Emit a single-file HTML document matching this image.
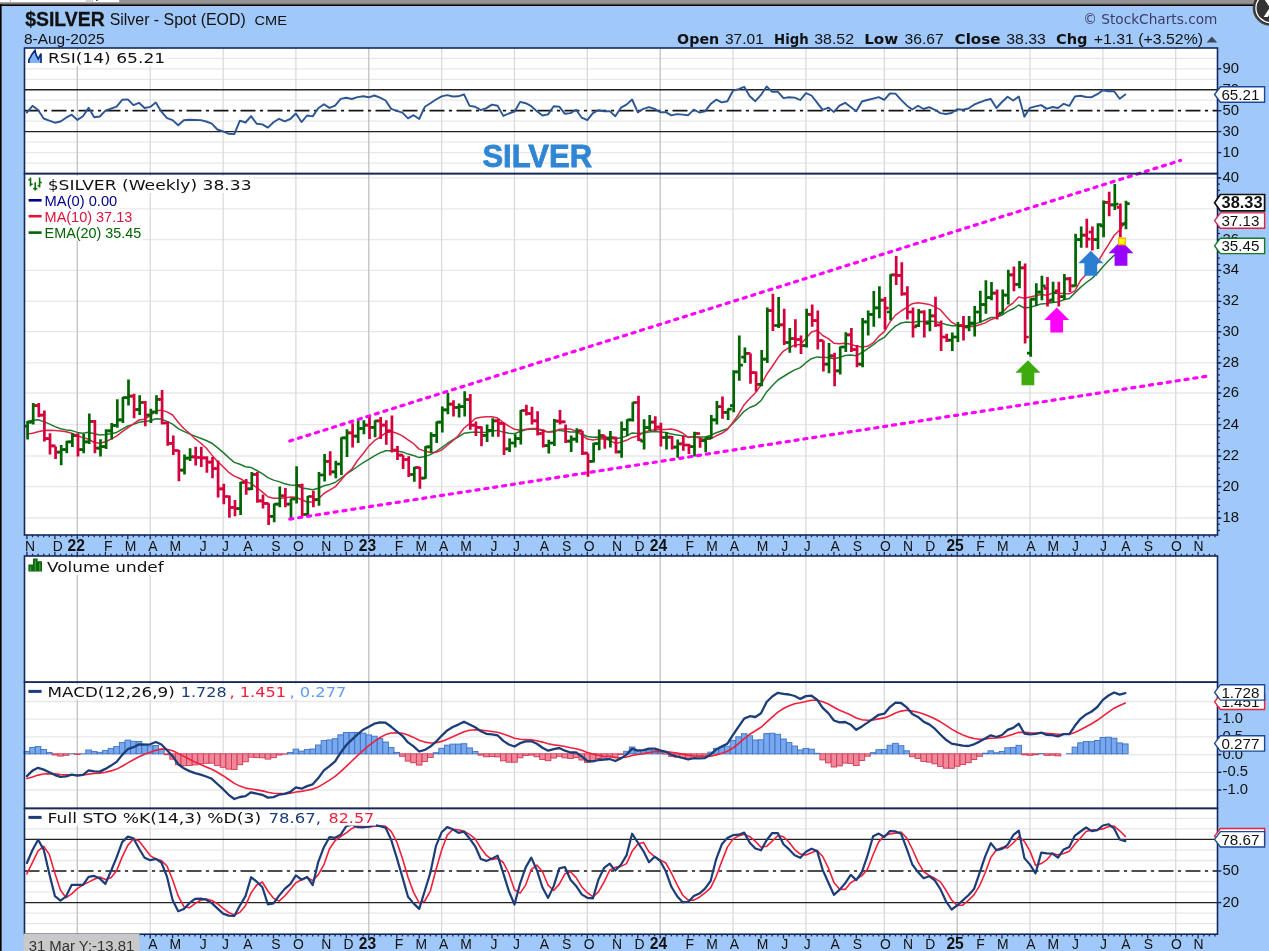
<!DOCTYPE html>
<html><head><meta charset="utf-8"><title>$SILVER Silver - Spot (EOD) CME</title>
<style>html,body{margin:0;padding:0;background:#a0c8f8;}body{width:1269px;height:951px;overflow:hidden;position:relative;}</style>
</head><body>
<svg width="1269" height="951" viewBox="0 0 1269 951" style="display:block;position:absolute;left:0;top:0">
<rect x="0" y="0" width="1269" height="951" fill="#a0c8f8"/>
<rect x="0" y="0" width="1269" height="5" fill="#8e8e8e"/>
<rect x="0" y="2.3" width="1269" height="2.4" fill="#7c7c7c"/>
<rect x="119.2" y="0" width="1150" height="3.4" fill="#929292"/>
<rect x="0" y="0" width="119.2" height="2.3" fill="#ffffff"/>
<rect x="9.8" y="0" width="1" height="2.3" fill="#b4b4b4"/>
<rect x="85.7" y="0" width="5.6" height="2.3" fill="#d2d2d2"/>
<rect x="91.8" y="0" width="0.8" height="2.3" fill="#9a9a9a"/>
<rect x="96.2" y="0" width="1.4" height="1" fill="#222"/>
<rect x="0" y="4.5" width="1269" height="1.5" fill="#000"/>
<rect x="0" y="4.5" width="1.6" height="947" fill="#000"/>
<rect x="24.5" y="48.0" width="1193.0" height="487.0" fill="#fff"/>
<rect x="24.5" y="556.0" width="1193.0" height="378.20000000000005" fill="#fff"/>
<line x1="24.5" y1="58.4" x2="1217.5" y2="58.4" stroke="#e8e8e8" stroke-width="1.3"/>
<line x1="24.5" y1="68.8" x2="1217.5" y2="68.8" stroke="#e8e8e8" stroke-width="1.3"/>
<line x1="24.5" y1="79.3" x2="1217.5" y2="79.3" stroke="#e8e8e8" stroke-width="1.3"/>
<line x1="24.5" y1="100.2" x2="1217.5" y2="100.2" stroke="#e8e8e8" stroke-width="1.3"/>
<line x1="24.5" y1="121.2" x2="1217.5" y2="121.2" stroke="#e8e8e8" stroke-width="1.3"/>
<line x1="24.5" y1="142.1" x2="1217.5" y2="142.1" stroke="#e8e8e8" stroke-width="1.3"/>
<line x1="24.5" y1="152.6" x2="1217.5" y2="152.6" stroke="#e8e8e8" stroke-width="1.3"/>
<line x1="24.5" y1="163.1" x2="1217.5" y2="163.1" stroke="#e8e8e8" stroke-width="1.3"/>
<line x1="77.3" y1="48.0" x2="77.3" y2="173.6" stroke="#c2c2c2" stroke-width="1.3"/>
<line x1="150.2" y1="48.0" x2="150.2" y2="173.6" stroke="#dadada" stroke-width="1.3"/>
<line x1="223.1" y1="48.0" x2="223.1" y2="173.6" stroke="#dadada" stroke-width="1.3"/>
<line x1="295.9" y1="48.0" x2="295.9" y2="173.6" stroke="#dadada" stroke-width="1.3"/>
<line x1="368.8" y1="48.0" x2="368.8" y2="173.6" stroke="#c2c2c2" stroke-width="1.3"/>
<line x1="441.6" y1="48.0" x2="441.6" y2="173.6" stroke="#dadada" stroke-width="1.3"/>
<line x1="514.5" y1="48.0" x2="514.5" y2="173.6" stroke="#dadada" stroke-width="1.3"/>
<line x1="587.3" y1="48.0" x2="587.3" y2="173.6" stroke="#dadada" stroke-width="1.3"/>
<line x1="660.2" y1="48.0" x2="660.2" y2="173.6" stroke="#c2c2c2" stroke-width="1.3"/>
<line x1="733.0" y1="48.0" x2="733.0" y2="173.6" stroke="#dadada" stroke-width="1.3"/>
<line x1="805.9" y1="48.0" x2="805.9" y2="173.6" stroke="#dadada" stroke-width="1.3"/>
<line x1="884.3" y1="48.0" x2="884.3" y2="173.6" stroke="#dadada" stroke-width="1.3"/>
<line x1="957.2" y1="48.0" x2="957.2" y2="173.6" stroke="#c2c2c2" stroke-width="1.3"/>
<line x1="1030.0" y1="48.0" x2="1030.0" y2="173.6" stroke="#dadada" stroke-width="1.3"/>
<line x1="1102.9" y1="48.0" x2="1102.9" y2="173.6" stroke="#dadada" stroke-width="1.3"/>
<line x1="1175.7" y1="48.0" x2="1175.7" y2="173.6" stroke="#dadada" stroke-width="1.3"/>
<line x1="24.5" y1="518.0" x2="1217.5" y2="518.0" stroke="#e8e8e8" stroke-width="1.3"/>
<line x1="24.5" y1="486.6" x2="1217.5" y2="486.6" stroke="#e8e8e8" stroke-width="1.3"/>
<line x1="24.5" y1="456.0" x2="1217.5" y2="456.0" stroke="#e8e8e8" stroke-width="1.3"/>
<line x1="24.5" y1="424.6" x2="1217.5" y2="424.6" stroke="#e8e8e8" stroke-width="1.3"/>
<line x1="24.5" y1="393.0" x2="1217.5" y2="393.0" stroke="#e8e8e8" stroke-width="1.3"/>
<line x1="24.5" y1="362.9" x2="1217.5" y2="362.9" stroke="#e8e8e8" stroke-width="1.3"/>
<line x1="24.5" y1="331.7" x2="1217.5" y2="331.7" stroke="#e8e8e8" stroke-width="1.3"/>
<line x1="24.5" y1="301.4" x2="1217.5" y2="301.4" stroke="#e8e8e8" stroke-width="1.3"/>
<line x1="24.5" y1="270.4" x2="1217.5" y2="270.4" stroke="#e8e8e8" stroke-width="1.3"/>
<line x1="24.5" y1="239.7" x2="1217.5" y2="239.7" stroke="#e8e8e8" stroke-width="1.3"/>
<line x1="24.5" y1="208.8" x2="1217.5" y2="208.8" stroke="#e8e8e8" stroke-width="1.3"/>
<line x1="24.5" y1="177.9" x2="1217.5" y2="177.9" stroke="#e8e8e8" stroke-width="1.3"/>
<line x1="77.3" y1="173.6" x2="77.3" y2="535.0" stroke="#c2c2c2" stroke-width="1.3"/>
<line x1="150.2" y1="173.6" x2="150.2" y2="535.0" stroke="#dadada" stroke-width="1.3"/>
<line x1="223.1" y1="173.6" x2="223.1" y2="535.0" stroke="#dadada" stroke-width="1.3"/>
<line x1="295.9" y1="173.6" x2="295.9" y2="535.0" stroke="#dadada" stroke-width="1.3"/>
<line x1="368.8" y1="173.6" x2="368.8" y2="535.0" stroke="#c2c2c2" stroke-width="1.3"/>
<line x1="441.6" y1="173.6" x2="441.6" y2="535.0" stroke="#dadada" stroke-width="1.3"/>
<line x1="514.5" y1="173.6" x2="514.5" y2="535.0" stroke="#dadada" stroke-width="1.3"/>
<line x1="587.3" y1="173.6" x2="587.3" y2="535.0" stroke="#dadada" stroke-width="1.3"/>
<line x1="660.2" y1="173.6" x2="660.2" y2="535.0" stroke="#c2c2c2" stroke-width="1.3"/>
<line x1="733.0" y1="173.6" x2="733.0" y2="535.0" stroke="#dadada" stroke-width="1.3"/>
<line x1="805.9" y1="173.6" x2="805.9" y2="535.0" stroke="#dadada" stroke-width="1.3"/>
<line x1="884.3" y1="173.6" x2="884.3" y2="535.0" stroke="#dadada" stroke-width="1.3"/>
<line x1="957.2" y1="173.6" x2="957.2" y2="535.0" stroke="#c2c2c2" stroke-width="1.3"/>
<line x1="1030.0" y1="173.6" x2="1030.0" y2="535.0" stroke="#dadada" stroke-width="1.3"/>
<line x1="1102.9" y1="173.6" x2="1102.9" y2="535.0" stroke="#dadada" stroke-width="1.3"/>
<line x1="1175.7" y1="173.6" x2="1175.7" y2="535.0" stroke="#dadada" stroke-width="1.3"/>
<line x1="77.3" y1="556.0" x2="77.3" y2="682.2" stroke="#c2c2c2" stroke-width="1.3"/>
<line x1="150.2" y1="556.0" x2="150.2" y2="682.2" stroke="#dadada" stroke-width="1.3"/>
<line x1="223.1" y1="556.0" x2="223.1" y2="682.2" stroke="#dadada" stroke-width="1.3"/>
<line x1="295.9" y1="556.0" x2="295.9" y2="682.2" stroke="#dadada" stroke-width="1.3"/>
<line x1="368.8" y1="556.0" x2="368.8" y2="682.2" stroke="#c2c2c2" stroke-width="1.3"/>
<line x1="441.6" y1="556.0" x2="441.6" y2="682.2" stroke="#dadada" stroke-width="1.3"/>
<line x1="514.5" y1="556.0" x2="514.5" y2="682.2" stroke="#dadada" stroke-width="1.3"/>
<line x1="587.3" y1="556.0" x2="587.3" y2="682.2" stroke="#dadada" stroke-width="1.3"/>
<line x1="660.2" y1="556.0" x2="660.2" y2="682.2" stroke="#c2c2c2" stroke-width="1.3"/>
<line x1="733.0" y1="556.0" x2="733.0" y2="682.2" stroke="#dadada" stroke-width="1.3"/>
<line x1="805.9" y1="556.0" x2="805.9" y2="682.2" stroke="#dadada" stroke-width="1.3"/>
<line x1="884.3" y1="556.0" x2="884.3" y2="682.2" stroke="#dadada" stroke-width="1.3"/>
<line x1="957.2" y1="556.0" x2="957.2" y2="682.2" stroke="#c2c2c2" stroke-width="1.3"/>
<line x1="1030.0" y1="556.0" x2="1030.0" y2="682.2" stroke="#dadada" stroke-width="1.3"/>
<line x1="1102.9" y1="556.0" x2="1102.9" y2="682.2" stroke="#dadada" stroke-width="1.3"/>
<line x1="1175.7" y1="556.0" x2="1175.7" y2="682.2" stroke="#dadada" stroke-width="1.3"/>
<line x1="24.5" y1="701.5" x2="1217.5" y2="701.5" stroke="#e8e8e8" stroke-width="1.3"/>
<line x1="24.5" y1="719.2" x2="1217.5" y2="719.2" stroke="#e8e8e8" stroke-width="1.3"/>
<line x1="24.5" y1="736.9" x2="1217.5" y2="736.9" stroke="#e8e8e8" stroke-width="1.3"/>
<line x1="24.5" y1="754.6" x2="1217.5" y2="754.6" stroke="#e8e8e8" stroke-width="1.3"/>
<line x1="24.5" y1="772.3" x2="1217.5" y2="772.3" stroke="#e8e8e8" stroke-width="1.3"/>
<line x1="24.5" y1="790.0" x2="1217.5" y2="790.0" stroke="#e8e8e8" stroke-width="1.3"/>
<line x1="77.3" y1="682.2" x2="77.3" y2="808.4" stroke="#c2c2c2" stroke-width="1.3"/>
<line x1="150.2" y1="682.2" x2="150.2" y2="808.4" stroke="#dadada" stroke-width="1.3"/>
<line x1="223.1" y1="682.2" x2="223.1" y2="808.4" stroke="#dadada" stroke-width="1.3"/>
<line x1="295.9" y1="682.2" x2="295.9" y2="808.4" stroke="#dadada" stroke-width="1.3"/>
<line x1="368.8" y1="682.2" x2="368.8" y2="808.4" stroke="#c2c2c2" stroke-width="1.3"/>
<line x1="441.6" y1="682.2" x2="441.6" y2="808.4" stroke="#dadada" stroke-width="1.3"/>
<line x1="514.5" y1="682.2" x2="514.5" y2="808.4" stroke="#dadada" stroke-width="1.3"/>
<line x1="587.3" y1="682.2" x2="587.3" y2="808.4" stroke="#dadada" stroke-width="1.3"/>
<line x1="660.2" y1="682.2" x2="660.2" y2="808.4" stroke="#c2c2c2" stroke-width="1.3"/>
<line x1="733.0" y1="682.2" x2="733.0" y2="808.4" stroke="#dadada" stroke-width="1.3"/>
<line x1="805.9" y1="682.2" x2="805.9" y2="808.4" stroke="#dadada" stroke-width="1.3"/>
<line x1="884.3" y1="682.2" x2="884.3" y2="808.4" stroke="#dadada" stroke-width="1.3"/>
<line x1="957.2" y1="682.2" x2="957.2" y2="808.4" stroke="#c2c2c2" stroke-width="1.3"/>
<line x1="1030.0" y1="682.2" x2="1030.0" y2="808.4" stroke="#dadada" stroke-width="1.3"/>
<line x1="1102.9" y1="682.2" x2="1102.9" y2="808.4" stroke="#dadada" stroke-width="1.3"/>
<line x1="1175.7" y1="682.2" x2="1175.7" y2="808.4" stroke="#dadada" stroke-width="1.3"/>
<line x1="24.5" y1="818.3" x2="1217.5" y2="818.3" stroke="#e8e8e8" stroke-width="1.3"/>
<line x1="24.5" y1="828.8" x2="1217.5" y2="828.8" stroke="#e8e8e8" stroke-width="1.3"/>
<line x1="24.5" y1="849.9" x2="1217.5" y2="849.9" stroke="#e8e8e8" stroke-width="1.3"/>
<line x1="24.5" y1="860.5" x2="1217.5" y2="860.5" stroke="#e8e8e8" stroke-width="1.3"/>
<line x1="24.5" y1="881.5" x2="1217.5" y2="881.5" stroke="#e8e8e8" stroke-width="1.3"/>
<line x1="24.5" y1="892.1" x2="1217.5" y2="892.1" stroke="#e8e8e8" stroke-width="1.3"/>
<line x1="24.5" y1="913.2" x2="1217.5" y2="913.2" stroke="#e8e8e8" stroke-width="1.3"/>
<line x1="24.5" y1="923.7" x2="1217.5" y2="923.7" stroke="#e8e8e8" stroke-width="1.3"/>
<line x1="77.3" y1="808.4" x2="77.3" y2="934.2" stroke="#c2c2c2" stroke-width="1.3"/>
<line x1="150.2" y1="808.4" x2="150.2" y2="934.2" stroke="#dadada" stroke-width="1.3"/>
<line x1="223.1" y1="808.4" x2="223.1" y2="934.2" stroke="#dadada" stroke-width="1.3"/>
<line x1="295.9" y1="808.4" x2="295.9" y2="934.2" stroke="#dadada" stroke-width="1.3"/>
<line x1="368.8" y1="808.4" x2="368.8" y2="934.2" stroke="#c2c2c2" stroke-width="1.3"/>
<line x1="441.6" y1="808.4" x2="441.6" y2="934.2" stroke="#dadada" stroke-width="1.3"/>
<line x1="514.5" y1="808.4" x2="514.5" y2="934.2" stroke="#dadada" stroke-width="1.3"/>
<line x1="587.3" y1="808.4" x2="587.3" y2="934.2" stroke="#dadada" stroke-width="1.3"/>
<line x1="660.2" y1="808.4" x2="660.2" y2="934.2" stroke="#c2c2c2" stroke-width="1.3"/>
<line x1="733.0" y1="808.4" x2="733.0" y2="934.2" stroke="#dadada" stroke-width="1.3"/>
<line x1="805.9" y1="808.4" x2="805.9" y2="934.2" stroke="#dadada" stroke-width="1.3"/>
<line x1="884.3" y1="808.4" x2="884.3" y2="934.2" stroke="#dadada" stroke-width="1.3"/>
<line x1="957.2" y1="808.4" x2="957.2" y2="934.2" stroke="#c2c2c2" stroke-width="1.3"/>
<line x1="1030.0" y1="808.4" x2="1030.0" y2="934.2" stroke="#dadada" stroke-width="1.3"/>
<line x1="1102.9" y1="808.4" x2="1102.9" y2="934.2" stroke="#dadada" stroke-width="1.3"/>
<line x1="1175.7" y1="808.4" x2="1175.7" y2="934.2" stroke="#dadada" stroke-width="1.3"/>
<line x1="24.5" y1="89.8" x2="1217.5" y2="89.8" stroke="#222" stroke-width="1.4"/>
<line x1="24.5" y1="131.6" x2="1217.5" y2="131.6" stroke="#222" stroke-width="1.4"/>
<line x1="24.5" y1="110.7" x2="1217.5" y2="110.7" stroke="#151515" stroke-width="1.7" stroke-dasharray="15 4.4 3.2 4.4"/>
<line x1="24.5" y1="839.4" x2="1217.5" y2="839.4" stroke="#222" stroke-width="1.4"/>
<line x1="24.5" y1="902.6" x2="1217.5" y2="902.6" stroke="#222" stroke-width="1.4"/>
<line x1="24.5" y1="871.0" x2="1217.5" y2="871.0" stroke="#151515" stroke-width="1.7" stroke-dasharray="15 4.4 3.2 4.4"/>
<polyline points="26.9,112.6 32.5,105.8 38.1,109.9 43.7,118.5 49.3,120.7 54.9,122.7 60.5,121.5 66.1,117.7 71.7,114.7 77.3,119.9 83.0,116.2 88.6,107.8 94.2,117.2 99.8,116.5 105.4,110.6 111.0,108.6 116.6,106.7 122.2,99.8 127.8,99.4 133.4,105.1 139.0,102.8 144.6,108.0 150.2,106.9 155.8,102.6 161.4,111.7 167.0,118.1 172.6,120.1 178.2,125.2 183.8,120.3 189.4,119.8 195.0,120.0 200.6,120.1 206.2,121.5 211.8,123.7 217.4,129.5 223.1,131.3 228.7,133.8 234.3,134.1 239.9,120.6 245.5,122.5 251.1,116.1 256.7,123.8 262.3,124.4 267.9,127.6 273.5,122.3 279.1,118.8 284.7,121.3 290.3,119.0 295.9,113.5 301.5,122.1 307.1,115.5 312.7,116.4 318.3,108.2 323.9,104.3 329.5,107.9 335.1,105.6 340.7,98.9 346.3,97.8 351.9,99.0 357.5,97.1 363.2,96.3 368.8,97.3 374.4,95.5 380.0,97.7 385.6,100.5 391.2,108.9 396.8,110.9 402.4,112.7 408.0,118.3 413.6,115.2 419.2,119.0 424.8,106.8 430.4,103.3 436.0,99.5 441.6,96.4 447.2,95.1 452.8,96.5 458.4,96.3 464.0,94.3 469.6,105.9 475.2,106.8 480.8,110.1 486.4,108.1 492.0,104.6 497.6,105.7 503.3,115.9 508.9,113.5 514.5,111.7 520.1,101.9 525.7,103.2 531.3,106.2 536.9,111.2 542.5,115.5 548.1,114.4 553.7,106.3 559.3,106.6 564.9,113.8 570.5,113.1 576.1,109.8 581.7,117.7 587.3,120.2 592.9,113.1 598.5,110.2 604.1,111.4 609.7,111.1 615.3,116.3 620.9,107.7 626.5,104.6 632.1,99.5 637.8,112.4 643.4,108.8 649.0,107.2 654.6,108.9 660.2,112.3 665.8,112.1 671.4,115.4 677.0,114.1 682.6,114.6 688.2,115.2 693.8,109.6 699.4,112.5 705.0,111.3 710.6,104.1 716.2,99.7 721.8,102.4 727.4,101.3 733.0,90.7 738.6,89.2 744.2,86.8 749.8,96.2 755.4,101.2 761.0,94.9 766.6,86.4 772.2,91.9 777.9,91.8 783.5,98.1 789.1,97.3 794.7,97.6 800.3,100.0 805.9,93.1 811.5,95.5 817.1,102.7 822.7,109.8 828.3,107.6 833.9,111.9 839.5,105.6 845.1,102.8 850.7,107.1 856.3,111.2 861.9,101.5 867.5,100.0 873.1,98.6 878.7,97.1 884.3,99.8 889.9,93.5 895.5,93.6 901.1,99.8 906.7,105.4 912.3,109.5 918.0,105.8 923.6,109.0 929.2,107.1 934.8,109.8 940.4,113.1 946.0,114.0 951.6,113.0 957.2,109.3 962.8,109.7 968.4,108.5 974.0,104.7 979.6,102.4 985.2,100.3 990.8,99.0 996.4,108.0 1002.0,102.0 1007.6,96.8 1013.2,100.5 1018.8,96.5 1024.4,116.8 1030.0,107.8 1035.6,106.4 1041.2,105.1 1046.8,108.9 1052.4,107.0 1058.0,108.0 1063.7,103.8 1069.3,105.9 1074.9,96.5 1080.5,95.7 1086.1,97.0 1091.7,97.2 1097.3,94.2 1102.9,90.3 1108.5,91.3 1114.1,91.2 1119.7,98.8 1125.3,94.5" fill="none" stroke="#2c5693" stroke-width="1.9" stroke-linejoin="round" stroke-linecap="round" />
<polyline points="26.9,421.8 32.5,420.3 38.1,419.8 43.7,421.6 49.3,423.9 54.9,426.6 60.5,428.8 66.1,430.1 71.7,430.6 77.3,432.4 83.0,433.3 88.6,432.2 94.2,433.7 99.8,434.9 105.4,434.5 111.0,433.7 116.6,432.4 122.2,429.1 127.8,426.0 133.4,424.4 139.0,422.3 144.6,421.6 150.2,420.7 155.8,418.7 161.4,419.1 167.0,421.4 172.6,424.2 178.2,428.6 183.8,431.4 189.4,433.9 195.0,436.1 200.6,438.2 206.2,440.5 211.8,443.2 217.4,447.6 223.1,452.4 228.7,457.6 234.3,462.4 239.9,464.3 245.5,466.7 251.1,467.4 256.7,470.5 262.3,473.6 267.9,477.6 273.5,480.1 279.1,481.6 284.7,483.7 290.3,485.1 295.9,485.2 301.5,487.9 307.1,488.7 312.7,489.8 318.3,488.3 323.9,485.7 329.5,484.4 335.1,482.5 340.7,478.3 346.3,474.0 351.9,470.4 357.5,466.5 363.2,462.7 368.8,459.4 374.4,455.8 380.0,452.9 385.6,450.8 391.2,450.7 396.8,451.1 402.4,451.9 408.0,454.1 413.6,455.5 419.2,457.6 424.8,456.6 430.4,454.6 436.0,451.5 441.6,447.6 447.2,443.5 452.8,440.0 458.4,436.9 464.0,433.3 469.6,432.6 475.2,432.1 480.8,432.4 486.4,432.2 492.0,431.1 497.6,430.4 503.3,432.1 508.9,433.2 514.5,433.7 520.1,431.5 525.7,429.8 531.3,428.9 536.9,429.4 542.5,430.9 548.1,432.1 553.7,431.0 559.3,430.2 564.9,431.2 570.5,432.0 576.1,431.9 581.7,433.9 587.3,436.5 592.9,437.2 598.5,437.0 604.1,437.2 609.7,437.3 615.3,438.7 620.9,437.8 626.5,436.1 632.1,432.9 637.8,433.5 643.4,433.0 649.0,432.0 654.6,431.5 660.2,432.1 665.8,432.6 671.4,433.9 677.0,434.9 682.6,435.8 688.2,436.9 693.8,436.5 699.4,436.9 705.0,437.0 710.6,435.4 716.2,432.7 721.8,430.7 727.4,428.7 733.0,423.2 738.6,417.5 744.2,411.3 749.8,407.5 755.4,405.3 761.0,400.7 766.6,391.9 772.2,385.7 777.9,380.0 783.5,376.5 789.1,373.0 794.7,369.9 800.3,367.6 805.9,362.7 811.5,358.7 817.1,356.9 822.7,357.6 828.3,357.5 833.9,358.8 839.5,357.6 845.1,355.5 850.7,354.9 856.3,355.8 861.9,352.5 867.5,348.8 873.1,344.9 878.7,340.5 884.3,337.4 889.9,331.3 895.5,326.1 901.1,323.0 906.7,322.0 912.3,322.4 918.0,321.4 923.6,321.6 929.2,321.0 934.8,321.4 940.4,322.9 946.0,324.5 951.6,325.7 957.2,325.7 962.8,325.8 968.4,325.5 974.0,324.3 979.6,322.4 985.2,320.0 990.8,317.5 996.4,317.2 1002.0,315.1 1007.6,311.4 1013.2,308.8 1018.8,305.0 1024.4,308.0 1030.0,307.2 1035.6,305.8 1041.2,303.9 1046.8,303.6 1052.4,302.6 1058.0,302.1 1063.7,299.8 1069.3,298.5 1074.9,292.9 1080.5,287.4 1086.1,282.7 1091.7,278.6 1097.3,273.4 1102.9,266.7 1108.5,260.8 1114.1,255.4 1119.7,252.4 1125.3,247.8" fill="none" stroke="#1f7a2e" stroke-width="1.5" stroke-linejoin="round" stroke-linecap="round" />
<polyline points="26.9,433.9 32.5,433.2 38.1,431.7 43.7,430.6 49.3,430.3 54.9,430.6 60.5,431.1 66.1,431.7 71.7,433.3 77.3,435.7 83.0,437.6 88.6,439.2 94.2,442.5 99.8,443.3 105.4,441.8 111.0,439.1 116.6,436.1 122.2,431.7 127.8,427.8 133.4,423.8 139.0,419.9 144.6,419.2 150.2,415.6 155.8,410.9 161.4,410.1 167.0,411.9 172.6,415.0 178.2,422.3 183.8,428.5 189.4,433.2 195.0,438.7 200.6,443.0 206.2,448.0 211.8,454.9 217.4,461.4 223.1,466.7 228.7,472.3 234.3,476.1 239.9,478.5 245.5,481.7 251.1,483.4 256.7,487.7 262.3,491.9 267.9,496.7 273.5,498.2 279.1,498.2 284.7,497.9 290.3,496.9 295.9,497.2 301.5,499.8 307.1,502.0 312.7,501.9 318.3,499.0 323.9,493.5 329.5,490.2 335.1,486.9 340.7,480.4 346.3,473.9 351.9,469.0 357.5,460.5 363.2,453.5 368.8,446.1 374.4,440.7 380.0,437.1 385.6,432.9 391.2,431.5 396.8,433.2 402.4,435.9 408.0,439.8 413.6,443.7 419.2,449.1 424.8,451.1 430.4,452.5 436.0,452.2 441.6,450.1 447.2,445.5 452.8,440.8 458.4,435.5 464.0,428.0 469.6,423.7 475.2,418.5 480.8,417.3 486.4,416.8 492.0,416.7 497.6,418.1 503.3,422.5 508.9,426.1 514.5,429.3 520.1,430.3 525.7,429.2 531.3,428.6 536.9,428.4 542.5,429.9 548.1,432.1 553.7,431.9 559.3,429.2 564.9,429.0 570.5,429.1 576.1,431.1 581.7,435.0 587.3,439.1 592.9,440.1 598.5,439.1 604.1,438.7 609.7,440.4 615.3,443.4 620.9,442.2 626.5,440.3 632.1,437.4 637.8,436.1 643.4,432.7 649.0,430.6 654.6,429.7 660.2,429.6 665.8,429.5 671.4,429.0 677.0,430.5 682.6,433.0 688.2,437.4 693.8,436.8 699.4,438.0 705.0,439.6 710.6,438.9 716.2,435.8 721.8,433.3 727.4,429.6 733.0,422.3 738.6,414.2 744.2,404.7 749.8,398.5 755.4,392.8 761.0,385.1 766.6,374.5 772.2,366.5 777.9,357.8 783.5,351.1 789.1,347.7 794.7,345.1 800.3,344.4 805.9,338.5 811.5,332.0 817.1,330.2 822.7,335.5 828.3,338.6 833.9,343.2 839.5,343.7 845.1,343.3 850.7,344.3 856.3,346.1 861.9,346.9 867.5,346.3 873.1,342.9 878.7,336.4 884.3,331.6 889.9,322.1 895.5,315.1 901.1,311.0 906.7,307.3 912.3,303.7 918.0,302.7 923.6,303.6 929.2,304.4 934.8,306.9 940.4,309.7 946.0,316.2 951.6,322.2 957.2,325.4 962.8,326.9 968.4,326.5 974.0,326.5 979.6,324.7 985.2,322.9 990.8,319.7 996.4,317.5 1002.0,313.0 1007.6,306.9 1013.2,302.8 1018.8,296.9 1024.4,298.3 1030.0,296.9 1035.6,295.7 1041.2,294.5 1046.8,295.3 1052.4,293.1 1058.0,293.2 1063.7,293.6 1069.3,293.8 1074.9,290.9 1080.5,280.6 1086.1,274.6 1091.7,269.4 1097.3,263.2 1102.9,253.4 1108.5,244.7 1114.1,235.5 1119.7,230.0 1125.3,221.7" fill="none" stroke="#dc2447" stroke-width="1.5" stroke-linejoin="round" stroke-linecap="round" />
<path d="M27.6,421.4V439.5M23.9,426.2H27.6M27.6,422.2H31.3" stroke="#006400" stroke-width="2.7" fill="none"/>
<path d="M33.2,403.0V424.6M29.5,422.2H33.2M33.2,405.6H36.9" stroke="#006400" stroke-width="2.7" fill="none"/>
<path d="M38.8,403.0V417.3M35.1,405.6H38.8M38.8,415.1H42.5" stroke="#d4003c" stroke-width="2.7" fill="none"/>
<path d="M44.4,410.4V441.4M40.7,415.1H44.4M44.4,438.7H48.1" stroke="#d4003c" stroke-width="2.7" fill="none"/>
<path d="M50.0,433.2V454.6M46.3,438.7H50.0M50.0,445.8H53.7" stroke="#d4003c" stroke-width="2.7" fill="none"/>
<path d="M55.6,446.6V459.1M51.9,445.8H55.6M55.6,452.1H59.3" stroke="#d4003c" stroke-width="2.7" fill="none"/>
<path d="M61.2,445.0V465.2M57.5,452.1H61.2M61.2,449.7H64.9" stroke="#006400" stroke-width="2.7" fill="none"/>
<path d="M66.8,440.8V453.3M63.1,449.7H66.8M66.8,441.9H70.5" stroke="#006400" stroke-width="2.7" fill="none"/>
<path d="M72.4,433.2V447.1M68.7,441.9H72.4M72.4,435.6H76.1" stroke="#006400" stroke-width="2.7" fill="none"/>
<path d="M78.0,433.2V456.5M74.3,435.6H78.0M78.0,449.7H81.8" stroke="#d4003c" stroke-width="2.7" fill="none"/>
<path d="M83.7,434.0V453.3M80.0,449.7H83.7M83.7,441.9H87.4" stroke="#006400" stroke-width="2.7" fill="none"/>
<path d="M89.3,413.5V443.9M85.6,441.9H89.3M89.3,421.4H93.0" stroke="#006400" stroke-width="2.7" fill="none"/>
<path d="M94.9,419.9V453.3M91.2,421.4H94.9M94.9,448.1H98.6" stroke="#d4003c" stroke-width="2.7" fill="none"/>
<path d="M100.5,439.2V456.5M96.8,448.1H100.5M100.5,446.6H104.2" stroke="#006400" stroke-width="2.7" fill="none"/>
<path d="M106.1,429.3V448.9M102.4,446.6H106.1M106.1,430.9H109.8" stroke="#006400" stroke-width="2.7" fill="none"/>
<path d="M111.7,423.0V439.5M108.0,430.9H111.7M111.7,425.4H115.4" stroke="#006400" stroke-width="2.7" fill="none"/>
<path d="M117.3,399.3V427.7M113.6,425.4H117.3M117.3,419.9H121.0" stroke="#006400" stroke-width="2.7" fill="none"/>
<path d="M122.9,396.9V423.0M119.2,419.9H122.9M122.9,397.7H126.6" stroke="#006400" stroke-width="2.7" fill="none"/>
<path d="M128.5,379.5V405.6M124.8,397.7H128.5M128.5,396.2H132.2" stroke="#006400" stroke-width="2.7" fill="none"/>
<path d="M134.1,393.8V418.3M130.4,396.2H134.1M134.1,409.6H137.8" stroke="#d4003c" stroke-width="2.7" fill="none"/>
<path d="M139.7,395.2V415.1M136.0,409.6H139.7M139.7,402.5H143.4" stroke="#006400" stroke-width="2.7" fill="none"/>
<path d="M145.3,400.9V426.2M141.6,402.5H145.3M145.3,415.1H149.0" stroke="#d4003c" stroke-width="2.7" fill="none"/>
<path d="M150.9,408.8V423.0M147.2,415.1H150.9M150.9,412.0H154.6" stroke="#006400" stroke-width="2.7" fill="none"/>
<path d="M156.5,395.2V414.2M152.8,412.0H156.5M156.5,399.3H160.2" stroke="#006400" stroke-width="2.7" fill="none"/>
<path d="M162.1,390.0V424.6M158.4,399.3H162.1M162.1,423.0H165.8" stroke="#d4003c" stroke-width="2.7" fill="none"/>
<path d="M167.7,421.4V445.8M164.0,423.0H167.7M167.7,443.4H171.4" stroke="#d4003c" stroke-width="2.7" fill="none"/>
<path d="M173.3,435.6V454.9M169.6,443.4H173.3M173.3,450.5H177.0" stroke="#d4003c" stroke-width="2.7" fill="none"/>
<path d="M178.9,449.9V481.2M175.2,450.5H178.9M178.9,470.1H182.6" stroke="#d4003c" stroke-width="2.7" fill="none"/>
<path d="M184.5,454.4V474.4M180.8,470.1H184.5M184.5,458.1H188.2" stroke="#006400" stroke-width="2.7" fill="none"/>
<path d="M190.1,448.3V460.9M186.4,458.1H190.1M190.1,456.9H193.8" stroke="#006400" stroke-width="2.7" fill="none"/>
<path d="M195.7,446.7V465.5M192.0,456.9H195.7M195.7,457.5H199.4" stroke="#d4003c" stroke-width="2.7" fill="none"/>
<path d="M201.3,446.7V467.0M197.6,457.5H201.3M201.3,457.8H205.0" stroke="#d4003c" stroke-width="2.7" fill="none"/>
<path d="M206.9,456.3V472.8M203.2,457.8H206.9M206.9,462.1H210.6" stroke="#d4003c" stroke-width="2.7" fill="none"/>
<path d="M212.5,456.9V478.3M208.8,462.1H212.5M212.5,468.7H216.2" stroke="#d4003c" stroke-width="2.7" fill="none"/>
<path d="M218.1,460.6V497.6M214.4,468.7H218.1M218.1,488.8H221.8" stroke="#d4003c" stroke-width="2.7" fill="none"/>
<path d="M223.8,483.7V504.2M220.1,488.8H223.8M223.8,496.5H227.5" stroke="#d4003c" stroke-width="2.7" fill="none"/>
<path d="M229.4,495.5V517.8M225.7,496.5H229.4M229.4,507.3H233.1" stroke="#d4003c" stroke-width="2.7" fill="none"/>
<path d="M235.0,499.9V516.3M231.3,507.3H235.0M235.0,508.6H238.7" stroke="#d4003c" stroke-width="2.7" fill="none"/>
<path d="M240.6,481.9V514.9M236.9,508.6H240.6M240.6,482.5H244.3" stroke="#006400" stroke-width="2.7" fill="none"/>
<path d="M246.2,479.1V494.8M242.5,482.5H246.2M246.2,488.8H249.9" stroke="#d4003c" stroke-width="2.7" fill="none"/>
<path d="M251.8,472.1V490.1M248.1,488.8H251.8M251.8,474.4H255.5" stroke="#006400" stroke-width="2.7" fill="none"/>
<path d="M257.4,472.1V502.8M253.7,474.4H257.4M257.4,500.9H261.1" stroke="#d4003c" stroke-width="2.7" fill="none"/>
<path d="M263.0,494.5V508.6M259.3,500.9H263.0M263.0,503.4H266.7" stroke="#d4003c" stroke-width="2.7" fill="none"/>
<path d="M268.6,503.2V525.1M264.9,503.4H268.6M268.6,516.3H272.3" stroke="#d4003c" stroke-width="2.7" fill="none"/>
<path d="M274.2,503.6V522.3M270.5,516.3H274.2M274.2,504.2H277.9" stroke="#006400" stroke-width="2.7" fill="none"/>
<path d="M279.8,486.6V507.3M276.1,504.2H279.8M279.8,495.9H283.5" stroke="#006400" stroke-width="2.7" fill="none"/>
<path d="M285.4,487.9V507.3M281.7,495.9H285.4M285.4,504.2H289.1" stroke="#d4003c" stroke-width="2.7" fill="none"/>
<path d="M291.0,498.4V520.0M287.3,504.2H291.0M291.0,499.0H294.7" stroke="#006400" stroke-width="2.7" fill="none"/>
<path d="M296.6,466.3V503.6M292.9,499.0H296.6M296.6,485.5H300.3" stroke="#006400" stroke-width="2.7" fill="none"/>
<path d="M302.2,483.7V516.3M298.5,485.5H302.2M302.2,514.4H305.9" stroke="#d4003c" stroke-width="2.7" fill="none"/>
<path d="M307.8,495.9V515.6M304.1,514.4H307.8M307.8,496.5H311.5" stroke="#006400" stroke-width="2.7" fill="none"/>
<path d="M313.4,490.7V507.3M309.7,496.5H313.4M313.4,499.6H317.1" stroke="#d4003c" stroke-width="2.7" fill="none"/>
<path d="M319.0,472.1V505.8M315.3,499.6H319.0M319.0,475.0H322.7" stroke="#006400" stroke-width="2.7" fill="none"/>
<path d="M324.6,454.1V481.6M320.9,475.0H324.6M324.6,461.4H328.3" stroke="#006400" stroke-width="2.7" fill="none"/>
<path d="M330.2,451.3V475.6M326.5,461.4H330.2M330.2,471.9H333.9" stroke="#d4003c" stroke-width="2.7" fill="none"/>
<path d="M335.8,460.7V478.2M332.1,471.9H335.8M335.8,464.0H339.5" stroke="#006400" stroke-width="2.7" fill="none"/>
<path d="M341.4,437.2V475.1M337.7,464.0H341.4M341.4,437.9H345.1" stroke="#006400" stroke-width="2.7" fill="none"/>
<path d="M347.0,429.2V457.1M343.3,437.9H347.0M347.0,432.9H350.7" stroke="#006400" stroke-width="2.7" fill="none"/>
<path d="M352.6,423.3V447.5M348.9,432.9H352.6M352.6,436.1H356.3" stroke="#d4003c" stroke-width="2.7" fill="none"/>
<path d="M358.2,420.2V443.1M354.5,436.1H358.2M358.2,428.5H361.9" stroke="#006400" stroke-width="2.7" fill="none"/>
<path d="M363.9,420.2V434.2M360.2,428.5H363.9M363.9,425.2H367.6" stroke="#006400" stroke-width="2.7" fill="none"/>
<path d="M369.5,417.0V438.9M365.8,425.2H369.5M369.5,427.3H373.2" stroke="#d4003c" stroke-width="2.7" fill="none"/>
<path d="M375.1,420.2V437.2M371.4,427.3H375.1M375.1,420.8H378.8" stroke="#006400" stroke-width="2.7" fill="none"/>
<path d="M380.7,417.0V438.9M377.0,420.8H380.7M380.7,425.2H384.4" stroke="#d4003c" stroke-width="2.7" fill="none"/>
<path d="M386.3,420.2V444.7M382.6,425.2H386.3M386.3,430.9H390.0" stroke="#d4003c" stroke-width="2.7" fill="none"/>
<path d="M391.9,415.4V452.4M388.2,430.9H391.9M391.9,450.2H395.6" stroke="#d4003c" stroke-width="2.7" fill="none"/>
<path d="M397.5,446.1V460.0M393.8,450.2H397.5M397.5,455.2H401.2" stroke="#d4003c" stroke-width="2.7" fill="none"/>
<path d="M403.1,455.2V468.9M399.4,455.2H403.1M403.1,459.5H406.8" stroke="#d4003c" stroke-width="2.7" fill="none"/>
<path d="M408.7,456.2V477.0M405.0,459.5H408.7M408.7,474.5H412.4" stroke="#d4003c" stroke-width="2.7" fill="none"/>
<path d="M414.3,467.0V481.7M410.6,474.5H414.3M414.3,467.6H418.0" stroke="#006400" stroke-width="2.7" fill="none"/>
<path d="M419.9,467.0V488.8M416.2,467.6H419.9M419.9,478.2H423.6" stroke="#d4003c" stroke-width="2.7" fill="none"/>
<path d="M425.5,446.3V478.8M421.8,478.2H425.5M425.5,446.9H429.2" stroke="#006400" stroke-width="2.7" fill="none"/>
<path d="M431.1,432.3V452.7M427.4,446.9H431.1M431.1,435.4H434.8" stroke="#006400" stroke-width="2.7" fill="none"/>
<path d="M436.7,421.4V443.1M433.0,435.4H436.7M436.7,422.1H440.4" stroke="#006400" stroke-width="2.7" fill="none"/>
<path d="M442.3,406.4V432.6M438.6,422.1H442.3M442.3,409.9H446.0" stroke="#006400" stroke-width="2.7" fill="none"/>
<path d="M447.9,392.7V414.3M444.2,409.9H447.9M447.9,404.2H451.6" stroke="#006400" stroke-width="2.7" fill="none"/>
<path d="M453.5,400.3V416.4M449.8,404.2H453.5M453.5,407.4H457.2" stroke="#d4003c" stroke-width="2.7" fill="none"/>
<path d="M459.1,403.6V417.6M455.4,407.4H459.1M459.1,406.7H462.8" stroke="#006400" stroke-width="2.7" fill="none"/>
<path d="M464.7,391.2V416.4M461.0,406.7H464.7M464.7,399.6H468.4" stroke="#006400" stroke-width="2.7" fill="none"/>
<path d="M470.3,394.1V429.8M466.6,399.6H470.3M470.3,425.2H474.0" stroke="#d4003c" stroke-width="2.7" fill="none"/>
<path d="M475.9,421.4V436.1M472.2,425.2H475.9M475.9,427.3H479.6" stroke="#d4003c" stroke-width="2.7" fill="none"/>
<path d="M481.5,426.6V446.3M477.8,427.3H481.5M481.5,435.4H485.2" stroke="#d4003c" stroke-width="2.7" fill="none"/>
<path d="M487.1,424.6V441.9M483.4,435.4H487.1M487.1,430.4H490.8" stroke="#006400" stroke-width="2.7" fill="none"/>
<path d="M492.7,418.3V436.7M489.0,430.4H492.7M492.7,420.8H496.4" stroke="#006400" stroke-width="2.7" fill="none"/>
<path d="M498.3,418.9V436.7M494.6,420.8H498.3M498.3,423.3H502.0" stroke="#d4003c" stroke-width="2.7" fill="none"/>
<path d="M504.0,423.3V455.1M500.3,423.3H504.0M504.0,448.8H507.7" stroke="#d4003c" stroke-width="2.7" fill="none"/>
<path d="M509.6,438.6V451.9M505.9,448.8H509.6M509.6,443.0H513.3" stroke="#006400" stroke-width="2.7" fill="none"/>
<path d="M515.2,434.2V447.5M511.5,443.0H515.2M515.2,438.6H518.9" stroke="#006400" stroke-width="2.7" fill="none"/>
<path d="M520.8,409.9V444.4M517.1,438.6H520.8M520.8,410.5H524.5" stroke="#006400" stroke-width="2.7" fill="none"/>
<path d="M526.4,404.7V415.6M522.7,410.5H526.4M526.4,413.7H530.1" stroke="#d4003c" stroke-width="2.7" fill="none"/>
<path d="M532.0,406.7V424.6M528.3,413.7H532.0M532.0,420.8H535.7" stroke="#d4003c" stroke-width="2.7" fill="none"/>
<path d="M537.6,411.2V435.4M533.9,420.8H537.6M537.6,433.5H541.3" stroke="#d4003c" stroke-width="2.7" fill="none"/>
<path d="M543.2,429.6V447.5M539.5,433.5H543.2M543.2,445.6H546.9" stroke="#d4003c" stroke-width="2.7" fill="none"/>
<path d="M548.8,439.8V453.6M545.1,445.6H548.8M548.8,443.0H552.5" stroke="#006400" stroke-width="2.7" fill="none"/>
<path d="M554.4,418.9V446.0M550.7,443.0H554.4M554.4,421.1H558.1" stroke="#006400" stroke-width="2.7" fill="none"/>
<path d="M560.0,409.9V424.6M556.3,421.1H560.0M560.0,421.9H563.7" stroke="#d4003c" stroke-width="2.7" fill="none"/>
<path d="M565.6,424.6V443.0M561.9,421.9H565.6M565.6,441.1H569.3" stroke="#d4003c" stroke-width="2.7" fill="none"/>
<path d="M571.2,435.4V451.9M567.5,441.1H571.2M571.2,439.2H574.9" stroke="#006400" stroke-width="2.7" fill="none"/>
<path d="M576.8,428.2V442.7M573.1,439.2H576.8M576.8,430.9H580.5" stroke="#006400" stroke-width="2.7" fill="none"/>
<path d="M582.4,430.9V455.1M578.7,430.9H582.4M582.4,453.2H586.1" stroke="#d4003c" stroke-width="2.7" fill="none"/>
<path d="M588.0,453.6V476.8M584.3,453.2H588.0M588.0,461.4H591.7" stroke="#d4003c" stroke-width="2.7" fill="none"/>
<path d="M593.6,442.7V462.6M589.9,461.4H593.6M593.6,443.6H597.3" stroke="#006400" stroke-width="2.7" fill="none"/>
<path d="M599.2,429.5V450.3M595.5,443.6H599.2M599.2,435.6H602.9" stroke="#006400" stroke-width="2.7" fill="none"/>
<path d="M604.8,435.4V448.8M601.1,435.6H604.8M604.8,438.7H608.5" stroke="#d4003c" stroke-width="2.7" fill="none"/>
<path d="M610.4,430.9V447.5M606.7,438.7H610.4M610.4,437.9H614.1" stroke="#006400" stroke-width="2.7" fill="none"/>
<path d="M616.0,436.7V453.6M612.3,437.9H616.0M616.0,451.9H619.7" stroke="#d4003c" stroke-width="2.7" fill="none"/>
<path d="M621.6,421.4V457.8M617.9,451.9H621.6M621.6,429.3H625.3" stroke="#006400" stroke-width="2.7" fill="none"/>
<path d="M627.2,419.2V436.1M623.5,429.3H627.2M627.2,419.9H630.9" stroke="#006400" stroke-width="2.7" fill="none"/>
<path d="M632.8,402.2V421.4M629.1,419.9H632.8M632.8,402.5H636.5" stroke="#006400" stroke-width="2.7" fill="none"/>
<path d="M638.5,395.8V441.1M634.8,402.5H638.5M638.5,439.8H642.2" stroke="#d4003c" stroke-width="2.7" fill="none"/>
<path d="M644.1,419.2V449.6M640.4,441.1H644.1M644.1,427.7H647.8" stroke="#006400" stroke-width="2.7" fill="none"/>
<path d="M649.7,415.0V431.0M646.0,427.7H649.7M649.7,422.1H653.4" stroke="#006400" stroke-width="2.7" fill="none"/>
<path d="M655.3,416.2V431.0M651.6,422.1H655.3M655.3,427.1H659.0" stroke="#d4003c" stroke-width="2.7" fill="none"/>
<path d="M660.9,422.7V446.4M657.2,427.1H660.9M660.9,437.5H664.6" stroke="#d4003c" stroke-width="2.7" fill="none"/>
<path d="M666.5,432.3V449.4M662.8,437.5H666.5M666.5,437.2H670.2" stroke="#006400" stroke-width="2.7" fill="none"/>
<path d="M672.1,436.1V449.4M668.4,437.2H672.1M672.1,447.1H675.8" stroke="#d4003c" stroke-width="2.7" fill="none"/>
<path d="M677.7,439.4V457.8M674.0,447.1H677.7M677.7,443.8H681.4" stroke="#006400" stroke-width="2.7" fill="none"/>
<path d="M683.3,436.1V450.8M679.6,443.8H683.3M683.3,445.0H687.0" stroke="#d4003c" stroke-width="2.7" fill="none"/>
<path d="M688.9,443.8V454.1M685.2,445.0H688.9M688.9,446.6H692.6" stroke="#d4003c" stroke-width="2.7" fill="none"/>
<path d="M694.5,431.7V456.6M690.8,446.6H694.5M694.5,433.5H698.2" stroke="#006400" stroke-width="2.7" fill="none"/>
<path d="M700.1,437.5V447.7M696.4,433.5H700.1M700.1,440.6H703.8" stroke="#d4003c" stroke-width="2.7" fill="none"/>
<path d="M705.7,437.5V452.2M702.0,440.6H705.7M705.7,437.9H709.4" stroke="#006400" stroke-width="2.7" fill="none"/>
<path d="M711.3,415.0V438.7M707.6,437.9H711.3M711.3,419.9H715.0" stroke="#006400" stroke-width="2.7" fill="none"/>
<path d="M716.9,401.1V424.6M713.2,419.9H716.9M716.9,406.6H720.6" stroke="#006400" stroke-width="2.7" fill="none"/>
<path d="M722.5,396.5V418.8M718.8,406.6H722.5M722.5,412.3H726.2" stroke="#d4003c" stroke-width="2.7" fill="none"/>
<path d="M728.1,408.5V420.0M724.4,412.3H728.1M728.1,409.1H731.8" stroke="#006400" stroke-width="2.7" fill="none"/>
<path d="M733.7,370.3V412.3M730.0,405.6H733.7M733.7,371.9H737.4" stroke="#006400" stroke-width="2.7" fill="none"/>
<path d="M739.3,335.4V380.7M735.6,371.9H739.3M739.3,365.2H743.0" stroke="#006400" stroke-width="2.7" fill="none"/>
<path d="M744.9,347.6V362.9M741.2,357.1H744.9M744.9,353.4H748.6" stroke="#006400" stroke-width="2.7" fill="none"/>
<path d="M750.5,353.4V383.8M746.8,353.4H750.5M750.5,372.7H754.2" stroke="#d4003c" stroke-width="2.7" fill="none"/>
<path d="M756.1,371.5V391.5M752.4,372.7H756.1M756.1,384.4H759.8" stroke="#d4003c" stroke-width="2.7" fill="none"/>
<path d="M761.7,350.1V386.2M758.0,384.4H761.7M761.7,359.2H765.4" stroke="#006400" stroke-width="2.7" fill="none"/>
<path d="M767.3,307.6V362.9M763.6,359.2H767.3M767.3,310.6H771.0" stroke="#006400" stroke-width="2.7" fill="none"/>
<path d="M772.9,293.8V331.1M769.2,310.6H772.9M772.9,325.5H776.6" stroke="#d4003c" stroke-width="2.7" fill="none"/>
<path d="M778.6,296.9V328.1M774.9,325.5H778.6M778.6,324.9H782.3" stroke="#006400" stroke-width="2.7" fill="none"/>
<path d="M784.2,308.8V345.1M780.5,324.9H784.2M784.2,342.5H787.9" stroke="#d4003c" stroke-width="2.7" fill="none"/>
<path d="M789.8,328.1V352.8M786.1,342.5H789.8M789.8,338.7H793.5" stroke="#006400" stroke-width="2.7" fill="none"/>
<path d="M795.4,319.3V347.6M791.7,338.7H795.4M795.4,339.5H799.1" stroke="#d4003c" stroke-width="2.7" fill="none"/>
<path d="M801.0,335.4V354.0M797.3,339.5H801.0M801.0,345.7H804.7" stroke="#d4003c" stroke-width="2.7" fill="none"/>
<path d="M806.6,308.8V347.6M802.9,345.7H806.6M806.6,314.4H810.3" stroke="#006400" stroke-width="2.7" fill="none"/>
<path d="M812.2,304.4V326.7M808.5,314.4H812.2M812.2,320.6H815.9" stroke="#d4003c" stroke-width="2.7" fill="none"/>
<path d="M817.8,310.6V349.5M814.1,320.6H817.8M817.8,340.6H821.5" stroke="#d4003c" stroke-width="2.7" fill="none"/>
<path d="M823.4,340.6V371.5M819.7,340.6H823.4M823.4,364.1H827.1" stroke="#d4003c" stroke-width="2.7" fill="none"/>
<path d="M829.0,343.1V373.3M825.3,364.1H829.0M829.0,355.9H832.7" stroke="#006400" stroke-width="2.7" fill="none"/>
<path d="M834.6,352.8V386.2M830.9,355.9H834.6M834.6,370.9H838.3" stroke="#d4003c" stroke-width="2.7" fill="none"/>
<path d="M840.2,346.4V374.6M836.5,370.9H840.2M840.2,347.0H843.9" stroke="#006400" stroke-width="2.7" fill="none"/>
<path d="M845.8,332.3V352.1M842.1,347.0H845.8M845.8,334.8H849.5" stroke="#006400" stroke-width="2.7" fill="none"/>
<path d="M851.4,328.1V352.1M847.7,334.8H851.4M851.4,349.5H855.1" stroke="#d4003c" stroke-width="2.7" fill="none"/>
<path d="M857.0,345.1V367.3M853.3,349.5H857.0M857.0,364.1H860.7" stroke="#d4003c" stroke-width="2.7" fill="none"/>
<path d="M862.6,318.1V367.3M858.9,364.1H862.6M862.6,321.9H866.3" stroke="#006400" stroke-width="2.7" fill="none"/>
<path d="M868.2,310.6V335.4M864.5,321.9H868.2M868.2,314.4H871.9" stroke="#006400" stroke-width="2.7" fill="none"/>
<path d="M873.8,291.0V326.7M870.1,314.4H873.8M873.8,307.8H877.5" stroke="#006400" stroke-width="2.7" fill="none"/>
<path d="M879.4,286.2V318.2M875.7,307.8H879.4M879.4,300.2H883.1" stroke="#006400" stroke-width="2.7" fill="none"/>
<path d="M885.0,297.1V329.4M881.3,300.2H885.0M885.0,308.2H888.7" stroke="#d4003c" stroke-width="2.7" fill="none"/>
<path d="M890.6,274.3V320.6M886.9,312.0H890.6M890.6,274.9H894.3" stroke="#006400" stroke-width="2.7" fill="none"/>
<path d="M896.2,256.0V285.0M892.5,274.9H896.2M896.2,275.4H899.9" stroke="#d4003c" stroke-width="2.7" fill="none"/>
<path d="M901.8,262.3V295.8M898.1,275.4H901.8M901.8,293.8H905.5" stroke="#d4003c" stroke-width="2.7" fill="none"/>
<path d="M907.4,286.2V319.4M903.7,293.8H907.4M907.4,312.0H911.1" stroke="#d4003c" stroke-width="2.7" fill="none"/>
<path d="M913.0,307.6V337.6M909.3,312.0H913.0M913.0,326.9H916.7" stroke="#d4003c" stroke-width="2.7" fill="none"/>
<path d="M918.7,309.0V326.9M915.0,325.6H918.7M918.7,312.0H922.4" stroke="#006400" stroke-width="2.7" fill="none"/>
<path d="M924.3,310.2V337.6M920.6,312.0H924.3M924.3,323.2H928.0" stroke="#d4003c" stroke-width="2.7" fill="none"/>
<path d="M929.9,309.0V331.2M926.2,323.2H929.9M929.9,315.8H933.6" stroke="#006400" stroke-width="2.7" fill="none"/>
<path d="M935.5,296.8V326.9M931.8,315.8H935.5M935.5,325.0H939.2" stroke="#d4003c" stroke-width="2.7" fill="none"/>
<path d="M941.1,320.6V351.0M937.4,325.0H941.1M941.1,337.0H944.8" stroke="#d4003c" stroke-width="2.7" fill="none"/>
<path d="M946.7,333.7V342.0M943.0,337.0H946.7M946.7,340.1H950.4" stroke="#d4003c" stroke-width="2.7" fill="none"/>
<path d="M952.3,332.5V351.0M948.6,340.1H952.3M952.3,337.0H956.0" stroke="#006400" stroke-width="2.7" fill="none"/>
<path d="M957.9,322.0V342.0M954.2,337.0H957.9M957.9,325.6H961.6" stroke="#006400" stroke-width="2.7" fill="none"/>
<path d="M963.5,315.9V340.6M959.8,325.6H963.5M963.5,326.9H967.2" stroke="#d4003c" stroke-width="2.7" fill="none"/>
<path d="M969.1,315.9V331.2M965.4,326.9H969.1M969.1,323.2H972.8" stroke="#006400" stroke-width="2.7" fill="none"/>
<path d="M974.7,305.9V336.4M971.0,323.2H974.7M974.7,312.0H978.4" stroke="#006400" stroke-width="2.7" fill="none"/>
<path d="M980.3,290.7V322.6M976.6,312.0H980.3M980.3,304.6H984.0" stroke="#006400" stroke-width="2.7" fill="none"/>
<path d="M985.9,280.3V313.7M982.2,304.6H985.9M985.9,297.7H989.6" stroke="#006400" stroke-width="2.7" fill="none"/>
<path d="M991.5,281.9V300.2M987.8,297.7H991.5M991.5,293.2H995.2" stroke="#006400" stroke-width="2.7" fill="none"/>
<path d="M997.1,289.5V319.4M993.4,293.2H997.1M997.1,314.4H1000.8" stroke="#d4003c" stroke-width="2.7" fill="none"/>
<path d="M1002.7,289.5V313.2M999.0,313.2H1002.7M1002.7,295.2H1006.4" stroke="#006400" stroke-width="2.7" fill="none"/>
<path d="M1008.3,269.8V304.6M1004.6,295.2H1008.3M1008.3,274.9H1012.0" stroke="#006400" stroke-width="2.7" fill="none"/>
<path d="M1013.9,266.6V291.3M1010.2,274.9H1013.9M1013.9,284.3H1017.6" stroke="#d4003c" stroke-width="2.7" fill="none"/>
<path d="M1019.5,261.0V288.2M1015.8,284.3H1019.5M1019.5,267.9H1023.2" stroke="#006400" stroke-width="2.7" fill="none"/>
<path d="M1025.1,263.5V343.6M1021.4,267.9H1025.1M1025.1,337.0H1028.8" stroke="#d4003c" stroke-width="2.7" fill="none"/>
<path d="M1030.7,298.5V356.7M1027.0,353.1H1030.7M1030.7,299.1H1034.4" stroke="#006400" stroke-width="2.7" fill="none"/>
<path d="M1036.3,283.3V305.9M1032.6,299.1H1036.3M1036.3,292.1H1040.0" stroke="#006400" stroke-width="2.7" fill="none"/>
<path d="M1041.9,275.7V300.3M1038.2,292.1H1041.9M1041.9,285.9H1045.6" stroke="#006400" stroke-width="2.7" fill="none"/>
<path d="M1047.5,277.1V306.6M1043.8,288.4H1047.5M1047.5,301.1H1051.2" stroke="#d4003c" stroke-width="2.7" fill="none"/>
<path d="M1053.1,281.7V302.9M1049.4,299.8H1053.1M1053.1,292.7H1056.8" stroke="#006400" stroke-width="2.7" fill="none"/>
<path d="M1058.8,281.7V306.6M1055.0,290.9H1058.8M1058.8,296.6H1062.5" stroke="#d4003c" stroke-width="2.7" fill="none"/>
<path d="M1064.4,274.1V299.8M1060.7,296.6H1064.4M1064.4,278.8H1068.1" stroke="#006400" stroke-width="2.7" fill="none"/>
<path d="M1070.0,277.1V292.1M1066.3,278.8H1070.0M1070.0,285.9H1073.7" stroke="#d4003c" stroke-width="2.7" fill="none"/>
<path d="M1075.6,233.7V286.4M1071.9,285.9H1075.6M1075.6,239.7H1079.3" stroke="#006400" stroke-width="2.7" fill="none"/>
<path d="M1081.2,226.4V247.8M1077.5,239.7H1081.2M1081.2,235.2H1084.9" stroke="#006400" stroke-width="2.7" fill="none"/>
<path d="M1086.8,218.8V247.8M1083.1,235.2H1086.8M1086.8,239.1H1090.5" stroke="#d4003c" stroke-width="2.7" fill="none"/>
<path d="M1092.4,226.4V250.4M1088.7,232.1H1092.4M1092.4,239.7H1096.1" stroke="#d4003c" stroke-width="2.7" fill="none"/>
<path d="M1098.0,223.2V249.1M1094.3,239.7H1098.0M1098.0,224.6H1101.7" stroke="#006400" stroke-width="2.7" fill="none"/>
<path d="M1103.6,200.5V237.2M1099.9,225.8H1103.6M1103.6,202.3H1107.3" stroke="#006400" stroke-width="2.7" fill="none"/>
<path d="M1109.2,191.7V216.2M1105.5,202.3H1109.2M1109.2,204.9H1112.9" stroke="#d4003c" stroke-width="2.7" fill="none"/>
<path d="M1114.8,184.1V209.9M1111.1,204.9H1114.8M1114.8,204.2H1118.5" stroke="#006400" stroke-width="2.7" fill="none"/>
<path d="M1120.4,203.5V237.2M1116.7,207.4H1120.4M1120.4,223.9H1124.1" stroke="#d4003c" stroke-width="2.7" fill="none"/>
<path d="M1126.0,200.8V229.3M1122.3,224.1H1126.0M1126.0,203.7H1129.7" stroke="#006400" stroke-width="2.7" fill="none"/>
<line x1="289.8" y1="441" x2="1180.6" y2="160.4" stroke="#ff00ff" stroke-width="3.2" stroke-linecap="round" stroke-dasharray="3.1 5.87"/>
<line x1="289.8" y1="519.1" x2="1209.6" y2="375.8" stroke="#ff00ff" stroke-width="3.2" stroke-linecap="round" stroke-dasharray="3.1 5.87"/>
<path d="M1027.9,360.2L1040.4,372.7H1034.3000000000002V385.2H1021.5000000000001V372.7H1015.4000000000001Z" fill="#3daa0e"/>
<path d="M1056.7,307.6L1069.2,320.1H1063.1000000000001V332.6H1050.3V320.1H1044.2Z" fill="#ff00ff"/>
<path d="M1090.8,250.8L1103.3,263.3H1097.2V275.8H1084.3999999999999V263.3H1078.3Z" fill="#2c7fd0"/>
<path d="M1121.0,240.7L1133.5,253.2H1127.4V265.7H1114.6V253.2H1108.5Z" fill="#9900ff"/>
<rect x="1118.6" y="238.1" width="6.6" height="6.6" fill="#ffff00" stroke="#ffa800" stroke-width="1.3"/>
<rect x="24.1" y="751.5" width="5.60" height="2.3" fill="#78a8ee" stroke="#3f72c4" stroke-width="0.9"/>
<rect x="29.7" y="747.5" width="5.60" height="6.3" fill="#78a8ee" stroke="#3f72c4" stroke-width="0.9"/>
<rect x="35.3" y="746.5" width="5.60" height="7.3" fill="#78a8ee" stroke="#3f72c4" stroke-width="0.9"/>
<rect x="40.9" y="749.5" width="5.60" height="4.3" fill="#78a8ee" stroke="#3f72c4" stroke-width="0.9"/>
<rect x="46.5" y="752.4" width="5.60" height="1.4" fill="#78a8ee" stroke="#3f72c4" stroke-width="0.9"/>
<rect x="52.1" y="753.8" width="5.60" height="1.2" fill="#f0889a" stroke="#d03a55" stroke-width="0.9"/>
<rect x="57.7" y="753.8" width="5.60" height="2.3" fill="#f0889a" stroke="#d03a55" stroke-width="0.9"/>
<rect x="63.3" y="753.8" width="5.60" height="1.5" fill="#f0889a" stroke="#d03a55" stroke-width="0.9"/>
<rect x="68.9" y="753.7" width="5.60" height="0.1" fill="#78a8ee" stroke="#3f72c4" stroke-width="0.9"/>
<rect x="74.5" y="753.8" width="5.60" height="0.7" fill="#f0889a" stroke="#d03a55" stroke-width="0.9"/>
<rect x="80.2" y="753.7" width="5.60" height="0.1" fill="#78a8ee" stroke="#3f72c4" stroke-width="0.9"/>
<rect x="85.8" y="750.0" width="5.60" height="3.8" fill="#78a8ee" stroke="#3f72c4" stroke-width="0.9"/>
<rect x="91.4" y="751.6" width="5.60" height="2.2" fill="#78a8ee" stroke="#3f72c4" stroke-width="0.9"/>
<rect x="97.0" y="752.3" width="5.60" height="1.5" fill="#78a8ee" stroke="#3f72c4" stroke-width="0.9"/>
<rect x="102.6" y="750.4" width="5.60" height="3.4" fill="#78a8ee" stroke="#3f72c4" stroke-width="0.9"/>
<rect x="108.2" y="748.4" width="5.60" height="5.4" fill="#78a8ee" stroke="#3f72c4" stroke-width="0.9"/>
<rect x="113.8" y="746.5" width="5.60" height="7.3" fill="#78a8ee" stroke="#3f72c4" stroke-width="0.9"/>
<rect x="119.4" y="742.4" width="5.60" height="11.4" fill="#78a8ee" stroke="#3f72c4" stroke-width="0.9"/>
<rect x="125.0" y="740.1" width="5.60" height="13.7" fill="#78a8ee" stroke="#3f72c4" stroke-width="0.9"/>
<rect x="130.6" y="741.3" width="5.60" height="12.5" fill="#78a8ee" stroke="#3f72c4" stroke-width="0.9"/>
<rect x="136.2" y="741.5" width="5.60" height="12.3" fill="#78a8ee" stroke="#3f72c4" stroke-width="0.9"/>
<rect x="141.8" y="744.2" width="5.60" height="9.6" fill="#78a8ee" stroke="#3f72c4" stroke-width="0.9"/>
<rect x="147.4" y="745.9" width="5.60" height="7.9" fill="#78a8ee" stroke="#3f72c4" stroke-width="0.9"/>
<rect x="153.0" y="745.5" width="5.60" height="8.3" fill="#78a8ee" stroke="#3f72c4" stroke-width="0.9"/>
<rect x="158.6" y="749.2" width="5.60" height="4.6" fill="#78a8ee" stroke="#3f72c4" stroke-width="0.9"/>
<rect x="164.2" y="753.8" width="5.60" height="0.9" fill="#f0889a" stroke="#d03a55" stroke-width="0.9"/>
<rect x="169.8" y="753.8" width="5.60" height="5.4" fill="#f0889a" stroke="#d03a55" stroke-width="0.9"/>
<rect x="175.4" y="753.8" width="5.60" height="10.9" fill="#f0889a" stroke="#d03a55" stroke-width="0.9"/>
<rect x="181.0" y="753.8" width="5.60" height="11.9" fill="#f0889a" stroke="#d03a55" stroke-width="0.9"/>
<rect x="186.6" y="753.8" width="5.60" height="11.8" fill="#f0889a" stroke="#d03a55" stroke-width="0.9"/>
<rect x="192.2" y="753.8" width="5.60" height="11.1" fill="#f0889a" stroke="#d03a55" stroke-width="0.9"/>
<rect x="197.8" y="753.8" width="5.60" height="10.1" fill="#f0889a" stroke="#d03a55" stroke-width="0.9"/>
<rect x="203.4" y="753.8" width="5.60" height="9.5" fill="#f0889a" stroke="#d03a55" stroke-width="0.9"/>
<rect x="209.0" y="753.8" width="5.60" height="9.4" fill="#f0889a" stroke="#d03a55" stroke-width="0.9"/>
<rect x="214.6" y="753.8" width="5.60" height="11.8" fill="#f0889a" stroke="#d03a55" stroke-width="0.9"/>
<rect x="220.3" y="753.8" width="5.60" height="13.5" fill="#f0889a" stroke="#d03a55" stroke-width="0.9"/>
<rect x="225.9" y="753.8" width="5.60" height="15.3" fill="#f0889a" stroke="#d03a55" stroke-width="0.9"/>
<rect x="231.5" y="753.8" width="5.60" height="15.6" fill="#f0889a" stroke="#d03a55" stroke-width="0.9"/>
<rect x="237.1" y="753.8" width="5.60" height="10.9" fill="#f0889a" stroke="#d03a55" stroke-width="0.9"/>
<rect x="242.7" y="753.8" width="5.60" height="8.0" fill="#f0889a" stroke="#d03a55" stroke-width="0.9"/>
<rect x="248.3" y="753.8" width="5.60" height="3.4" fill="#f0889a" stroke="#d03a55" stroke-width="0.9"/>
<rect x="253.9" y="753.8" width="5.60" height="3.8" fill="#f0889a" stroke="#d03a55" stroke-width="0.9"/>
<rect x="259.5" y="753.8" width="5.60" height="4.0" fill="#f0889a" stroke="#d03a55" stroke-width="0.9"/>
<rect x="265.1" y="753.8" width="5.60" height="5.3" fill="#f0889a" stroke="#d03a55" stroke-width="0.9"/>
<rect x="270.7" y="753.8" width="5.60" height="3.9" fill="#f0889a" stroke="#d03a55" stroke-width="0.9"/>
<rect x="276.3" y="753.8" width="5.60" height="1.2" fill="#f0889a" stroke="#d03a55" stroke-width="0.9"/>
<rect x="281.9" y="753.8" width="5.60" height="0.3" fill="#f0889a" stroke="#d03a55" stroke-width="0.9"/>
<rect x="287.5" y="752.4" width="5.60" height="1.4" fill="#78a8ee" stroke="#3f72c4" stroke-width="0.9"/>
<rect x="293.1" y="749.1" width="5.60" height="4.7" fill="#78a8ee" stroke="#3f72c4" stroke-width="0.9"/>
<rect x="298.7" y="751.1" width="5.60" height="2.7" fill="#78a8ee" stroke="#3f72c4" stroke-width="0.9"/>
<rect x="304.3" y="749.6" width="5.60" height="4.2" fill="#78a8ee" stroke="#3f72c4" stroke-width="0.9"/>
<rect x="309.9" y="749.0" width="5.60" height="4.8" fill="#78a8ee" stroke="#3f72c4" stroke-width="0.9"/>
<rect x="315.5" y="745.0" width="5.60" height="8.8" fill="#78a8ee" stroke="#3f72c4" stroke-width="0.9"/>
<rect x="321.1" y="740.6" width="5.60" height="13.2" fill="#78a8ee" stroke="#3f72c4" stroke-width="0.9"/>
<rect x="326.7" y="739.9" width="5.60" height="13.9" fill="#78a8ee" stroke="#3f72c4" stroke-width="0.9"/>
<rect x="332.3" y="738.7" width="5.60" height="15.1" fill="#78a8ee" stroke="#3f72c4" stroke-width="0.9"/>
<rect x="337.9" y="734.8" width="5.60" height="19.0" fill="#78a8ee" stroke="#3f72c4" stroke-width="0.9"/>
<rect x="343.5" y="732.5" width="5.60" height="21.3" fill="#78a8ee" stroke="#3f72c4" stroke-width="0.9"/>
<rect x="349.1" y="732.5" width="5.60" height="21.3" fill="#78a8ee" stroke="#3f72c4" stroke-width="0.9"/>
<rect x="354.7" y="732.5" width="5.60" height="21.3" fill="#78a8ee" stroke="#3f72c4" stroke-width="0.9"/>
<rect x="360.4" y="733.1" width="5.60" height="20.7" fill="#78a8ee" stroke="#3f72c4" stroke-width="0.9"/>
<rect x="366.0" y="734.9" width="5.60" height="18.9" fill="#78a8ee" stroke="#3f72c4" stroke-width="0.9"/>
<rect x="371.6" y="736.2" width="5.60" height="17.6" fill="#78a8ee" stroke="#3f72c4" stroke-width="0.9"/>
<rect x="377.2" y="738.6" width="5.60" height="15.2" fill="#78a8ee" stroke="#3f72c4" stroke-width="0.9"/>
<rect x="382.8" y="742.0" width="5.60" height="11.8" fill="#78a8ee" stroke="#3f72c4" stroke-width="0.9"/>
<rect x="388.4" y="747.6" width="5.60" height="6.2" fill="#78a8ee" stroke="#3f72c4" stroke-width="0.9"/>
<rect x="394.0" y="752.4" width="5.60" height="1.4" fill="#78a8ee" stroke="#3f72c4" stroke-width="0.9"/>
<rect x="399.6" y="753.8" width="5.60" height="2.5" fill="#f0889a" stroke="#d03a55" stroke-width="0.9"/>
<rect x="405.2" y="753.8" width="5.60" height="7.3" fill="#f0889a" stroke="#d03a55" stroke-width="0.9"/>
<rect x="410.8" y="753.8" width="5.60" height="9.0" fill="#f0889a" stroke="#d03a55" stroke-width="0.9"/>
<rect x="416.4" y="753.8" width="5.60" height="11.3" fill="#f0889a" stroke="#d03a55" stroke-width="0.9"/>
<rect x="422.0" y="753.8" width="5.60" height="7.7" fill="#f0889a" stroke="#d03a55" stroke-width="0.9"/>
<rect x="427.6" y="753.8" width="5.60" height="3.6" fill="#f0889a" stroke="#d03a55" stroke-width="0.9"/>
<rect x="433.2" y="752.7" width="5.60" height="1.1" fill="#78a8ee" stroke="#3f72c4" stroke-width="0.9"/>
<rect x="438.8" y="748.3" width="5.60" height="5.5" fill="#78a8ee" stroke="#3f72c4" stroke-width="0.9"/>
<rect x="444.4" y="745.1" width="5.60" height="8.7" fill="#78a8ee" stroke="#3f72c4" stroke-width="0.9"/>
<rect x="450.0" y="744.1" width="5.60" height="9.7" fill="#78a8ee" stroke="#3f72c4" stroke-width="0.9"/>
<rect x="455.6" y="744.1" width="5.60" height="9.7" fill="#78a8ee" stroke="#3f72c4" stroke-width="0.9"/>
<rect x="461.2" y="743.7" width="5.60" height="10.1" fill="#78a8ee" stroke="#3f72c4" stroke-width="0.9"/>
<rect x="466.8" y="747.9" width="5.60" height="5.9" fill="#78a8ee" stroke="#3f72c4" stroke-width="0.9"/>
<rect x="472.4" y="751.4" width="5.60" height="2.4" fill="#78a8ee" stroke="#3f72c4" stroke-width="0.9"/>
<rect x="478.0" y="753.8" width="5.60" height="1.3" fill="#f0889a" stroke="#d03a55" stroke-width="0.9"/>
<rect x="483.6" y="753.8" width="5.60" height="3.0" fill="#f0889a" stroke="#d03a55" stroke-width="0.9"/>
<rect x="489.2" y="753.8" width="5.60" height="2.8" fill="#f0889a" stroke="#d03a55" stroke-width="0.9"/>
<rect x="494.8" y="753.8" width="5.60" height="3.1" fill="#f0889a" stroke="#d03a55" stroke-width="0.9"/>
<rect x="500.5" y="753.8" width="5.60" height="7.0" fill="#f0889a" stroke="#d03a55" stroke-width="0.9"/>
<rect x="506.1" y="753.8" width="5.60" height="8.4" fill="#f0889a" stroke="#d03a55" stroke-width="0.9"/>
<rect x="511.7" y="753.8" width="5.60" height="8.4" fill="#f0889a" stroke="#d03a55" stroke-width="0.9"/>
<rect x="517.3" y="753.8" width="5.60" height="4.0" fill="#f0889a" stroke="#d03a55" stroke-width="0.9"/>
<rect x="522.9" y="753.8" width="5.60" height="1.7" fill="#f0889a" stroke="#d03a55" stroke-width="0.9"/>
<rect x="528.5" y="753.8" width="5.60" height="1.3" fill="#f0889a" stroke="#d03a55" stroke-width="0.9"/>
<rect x="534.1" y="753.8" width="5.60" height="3.0" fill="#f0889a" stroke="#d03a55" stroke-width="0.9"/>
<rect x="539.7" y="753.8" width="5.60" height="5.7" fill="#f0889a" stroke="#d03a55" stroke-width="0.9"/>
<rect x="545.3" y="753.8" width="5.60" height="6.9" fill="#f0889a" stroke="#d03a55" stroke-width="0.9"/>
<rect x="550.9" y="753.8" width="5.60" height="4.2" fill="#f0889a" stroke="#d03a55" stroke-width="0.9"/>
<rect x="556.5" y="753.8" width="5.60" height="2.5" fill="#f0889a" stroke="#d03a55" stroke-width="0.9"/>
<rect x="562.1" y="753.8" width="5.60" height="4.1" fill="#f0889a" stroke="#d03a55" stroke-width="0.9"/>
<rect x="567.7" y="753.8" width="5.60" height="4.7" fill="#f0889a" stroke="#d03a55" stroke-width="0.9"/>
<rect x="573.3" y="753.8" width="5.60" height="3.7" fill="#f0889a" stroke="#d03a55" stroke-width="0.9"/>
<rect x="578.9" y="753.8" width="5.60" height="6.2" fill="#f0889a" stroke="#d03a55" stroke-width="0.9"/>
<rect x="584.5" y="753.8" width="5.60" height="8.6" fill="#f0889a" stroke="#d03a55" stroke-width="0.9"/>
<rect x="590.1" y="753.8" width="5.60" height="7.2" fill="#f0889a" stroke="#d03a55" stroke-width="0.9"/>
<rect x="595.7" y="753.8" width="5.60" height="4.7" fill="#f0889a" stroke="#d03a55" stroke-width="0.9"/>
<rect x="601.3" y="753.8" width="5.60" height="3.4" fill="#f0889a" stroke="#d03a55" stroke-width="0.9"/>
<rect x="606.9" y="753.8" width="5.60" height="2.2" fill="#f0889a" stroke="#d03a55" stroke-width="0.9"/>
<rect x="612.5" y="753.8" width="5.60" height="3.4" fill="#f0889a" stroke="#d03a55" stroke-width="0.9"/>
<rect x="618.1" y="753.8" width="5.60" height="0.7" fill="#f0889a" stroke="#d03a55" stroke-width="0.9"/>
<rect x="623.7" y="751.3" width="5.60" height="2.5" fill="#78a8ee" stroke="#3f72c4" stroke-width="0.9"/>
<rect x="629.3" y="747.0" width="5.60" height="6.8" fill="#78a8ee" stroke="#3f72c4" stroke-width="0.9"/>
<rect x="634.9" y="750.0" width="5.60" height="3.8" fill="#78a8ee" stroke="#3f72c4" stroke-width="0.9"/>
<rect x="640.6" y="750.3" width="5.60" height="3.5" fill="#78a8ee" stroke="#3f72c4" stroke-width="0.9"/>
<rect x="646.2" y="749.9" width="5.60" height="3.9" fill="#78a8ee" stroke="#3f72c4" stroke-width="0.9"/>
<rect x="651.8" y="750.6" width="5.60" height="3.2" fill="#78a8ee" stroke="#3f72c4" stroke-width="0.9"/>
<rect x="657.4" y="752.7" width="5.60" height="1.1" fill="#78a8ee" stroke="#3f72c4" stroke-width="0.9"/>
<rect x="663.0" y="753.8" width="5.60" height="0.3" fill="#f0889a" stroke="#d03a55" stroke-width="0.9"/>
<rect x="668.6" y="753.8" width="5.60" height="2.6" fill="#f0889a" stroke="#d03a55" stroke-width="0.9"/>
<rect x="674.2" y="753.8" width="5.60" height="3.4" fill="#f0889a" stroke="#d03a55" stroke-width="0.9"/>
<rect x="679.8" y="753.8" width="5.60" height="4.0" fill="#f0889a" stroke="#d03a55" stroke-width="0.9"/>
<rect x="685.4" y="753.8" width="5.60" height="4.3" fill="#f0889a" stroke="#d03a55" stroke-width="0.9"/>
<rect x="691.0" y="753.8" width="5.60" height="2.4" fill="#f0889a" stroke="#d03a55" stroke-width="0.9"/>
<rect x="696.6" y="753.8" width="5.60" height="2.1" fill="#f0889a" stroke="#d03a55" stroke-width="0.9"/>
<rect x="702.2" y="753.8" width="5.60" height="1.5" fill="#f0889a" stroke="#d03a55" stroke-width="0.9"/>
<rect x="707.8" y="752.1" width="5.60" height="1.7" fill="#78a8ee" stroke="#3f72c4" stroke-width="0.9"/>
<rect x="713.4" y="748.3" width="5.60" height="5.5" fill="#78a8ee" stroke="#3f72c4" stroke-width="0.9"/>
<rect x="719.0" y="747.1" width="5.60" height="6.7" fill="#78a8ee" stroke="#3f72c4" stroke-width="0.9"/>
<rect x="724.6" y="746.2" width="5.60" height="7.6" fill="#78a8ee" stroke="#3f72c4" stroke-width="0.9"/>
<rect x="730.2" y="740.6" width="5.60" height="13.2" fill="#78a8ee" stroke="#3f72c4" stroke-width="0.9"/>
<rect x="735.8" y="736.8" width="5.60" height="17.0" fill="#78a8ee" stroke="#3f72c4" stroke-width="0.9"/>
<rect x="741.4" y="733.7" width="5.60" height="20.1" fill="#78a8ee" stroke="#3f72c4" stroke-width="0.9"/>
<rect x="747.0" y="735.8" width="5.60" height="18.0" fill="#78a8ee" stroke="#3f72c4" stroke-width="0.9"/>
<rect x="752.6" y="740.0" width="5.60" height="13.8" fill="#78a8ee" stroke="#3f72c4" stroke-width="0.9"/>
<rect x="758.2" y="739.8" width="5.60" height="14.0" fill="#78a8ee" stroke="#3f72c4" stroke-width="0.9"/>
<rect x="763.8" y="733.6" width="5.60" height="20.2" fill="#78a8ee" stroke="#3f72c4" stroke-width="0.9"/>
<rect x="769.4" y="733.2" width="5.60" height="20.6" fill="#78a8ee" stroke="#3f72c4" stroke-width="0.9"/>
<rect x="775.0" y="734.3" width="5.60" height="19.5" fill="#78a8ee" stroke="#3f72c4" stroke-width="0.9"/>
<rect x="780.7" y="739.0" width="5.60" height="14.8" fill="#78a8ee" stroke="#3f72c4" stroke-width="0.9"/>
<rect x="786.3" y="742.6" width="5.60" height="11.2" fill="#78a8ee" stroke="#3f72c4" stroke-width="0.9"/>
<rect x="791.9" y="746.0" width="5.60" height="7.8" fill="#78a8ee" stroke="#3f72c4" stroke-width="0.9"/>
<rect x="797.5" y="749.9" width="5.60" height="3.9" fill="#78a8ee" stroke="#3f72c4" stroke-width="0.9"/>
<rect x="803.1" y="748.4" width="5.60" height="5.4" fill="#78a8ee" stroke="#3f72c4" stroke-width="0.9"/>
<rect x="808.7" y="749.2" width="5.60" height="4.6" fill="#78a8ee" stroke="#3f72c4" stroke-width="0.9"/>
<rect x="814.3" y="753.3" width="5.60" height="0.5" fill="#78a8ee" stroke="#3f72c4" stroke-width="0.9"/>
<rect x="819.9" y="753.8" width="5.60" height="6.1" fill="#f0889a" stroke="#d03a55" stroke-width="0.9"/>
<rect x="825.5" y="753.8" width="5.60" height="9.1" fill="#f0889a" stroke="#d03a55" stroke-width="0.9"/>
<rect x="831.1" y="753.8" width="5.60" height="13.2" fill="#f0889a" stroke="#d03a55" stroke-width="0.9"/>
<rect x="836.7" y="753.8" width="5.60" height="12.1" fill="#f0889a" stroke="#d03a55" stroke-width="0.9"/>
<rect x="842.3" y="753.8" width="5.60" height="9.3" fill="#f0889a" stroke="#d03a55" stroke-width="0.9"/>
<rect x="847.9" y="753.8" width="5.60" height="9.6" fill="#f0889a" stroke="#d03a55" stroke-width="0.9"/>
<rect x="853.5" y="753.8" width="5.60" height="11.8" fill="#f0889a" stroke="#d03a55" stroke-width="0.9"/>
<rect x="859.1" y="753.8" width="5.60" height="6.7" fill="#f0889a" stroke="#d03a55" stroke-width="0.9"/>
<rect x="864.7" y="753.8" width="5.60" height="2.4" fill="#f0889a" stroke="#d03a55" stroke-width="0.9"/>
<rect x="870.3" y="752.7" width="5.60" height="1.1" fill="#78a8ee" stroke="#3f72c4" stroke-width="0.9"/>
<rect x="875.9" y="749.7" width="5.60" height="4.1" fill="#78a8ee" stroke="#3f72c4" stroke-width="0.9"/>
<rect x="881.5" y="749.6" width="5.60" height="4.2" fill="#78a8ee" stroke="#3f72c4" stroke-width="0.9"/>
<rect x="887.1" y="745.2" width="5.60" height="8.6" fill="#78a8ee" stroke="#3f72c4" stroke-width="0.9"/>
<rect x="892.7" y="743.3" width="5.60" height="10.5" fill="#78a8ee" stroke="#3f72c4" stroke-width="0.9"/>
<rect x="898.3" y="745.7" width="5.60" height="8.1" fill="#78a8ee" stroke="#3f72c4" stroke-width="0.9"/>
<rect x="903.9" y="750.8" width="5.60" height="3.0" fill="#78a8ee" stroke="#3f72c4" stroke-width="0.9"/>
<rect x="909.5" y="753.8" width="5.60" height="2.9" fill="#f0889a" stroke="#d03a55" stroke-width="0.9"/>
<rect x="915.1" y="753.8" width="5.60" height="4.7" fill="#f0889a" stroke="#d03a55" stroke-width="0.9"/>
<rect x="920.8" y="753.8" width="5.60" height="7.6" fill="#f0889a" stroke="#d03a55" stroke-width="0.9"/>
<rect x="926.4" y="753.8" width="5.60" height="8.3" fill="#f0889a" stroke="#d03a55" stroke-width="0.9"/>
<rect x="932.0" y="753.8" width="5.60" height="10.0" fill="#f0889a" stroke="#d03a55" stroke-width="0.9"/>
<rect x="937.6" y="753.8" width="5.60" height="12.6" fill="#f0889a" stroke="#d03a55" stroke-width="0.9"/>
<rect x="943.2" y="753.8" width="5.60" height="14.4" fill="#f0889a" stroke="#d03a55" stroke-width="0.9"/>
<rect x="948.8" y="753.8" width="5.60" height="14.5" fill="#f0889a" stroke="#d03a55" stroke-width="0.9"/>
<rect x="954.4" y="753.8" width="5.60" height="12.4" fill="#f0889a" stroke="#d03a55" stroke-width="0.9"/>
<rect x="960.0" y="753.8" width="5.60" height="10.8" fill="#f0889a" stroke="#d03a55" stroke-width="0.9"/>
<rect x="965.6" y="753.8" width="5.60" height="8.9" fill="#f0889a" stroke="#d03a55" stroke-width="0.9"/>
<rect x="971.2" y="753.8" width="5.60" height="5.7" fill="#f0889a" stroke="#d03a55" stroke-width="0.9"/>
<rect x="976.8" y="753.8" width="5.60" height="2.5" fill="#f0889a" stroke="#d03a55" stroke-width="0.9"/>
<rect x="982.4" y="753.2" width="5.60" height="0.6" fill="#78a8ee" stroke="#3f72c4" stroke-width="0.9"/>
<rect x="988.0" y="750.8" width="5.60" height="3.0" fill="#78a8ee" stroke="#3f72c4" stroke-width="0.9"/>
<rect x="993.6" y="752.8" width="5.60" height="1.0" fill="#78a8ee" stroke="#3f72c4" stroke-width="0.9"/>
<rect x="999.2" y="751.4" width="5.60" height="2.4" fill="#78a8ee" stroke="#3f72c4" stroke-width="0.9"/>
<rect x="1004.8" y="747.8" width="5.60" height="6.0" fill="#78a8ee" stroke="#3f72c4" stroke-width="0.9"/>
<rect x="1010.4" y="747.4" width="5.60" height="6.4" fill="#78a8ee" stroke="#3f72c4" stroke-width="0.9"/>
<rect x="1016.0" y="745.3" width="5.60" height="8.5" fill="#78a8ee" stroke="#3f72c4" stroke-width="0.9"/>
<rect x="1021.6" y="753.8" width="5.60" height="1.0" fill="#f0889a" stroke="#d03a55" stroke-width="0.9"/>
<rect x="1027.2" y="753.8" width="5.60" height="1.5" fill="#f0889a" stroke="#d03a55" stroke-width="0.9"/>
<rect x="1032.8" y="753.8" width="5.60" height="0.9" fill="#f0889a" stroke="#d03a55" stroke-width="0.9"/>
<rect x="1038.4" y="753.6" width="5.60" height="0.2" fill="#78a8ee" stroke="#3f72c4" stroke-width="0.9"/>
<rect x="1044.0" y="753.8" width="5.60" height="1.5" fill="#f0889a" stroke="#d03a55" stroke-width="0.9"/>
<rect x="1049.6" y="753.8" width="5.60" height="1.4" fill="#f0889a" stroke="#d03a55" stroke-width="0.9"/>
<rect x="1055.2" y="753.8" width="5.60" height="2.1" fill="#f0889a" stroke="#d03a55" stroke-width="0.9"/>
<rect x="1060.9" y="753.8" width="5.60" height="0.0" fill="#78a8ee" stroke="#3f72c4" stroke-width="0.9"/>
<rect x="1066.5" y="753.7" width="5.60" height="0.1" fill="#78a8ee" stroke="#3f72c4" stroke-width="0.9"/>
<rect x="1072.1" y="747.1" width="5.60" height="6.7" fill="#78a8ee" stroke="#3f72c4" stroke-width="0.9"/>
<rect x="1077.7" y="742.8" width="5.60" height="11.0" fill="#78a8ee" stroke="#3f72c4" stroke-width="0.9"/>
<rect x="1083.3" y="741.5" width="5.60" height="12.3" fill="#78a8ee" stroke="#3f72c4" stroke-width="0.9"/>
<rect x="1088.9" y="741.7" width="5.60" height="12.1" fill="#78a8ee" stroke="#3f72c4" stroke-width="0.9"/>
<rect x="1094.5" y="740.5" width="5.60" height="13.3" fill="#78a8ee" stroke="#3f72c4" stroke-width="0.9"/>
<rect x="1100.1" y="737.5" width="5.60" height="16.3" fill="#78a8ee" stroke="#3f72c4" stroke-width="0.9"/>
<rect x="1105.7" y="737.2" width="5.60" height="16.6" fill="#78a8ee" stroke="#3f72c4" stroke-width="0.9"/>
<rect x="1111.3" y="738.2" width="5.60" height="15.6" fill="#78a8ee" stroke="#3f72c4" stroke-width="0.9"/>
<rect x="1116.9" y="742.9" width="5.60" height="10.9" fill="#78a8ee" stroke="#3f72c4" stroke-width="0.9"/>
<rect x="1122.5" y="743.9" width="5.60" height="9.9" fill="#78a8ee" stroke="#3f72c4" stroke-width="0.9"/>
<polyline points="26.9,778.5 32.5,776.9 38.1,775.1 43.7,774.0 49.3,773.6 54.9,773.9 60.5,774.5 66.1,774.9 71.7,774.9 77.3,775.0 83.0,775.0 88.6,774.1 94.2,773.5 99.8,773.1 105.4,772.3 111.0,770.9 116.6,769.1 122.2,766.3 127.8,762.9 133.4,759.7 139.0,756.7 144.6,754.3 150.2,752.3 155.8,750.2 161.4,749.1 167.0,749.3 172.6,750.7 178.2,753.4 183.8,756.4 189.4,759.3 195.0,762.1 200.6,764.6 206.2,767.0 211.8,769.3 217.4,772.3 223.1,775.7 228.7,779.5 234.3,783.4 239.9,786.1 245.5,788.1 251.1,789.0 256.7,789.9 262.3,790.9 267.9,792.2 273.5,793.2 279.1,793.5 284.7,793.6 290.3,793.2 295.9,792.0 301.5,791.4 307.1,790.3 312.7,789.1 318.3,786.9 323.9,783.6 329.5,780.1 335.1,776.4 340.7,771.6 346.3,766.3 351.9,761.0 357.5,755.6 363.2,750.4 368.8,745.7 374.4,741.3 380.0,737.5 385.6,734.6 391.2,733.0 396.8,732.7 402.4,733.3 408.0,735.1 413.6,737.4 419.2,740.2 424.8,742.1 430.4,743.0 436.0,742.8 441.6,741.4 447.2,739.2 452.8,736.8 458.4,734.3 464.0,731.8 469.6,730.3 475.2,729.7 480.8,730.0 486.4,730.8 492.0,731.5 497.6,732.3 503.3,734.0 508.9,736.1 514.5,738.2 520.1,739.2 525.7,739.6 531.3,739.9 536.9,740.7 542.5,742.1 548.1,743.8 553.7,744.9 559.3,745.5 564.9,746.5 570.5,747.7 576.1,748.7 581.7,750.2 587.3,752.4 592.9,754.1 598.5,755.3 604.1,756.2 609.7,756.7 615.3,757.6 620.9,757.7 626.5,757.1 632.1,755.4 637.8,754.5 643.4,753.6 649.0,752.6 654.6,751.8 660.2,751.5 665.8,751.6 671.4,752.2 677.0,753.1 682.6,754.1 688.2,755.1 693.8,755.8 699.4,756.3 705.0,756.7 710.6,756.2 716.2,754.9 721.8,753.2 727.4,751.3 733.0,748.0 738.6,743.7 744.2,738.7 749.8,734.2 755.4,730.8 761.0,727.3 766.6,722.2 772.2,717.1 777.9,712.2 783.5,708.5 789.1,705.7 794.7,703.8 800.3,702.8 805.9,701.5 811.5,700.3 817.1,700.2 822.7,701.7 828.3,704.0 833.9,707.3 839.5,710.3 845.1,712.6 850.7,715.0 856.3,718.0 861.9,719.7 867.5,720.3 873.1,720.0 878.7,718.9 884.3,717.9 889.9,715.7 895.5,713.1 901.1,711.1 906.7,710.3 912.3,711.1 918.0,712.2 923.6,714.1 929.2,716.2 934.8,718.7 940.4,721.8 946.0,725.4 951.6,729.1 957.2,732.2 962.8,734.9 968.4,737.1 974.0,738.5 979.6,739.2 985.2,739.0 990.8,738.3 996.4,738.0 1002.0,737.4 1007.6,735.9 1013.2,734.3 1018.8,732.2 1024.4,732.4 1030.0,732.8 1035.6,733.0 1041.2,733.0 1046.8,733.3 1052.4,733.7 1058.0,734.2 1063.7,734.2 1069.3,734.2 1074.9,732.5 1080.5,729.8 1086.1,726.7 1091.7,723.7 1097.3,720.3 1102.9,716.2 1108.5,712.1 1114.1,708.2 1119.7,705.5 1125.3,703.0" fill="none" stroke="#f0203c" stroke-width="1.6" stroke-linejoin="round" stroke-linecap="round" />
<polyline points="26.9,776.1 32.5,770.6 38.1,767.8 43.7,769.6 49.3,772.2 54.9,775.1 60.5,776.8 66.1,776.4 71.7,774.7 77.3,775.7 83.0,774.9 88.6,770.3 94.2,771.3 99.8,771.6 105.4,768.9 111.0,765.6 116.6,761.9 122.2,754.9 127.8,749.2 133.4,747.2 139.0,744.4 144.6,744.6 150.2,744.3 155.8,742.0 161.4,744.5 167.0,750.2 172.6,756.1 178.2,764.2 183.8,768.3 189.4,771.1 195.0,773.2 200.6,774.7 206.2,776.5 211.8,778.8 217.4,784.0 223.1,789.2 228.7,794.8 234.3,799.0 239.9,797.0 245.5,796.1 251.1,792.3 256.7,793.7 262.3,794.8 267.9,797.6 273.5,797.1 279.1,794.7 284.7,793.8 290.3,791.8 295.9,787.4 301.5,788.7 307.1,786.1 312.7,784.3 318.3,778.1 323.9,770.4 329.5,766.2 335.1,761.3 340.7,752.6 346.3,745.0 351.9,739.6 357.5,734.3 363.2,729.7 368.8,726.8 374.4,723.7 380.0,722.4 385.6,722.7 391.2,726.8 396.8,731.3 402.4,735.8 408.0,742.4 413.6,746.4 419.2,751.5 424.8,749.9 430.4,746.6 436.0,741.7 441.6,735.8 447.2,730.4 452.8,727.0 458.4,724.6 464.0,721.7 469.6,724.5 475.2,727.3 480.8,731.3 486.4,733.8 492.0,734.3 497.6,735.3 503.3,740.9 508.9,744.5 514.5,746.5 520.1,743.2 525.7,741.3 531.3,741.3 536.9,743.7 542.5,747.8 548.1,750.7 553.7,749.1 559.3,748.0 564.9,750.7 570.5,752.5 576.1,752.4 581.7,756.4 587.3,761.0 592.9,761.3 598.5,760.0 604.1,759.5 609.7,759.0 615.3,761.0 620.9,758.4 626.5,754.6 632.1,748.6 637.8,750.6 643.4,750.1 649.0,748.7 654.6,748.6 660.2,750.4 665.8,751.8 671.4,754.8 677.0,756.5 682.6,758.0 688.2,759.5 693.8,758.2 699.4,758.4 705.0,758.1 710.6,754.6 716.2,749.4 721.8,746.4 727.4,743.7 733.0,734.8 738.6,726.7 744.2,718.6 749.8,716.2 755.4,717.0 761.0,713.3 766.6,702.0 772.2,696.5 777.9,692.8 783.5,693.8 789.1,694.5 794.7,696.0 800.3,698.9 805.9,696.1 811.5,695.7 817.1,699.7 822.7,707.8 828.3,713.1 833.9,720.5 839.5,722.4 845.1,722.0 850.7,724.7 856.3,729.8 861.9,726.4 867.5,722.6 873.1,718.8 878.7,714.8 884.3,713.7 889.9,707.1 895.5,702.6 901.1,703.0 906.7,707.3 912.3,714.0 918.0,716.9 923.6,721.7 929.2,724.4 934.8,728.7 940.4,734.5 946.0,739.8 951.6,743.6 957.2,744.6 962.8,745.7 968.4,746.0 974.0,744.3 979.6,741.6 985.2,738.5 990.8,735.3 996.4,737.0 1002.0,735.0 1007.6,729.9 1013.2,727.9 1018.8,723.7 1024.4,733.5 1030.0,734.3 1035.6,733.9 1041.2,732.7 1046.8,734.8 1052.4,735.1 1058.0,736.3 1063.7,734.2 1069.3,734.1 1074.9,725.8 1080.5,718.8 1086.1,714.4 1091.7,711.5 1097.3,707.0 1102.9,699.9 1108.5,695.5 1114.1,692.5 1119.7,694.6 1125.3,693.1" fill="none" stroke="#1c3d78" stroke-width="2.3" stroke-linejoin="round" stroke-linecap="round" />
<polyline points="26.9,873.9 32.5,862.4 38.1,850.9 43.7,846.4 49.3,854.4 54.9,873.2 60.5,890.2 66.1,897.7 71.7,893.9 77.3,888.6 83.0,884.8 88.6,882.1 94.2,879.2 99.8,877.1 105.4,879.5 111.0,877.8 116.6,870.8 122.2,856.9 127.8,845.4 133.4,839.0 139.0,841.1 144.6,848.2 150.2,855.6 155.8,859.0 161.4,860.6 167.0,866.0 172.6,879.7 178.2,895.9 183.8,906.7 189.4,907.8 195.0,903.6 200.6,900.2 206.2,899.0 211.8,900.5 217.4,903.7 223.1,908.4 228.7,912.5 234.3,915.0 239.9,912.3 245.5,905.8 251.1,892.9 256.7,885.0 262.3,882.0 267.9,891.0 273.5,898.2 279.1,901.1 284.7,896.0 290.3,889.5 295.9,882.8 301.5,879.8 307.1,877.4 312.7,880.6 318.3,874.6 323.9,864.7 329.5,848.7 335.1,840.7 340.7,836.5 346.3,832.8 351.9,828.4 357.5,826.0 363.2,826.4 368.8,827.1 374.4,826.3 380.0,825.9 385.6,826.3 391.2,831.3 396.8,841.9 402.4,858.3 408.0,877.3 413.6,892.4 419.2,903.0 424.8,901.0 430.4,890.8 436.0,869.7 441.6,850.2 447.2,835.1 452.8,829.5 458.4,829.7 464.0,831.3 469.6,834.4 475.2,838.8 480.8,848.0 486.4,855.4 492.0,859.5 497.6,858.4 503.3,862.5 508.9,873.4 514.5,889.7 520.1,893.1 525.7,885.1 531.3,869.5 536.9,865.1 542.5,871.8 548.1,885.2 553.7,890.5 559.3,884.1 564.9,873.8 570.5,871.7 576.1,877.6 581.7,886.7 587.3,892.7 592.9,896.8 598.5,891.9 604.1,881.9 609.7,870.3 615.3,867.4 620.9,866.4 626.5,863.6 632.1,851.3 637.8,843.9 643.4,842.4 649.0,851.9 654.6,856.6 660.2,859.9 665.8,863.0 671.4,873.0 677.0,884.7 682.6,895.0 688.2,900.1 693.8,900.1 699.4,897.2 705.0,892.8 710.6,887.8 716.2,876.3 721.8,861.4 727.4,847.1 733.0,839.1 738.6,835.9 744.2,834.2 749.8,836.7 755.4,841.3 761.0,847.2 766.6,846.3 772.2,841.2 777.9,835.5 783.5,836.8 789.1,842.3 794.7,849.6 800.3,854.1 805.9,854.9 811.5,852.7 817.1,850.5 822.7,856.5 828.3,867.8 833.9,882.4 839.5,889.1 845.1,889.4 850.7,882.7 856.3,879.4 861.9,875.6 867.5,869.2 873.1,854.7 878.7,841.9 884.3,835.7 889.9,833.9 895.5,833.1 901.1,832.1 906.7,838.0 912.3,849.0 918.0,861.8 923.6,871.6 929.2,875.5 934.8,878.3 940.4,881.9 946.0,890.3 951.6,900.0 957.2,905.4 962.8,905.1 968.4,900.3 974.0,894.9 979.6,885.7 985.2,872.8 990.8,857.4 996.4,849.9 1002.0,847.4 1007.6,848.0 1013.2,843.0 1018.8,836.8 1024.4,841.3 1030.0,851.1 1035.6,865.4 1041.2,863.6 1046.8,859.8 1052.4,853.3 1058.0,854.9 1063.7,853.5 1069.3,851.3 1074.9,844.0 1080.5,838.0 1086.1,831.5 1091.7,830.0 1097.3,829.6 1102.9,828.9 1108.5,826.6 1114.1,826.1 1119.7,830.8 1125.3,836.4" fill="none" stroke="#f0203c" stroke-width="1.6" stroke-linejoin="round" stroke-linecap="round" />
<polyline points="26.9,863.0 32.5,850.0 38.1,839.7 43.7,849.6 49.3,873.8 54.9,896.1 60.5,900.6 66.1,896.3 71.7,884.8 77.3,884.8 83.0,884.8 88.6,876.8 94.2,875.9 99.8,878.6 105.4,883.9 111.0,871.0 116.6,857.4 122.2,842.1 127.8,836.6 133.4,838.2 139.0,848.5 144.6,857.8 150.2,860.3 155.8,858.9 161.4,862.5 167.0,876.7 172.6,899.9 178.2,911.2 183.8,909.0 189.4,903.2 195.0,898.8 200.6,898.7 206.2,899.7 211.8,903.1 217.4,908.4 223.1,913.6 228.7,915.6 234.3,915.9 239.9,905.5 245.5,896.1 251.1,877.2 256.7,881.7 262.3,887.0 267.9,904.4 273.5,903.4 279.1,895.6 284.7,888.9 290.3,884.1 295.9,875.4 301.5,879.7 307.1,876.9 312.7,885.2 318.3,861.8 323.9,847.2 329.5,837.1 335.1,837.8 340.7,834.6 346.3,826.1 351.9,824.6 357.5,827.2 363.2,827.5 368.8,826.5 374.4,825.0 380.0,826.1 385.6,827.8 391.2,839.9 396.8,857.9 402.4,877.1 408.0,896.8 413.6,903.4 419.2,908.9 424.8,890.7 430.4,872.6 436.0,845.8 441.6,832.3 447.2,827.1 452.8,829.2 458.4,832.8 464.0,831.7 469.6,838.5 475.2,846.3 480.8,859.0 486.4,860.9 492.0,858.6 497.6,855.6 503.3,873.3 508.9,891.2 514.5,904.5 520.1,883.5 525.7,867.4 531.3,857.6 536.9,870.2 542.5,887.5 548.1,897.9 553.7,886.1 559.3,868.4 564.9,867.0 570.5,879.7 576.1,885.9 581.7,894.4 587.3,897.8 592.9,898.4 598.5,879.4 604.1,867.9 609.7,863.7 615.3,870.6 620.9,864.8 626.5,855.4 632.1,833.7 637.8,842.5 643.4,851.1 649.0,862.2 654.6,856.7 660.2,860.9 665.8,871.3 671.4,886.8 677.0,896.0 682.6,902.2 688.2,901.9 693.8,896.1 699.4,893.6 705.0,888.7 710.6,881.0 716.2,859.1 721.8,844.3 727.4,837.9 733.0,835.2 738.6,834.7 744.2,832.6 749.8,842.7 755.4,848.5 761.0,850.3 766.6,840.2 772.2,833.0 777.9,833.2 783.5,844.3 789.1,849.4 794.7,855.2 800.3,857.8 805.9,851.8 811.5,848.7 817.1,851.0 822.7,869.9 828.3,882.5 833.9,894.8 839.5,889.9 845.1,883.3 850.7,874.8 856.3,880.1 861.9,872.0 867.5,855.7 873.1,836.3 878.7,833.6 884.3,837.0 889.9,831.0 895.5,831.4 901.1,833.8 906.7,848.7 912.3,864.5 918.0,872.1 923.6,878.3 929.2,876.2 934.8,880.4 940.4,889.1 946.0,901.3 951.6,909.5 957.2,905.3 962.8,900.4 968.4,895.3 974.0,889.1 979.6,872.8 985.2,856.4 990.8,843.1 996.4,850.1 1002.0,848.9 1007.6,844.8 1013.2,835.2 1018.8,830.6 1024.4,858.1 1030.0,864.6 1035.6,873.3 1041.2,852.7 1046.8,853.4 1052.4,853.7 1058.0,857.6 1063.7,849.4 1069.3,846.9 1074.9,835.6 1080.5,831.5 1086.1,827.5 1091.7,831.1 1097.3,830.2 1102.9,825.5 1108.5,824.2 1114.1,828.5 1119.7,839.5 1125.3,841.1" fill="none" stroke="#1c3d78" stroke-width="2.2" stroke-linejoin="round" stroke-linecap="round" />
<rect x="24.5" y="48.0" width="1193.0" height="125.6" fill="none" stroke="#16285a" stroke-width="1.6"/>
<rect x="24.5" y="173.6" width="1193.0" height="361.4" fill="none" stroke="#16285a" stroke-width="1.6"/>
<rect x="24.5" y="556.0" width="1193.0" height="126.20000000000005" fill="none" stroke="#16285a" stroke-width="1.6"/>
<rect x="24.5" y="682.2" width="1193.0" height="126.19999999999993" fill="none" stroke="#16285a" stroke-width="1.6"/>
<rect x="24.5" y="808.4" width="1193.0" height="125.80000000000007" fill="none" stroke="#16285a" stroke-width="1.6"/>
<line x1="26.9" y1="535.0" x2="26.9" y2="539.2" stroke="#16285a" stroke-width="1.3"/>
<line x1="26.9" y1="556.0" x2="26.9" y2="551.8" stroke="#16285a" stroke-width="1.3"/>
<line x1="32.5" y1="535.0" x2="32.5" y2="537.2" stroke="#16285a" stroke-width="1.3"/>
<line x1="32.5" y1="556.0" x2="32.5" y2="553.8" stroke="#16285a" stroke-width="1.3"/>
<line x1="38.1" y1="535.0" x2="38.1" y2="537.2" stroke="#16285a" stroke-width="1.3"/>
<line x1="38.1" y1="556.0" x2="38.1" y2="553.8" stroke="#16285a" stroke-width="1.3"/>
<line x1="43.7" y1="535.0" x2="43.7" y2="537.2" stroke="#16285a" stroke-width="1.3"/>
<line x1="43.7" y1="556.0" x2="43.7" y2="553.8" stroke="#16285a" stroke-width="1.3"/>
<line x1="49.3" y1="535.0" x2="49.3" y2="537.2" stroke="#16285a" stroke-width="1.3"/>
<line x1="49.3" y1="556.0" x2="49.3" y2="553.8" stroke="#16285a" stroke-width="1.3"/>
<line x1="54.9" y1="535.0" x2="54.9" y2="539.2" stroke="#16285a" stroke-width="1.3"/>
<line x1="54.9" y1="556.0" x2="54.9" y2="551.8" stroke="#16285a" stroke-width="1.3"/>
<line x1="60.5" y1="535.0" x2="60.5" y2="537.2" stroke="#16285a" stroke-width="1.3"/>
<line x1="60.5" y1="556.0" x2="60.5" y2="553.8" stroke="#16285a" stroke-width="1.3"/>
<line x1="66.1" y1="535.0" x2="66.1" y2="537.2" stroke="#16285a" stroke-width="1.3"/>
<line x1="66.1" y1="556.0" x2="66.1" y2="553.8" stroke="#16285a" stroke-width="1.3"/>
<line x1="71.7" y1="535.0" x2="71.7" y2="537.2" stroke="#16285a" stroke-width="1.3"/>
<line x1="71.7" y1="556.0" x2="71.7" y2="553.8" stroke="#16285a" stroke-width="1.3"/>
<line x1="77.3" y1="535.0" x2="77.3" y2="539.2" stroke="#16285a" stroke-width="1.3"/>
<line x1="77.3" y1="556.0" x2="77.3" y2="551.8" stroke="#16285a" stroke-width="1.3"/>
<line x1="83.0" y1="535.0" x2="83.0" y2="537.2" stroke="#16285a" stroke-width="1.3"/>
<line x1="83.0" y1="556.0" x2="83.0" y2="553.8" stroke="#16285a" stroke-width="1.3"/>
<line x1="88.6" y1="535.0" x2="88.6" y2="537.2" stroke="#16285a" stroke-width="1.3"/>
<line x1="88.6" y1="556.0" x2="88.6" y2="553.8" stroke="#16285a" stroke-width="1.3"/>
<line x1="94.2" y1="535.0" x2="94.2" y2="537.2" stroke="#16285a" stroke-width="1.3"/>
<line x1="94.2" y1="556.0" x2="94.2" y2="553.8" stroke="#16285a" stroke-width="1.3"/>
<line x1="99.8" y1="535.0" x2="99.8" y2="537.2" stroke="#16285a" stroke-width="1.3"/>
<line x1="99.8" y1="556.0" x2="99.8" y2="553.8" stroke="#16285a" stroke-width="1.3"/>
<line x1="105.4" y1="535.0" x2="105.4" y2="539.2" stroke="#16285a" stroke-width="1.3"/>
<line x1="105.4" y1="556.0" x2="105.4" y2="551.8" stroke="#16285a" stroke-width="1.3"/>
<line x1="111.0" y1="535.0" x2="111.0" y2="537.2" stroke="#16285a" stroke-width="1.3"/>
<line x1="111.0" y1="556.0" x2="111.0" y2="553.8" stroke="#16285a" stroke-width="1.3"/>
<line x1="116.6" y1="535.0" x2="116.6" y2="537.2" stroke="#16285a" stroke-width="1.3"/>
<line x1="116.6" y1="556.0" x2="116.6" y2="553.8" stroke="#16285a" stroke-width="1.3"/>
<line x1="122.2" y1="535.0" x2="122.2" y2="537.2" stroke="#16285a" stroke-width="1.3"/>
<line x1="122.2" y1="556.0" x2="122.2" y2="553.8" stroke="#16285a" stroke-width="1.3"/>
<line x1="127.8" y1="535.0" x2="127.8" y2="539.2" stroke="#16285a" stroke-width="1.3"/>
<line x1="127.8" y1="556.0" x2="127.8" y2="551.8" stroke="#16285a" stroke-width="1.3"/>
<line x1="133.4" y1="535.0" x2="133.4" y2="537.2" stroke="#16285a" stroke-width="1.3"/>
<line x1="133.4" y1="556.0" x2="133.4" y2="553.8" stroke="#16285a" stroke-width="1.3"/>
<line x1="139.0" y1="535.0" x2="139.0" y2="537.2" stroke="#16285a" stroke-width="1.3"/>
<line x1="139.0" y1="556.0" x2="139.0" y2="553.8" stroke="#16285a" stroke-width="1.3"/>
<line x1="144.6" y1="535.0" x2="144.6" y2="537.2" stroke="#16285a" stroke-width="1.3"/>
<line x1="144.6" y1="556.0" x2="144.6" y2="553.8" stroke="#16285a" stroke-width="1.3"/>
<line x1="150.2" y1="535.0" x2="150.2" y2="539.2" stroke="#16285a" stroke-width="1.3"/>
<line x1="150.2" y1="556.0" x2="150.2" y2="551.8" stroke="#16285a" stroke-width="1.3"/>
<line x1="155.8" y1="535.0" x2="155.8" y2="537.2" stroke="#16285a" stroke-width="1.3"/>
<line x1="155.8" y1="556.0" x2="155.8" y2="553.8" stroke="#16285a" stroke-width="1.3"/>
<line x1="161.4" y1="535.0" x2="161.4" y2="537.2" stroke="#16285a" stroke-width="1.3"/>
<line x1="161.4" y1="556.0" x2="161.4" y2="553.8" stroke="#16285a" stroke-width="1.3"/>
<line x1="167.0" y1="535.0" x2="167.0" y2="537.2" stroke="#16285a" stroke-width="1.3"/>
<line x1="167.0" y1="556.0" x2="167.0" y2="553.8" stroke="#16285a" stroke-width="1.3"/>
<line x1="172.6" y1="535.0" x2="172.6" y2="539.2" stroke="#16285a" stroke-width="1.3"/>
<line x1="172.6" y1="556.0" x2="172.6" y2="551.8" stroke="#16285a" stroke-width="1.3"/>
<line x1="178.2" y1="535.0" x2="178.2" y2="537.2" stroke="#16285a" stroke-width="1.3"/>
<line x1="178.2" y1="556.0" x2="178.2" y2="553.8" stroke="#16285a" stroke-width="1.3"/>
<line x1="183.8" y1="535.0" x2="183.8" y2="537.2" stroke="#16285a" stroke-width="1.3"/>
<line x1="183.8" y1="556.0" x2="183.8" y2="553.8" stroke="#16285a" stroke-width="1.3"/>
<line x1="189.4" y1="535.0" x2="189.4" y2="537.2" stroke="#16285a" stroke-width="1.3"/>
<line x1="189.4" y1="556.0" x2="189.4" y2="553.8" stroke="#16285a" stroke-width="1.3"/>
<line x1="195.0" y1="535.0" x2="195.0" y2="537.2" stroke="#16285a" stroke-width="1.3"/>
<line x1="195.0" y1="556.0" x2="195.0" y2="553.8" stroke="#16285a" stroke-width="1.3"/>
<line x1="200.6" y1="535.0" x2="200.6" y2="539.2" stroke="#16285a" stroke-width="1.3"/>
<line x1="200.6" y1="556.0" x2="200.6" y2="551.8" stroke="#16285a" stroke-width="1.3"/>
<line x1="206.2" y1="535.0" x2="206.2" y2="537.2" stroke="#16285a" stroke-width="1.3"/>
<line x1="206.2" y1="556.0" x2="206.2" y2="553.8" stroke="#16285a" stroke-width="1.3"/>
<line x1="211.8" y1="535.0" x2="211.8" y2="537.2" stroke="#16285a" stroke-width="1.3"/>
<line x1="211.8" y1="556.0" x2="211.8" y2="553.8" stroke="#16285a" stroke-width="1.3"/>
<line x1="217.4" y1="535.0" x2="217.4" y2="537.2" stroke="#16285a" stroke-width="1.3"/>
<line x1="217.4" y1="556.0" x2="217.4" y2="553.8" stroke="#16285a" stroke-width="1.3"/>
<line x1="223.1" y1="535.0" x2="223.1" y2="539.2" stroke="#16285a" stroke-width="1.3"/>
<line x1="223.1" y1="556.0" x2="223.1" y2="551.8" stroke="#16285a" stroke-width="1.3"/>
<line x1="228.7" y1="535.0" x2="228.7" y2="537.2" stroke="#16285a" stroke-width="1.3"/>
<line x1="228.7" y1="556.0" x2="228.7" y2="553.8" stroke="#16285a" stroke-width="1.3"/>
<line x1="234.3" y1="535.0" x2="234.3" y2="537.2" stroke="#16285a" stroke-width="1.3"/>
<line x1="234.3" y1="556.0" x2="234.3" y2="553.8" stroke="#16285a" stroke-width="1.3"/>
<line x1="239.9" y1="535.0" x2="239.9" y2="537.2" stroke="#16285a" stroke-width="1.3"/>
<line x1="239.9" y1="556.0" x2="239.9" y2="553.8" stroke="#16285a" stroke-width="1.3"/>
<line x1="245.5" y1="535.0" x2="245.5" y2="539.2" stroke="#16285a" stroke-width="1.3"/>
<line x1="245.5" y1="556.0" x2="245.5" y2="551.8" stroke="#16285a" stroke-width="1.3"/>
<line x1="251.1" y1="535.0" x2="251.1" y2="537.2" stroke="#16285a" stroke-width="1.3"/>
<line x1="251.1" y1="556.0" x2="251.1" y2="553.8" stroke="#16285a" stroke-width="1.3"/>
<line x1="256.7" y1="535.0" x2="256.7" y2="537.2" stroke="#16285a" stroke-width="1.3"/>
<line x1="256.7" y1="556.0" x2="256.7" y2="553.8" stroke="#16285a" stroke-width="1.3"/>
<line x1="262.3" y1="535.0" x2="262.3" y2="537.2" stroke="#16285a" stroke-width="1.3"/>
<line x1="262.3" y1="556.0" x2="262.3" y2="553.8" stroke="#16285a" stroke-width="1.3"/>
<line x1="267.9" y1="535.0" x2="267.9" y2="537.2" stroke="#16285a" stroke-width="1.3"/>
<line x1="267.9" y1="556.0" x2="267.9" y2="553.8" stroke="#16285a" stroke-width="1.3"/>
<line x1="273.5" y1="535.0" x2="273.5" y2="539.2" stroke="#16285a" stroke-width="1.3"/>
<line x1="273.5" y1="556.0" x2="273.5" y2="551.8" stroke="#16285a" stroke-width="1.3"/>
<line x1="279.1" y1="535.0" x2="279.1" y2="537.2" stroke="#16285a" stroke-width="1.3"/>
<line x1="279.1" y1="556.0" x2="279.1" y2="553.8" stroke="#16285a" stroke-width="1.3"/>
<line x1="284.7" y1="535.0" x2="284.7" y2="537.2" stroke="#16285a" stroke-width="1.3"/>
<line x1="284.7" y1="556.0" x2="284.7" y2="553.8" stroke="#16285a" stroke-width="1.3"/>
<line x1="290.3" y1="535.0" x2="290.3" y2="537.2" stroke="#16285a" stroke-width="1.3"/>
<line x1="290.3" y1="556.0" x2="290.3" y2="553.8" stroke="#16285a" stroke-width="1.3"/>
<line x1="295.9" y1="535.0" x2="295.9" y2="539.2" stroke="#16285a" stroke-width="1.3"/>
<line x1="295.9" y1="556.0" x2="295.9" y2="551.8" stroke="#16285a" stroke-width="1.3"/>
<line x1="301.5" y1="535.0" x2="301.5" y2="537.2" stroke="#16285a" stroke-width="1.3"/>
<line x1="301.5" y1="556.0" x2="301.5" y2="553.8" stroke="#16285a" stroke-width="1.3"/>
<line x1="307.1" y1="535.0" x2="307.1" y2="537.2" stroke="#16285a" stroke-width="1.3"/>
<line x1="307.1" y1="556.0" x2="307.1" y2="553.8" stroke="#16285a" stroke-width="1.3"/>
<line x1="312.7" y1="535.0" x2="312.7" y2="537.2" stroke="#16285a" stroke-width="1.3"/>
<line x1="312.7" y1="556.0" x2="312.7" y2="553.8" stroke="#16285a" stroke-width="1.3"/>
<line x1="318.3" y1="535.0" x2="318.3" y2="537.2" stroke="#16285a" stroke-width="1.3"/>
<line x1="318.3" y1="556.0" x2="318.3" y2="553.8" stroke="#16285a" stroke-width="1.3"/>
<line x1="323.9" y1="535.0" x2="323.9" y2="539.2" stroke="#16285a" stroke-width="1.3"/>
<line x1="323.9" y1="556.0" x2="323.9" y2="551.8" stroke="#16285a" stroke-width="1.3"/>
<line x1="329.5" y1="535.0" x2="329.5" y2="537.2" stroke="#16285a" stroke-width="1.3"/>
<line x1="329.5" y1="556.0" x2="329.5" y2="553.8" stroke="#16285a" stroke-width="1.3"/>
<line x1="335.1" y1="535.0" x2="335.1" y2="537.2" stroke="#16285a" stroke-width="1.3"/>
<line x1="335.1" y1="556.0" x2="335.1" y2="553.8" stroke="#16285a" stroke-width="1.3"/>
<line x1="340.7" y1="535.0" x2="340.7" y2="537.2" stroke="#16285a" stroke-width="1.3"/>
<line x1="340.7" y1="556.0" x2="340.7" y2="553.8" stroke="#16285a" stroke-width="1.3"/>
<line x1="346.3" y1="535.0" x2="346.3" y2="539.2" stroke="#16285a" stroke-width="1.3"/>
<line x1="346.3" y1="556.0" x2="346.3" y2="551.8" stroke="#16285a" stroke-width="1.3"/>
<line x1="351.9" y1="535.0" x2="351.9" y2="537.2" stroke="#16285a" stroke-width="1.3"/>
<line x1="351.9" y1="556.0" x2="351.9" y2="553.8" stroke="#16285a" stroke-width="1.3"/>
<line x1="357.5" y1="535.0" x2="357.5" y2="537.2" stroke="#16285a" stroke-width="1.3"/>
<line x1="357.5" y1="556.0" x2="357.5" y2="553.8" stroke="#16285a" stroke-width="1.3"/>
<line x1="363.2" y1="535.0" x2="363.2" y2="537.2" stroke="#16285a" stroke-width="1.3"/>
<line x1="363.2" y1="556.0" x2="363.2" y2="553.8" stroke="#16285a" stroke-width="1.3"/>
<line x1="368.8" y1="535.0" x2="368.8" y2="539.2" stroke="#16285a" stroke-width="1.3"/>
<line x1="368.8" y1="556.0" x2="368.8" y2="551.8" stroke="#16285a" stroke-width="1.3"/>
<line x1="374.4" y1="535.0" x2="374.4" y2="537.2" stroke="#16285a" stroke-width="1.3"/>
<line x1="374.4" y1="556.0" x2="374.4" y2="553.8" stroke="#16285a" stroke-width="1.3"/>
<line x1="380.0" y1="535.0" x2="380.0" y2="537.2" stroke="#16285a" stroke-width="1.3"/>
<line x1="380.0" y1="556.0" x2="380.0" y2="553.8" stroke="#16285a" stroke-width="1.3"/>
<line x1="385.6" y1="535.0" x2="385.6" y2="537.2" stroke="#16285a" stroke-width="1.3"/>
<line x1="385.6" y1="556.0" x2="385.6" y2="553.8" stroke="#16285a" stroke-width="1.3"/>
<line x1="391.2" y1="535.0" x2="391.2" y2="537.2" stroke="#16285a" stroke-width="1.3"/>
<line x1="391.2" y1="556.0" x2="391.2" y2="553.8" stroke="#16285a" stroke-width="1.3"/>
<line x1="396.8" y1="535.0" x2="396.8" y2="539.2" stroke="#16285a" stroke-width="1.3"/>
<line x1="396.8" y1="556.0" x2="396.8" y2="551.8" stroke="#16285a" stroke-width="1.3"/>
<line x1="402.4" y1="535.0" x2="402.4" y2="537.2" stroke="#16285a" stroke-width="1.3"/>
<line x1="402.4" y1="556.0" x2="402.4" y2="553.8" stroke="#16285a" stroke-width="1.3"/>
<line x1="408.0" y1="535.0" x2="408.0" y2="537.2" stroke="#16285a" stroke-width="1.3"/>
<line x1="408.0" y1="556.0" x2="408.0" y2="553.8" stroke="#16285a" stroke-width="1.3"/>
<line x1="413.6" y1="535.0" x2="413.6" y2="537.2" stroke="#16285a" stroke-width="1.3"/>
<line x1="413.6" y1="556.0" x2="413.6" y2="553.8" stroke="#16285a" stroke-width="1.3"/>
<line x1="419.2" y1="535.0" x2="419.2" y2="539.2" stroke="#16285a" stroke-width="1.3"/>
<line x1="419.2" y1="556.0" x2="419.2" y2="551.8" stroke="#16285a" stroke-width="1.3"/>
<line x1="424.8" y1="535.0" x2="424.8" y2="537.2" stroke="#16285a" stroke-width="1.3"/>
<line x1="424.8" y1="556.0" x2="424.8" y2="553.8" stroke="#16285a" stroke-width="1.3"/>
<line x1="430.4" y1="535.0" x2="430.4" y2="537.2" stroke="#16285a" stroke-width="1.3"/>
<line x1="430.4" y1="556.0" x2="430.4" y2="553.8" stroke="#16285a" stroke-width="1.3"/>
<line x1="436.0" y1="535.0" x2="436.0" y2="537.2" stroke="#16285a" stroke-width="1.3"/>
<line x1="436.0" y1="556.0" x2="436.0" y2="553.8" stroke="#16285a" stroke-width="1.3"/>
<line x1="441.6" y1="535.0" x2="441.6" y2="539.2" stroke="#16285a" stroke-width="1.3"/>
<line x1="441.6" y1="556.0" x2="441.6" y2="551.8" stroke="#16285a" stroke-width="1.3"/>
<line x1="447.2" y1="535.0" x2="447.2" y2="537.2" stroke="#16285a" stroke-width="1.3"/>
<line x1="447.2" y1="556.0" x2="447.2" y2="553.8" stroke="#16285a" stroke-width="1.3"/>
<line x1="452.8" y1="535.0" x2="452.8" y2="537.2" stroke="#16285a" stroke-width="1.3"/>
<line x1="452.8" y1="556.0" x2="452.8" y2="553.8" stroke="#16285a" stroke-width="1.3"/>
<line x1="458.4" y1="535.0" x2="458.4" y2="537.2" stroke="#16285a" stroke-width="1.3"/>
<line x1="458.4" y1="556.0" x2="458.4" y2="553.8" stroke="#16285a" stroke-width="1.3"/>
<line x1="464.0" y1="535.0" x2="464.0" y2="539.2" stroke="#16285a" stroke-width="1.3"/>
<line x1="464.0" y1="556.0" x2="464.0" y2="551.8" stroke="#16285a" stroke-width="1.3"/>
<line x1="469.6" y1="535.0" x2="469.6" y2="537.2" stroke="#16285a" stroke-width="1.3"/>
<line x1="469.6" y1="556.0" x2="469.6" y2="553.8" stroke="#16285a" stroke-width="1.3"/>
<line x1="475.2" y1="535.0" x2="475.2" y2="537.2" stroke="#16285a" stroke-width="1.3"/>
<line x1="475.2" y1="556.0" x2="475.2" y2="553.8" stroke="#16285a" stroke-width="1.3"/>
<line x1="480.8" y1="535.0" x2="480.8" y2="537.2" stroke="#16285a" stroke-width="1.3"/>
<line x1="480.8" y1="556.0" x2="480.8" y2="553.8" stroke="#16285a" stroke-width="1.3"/>
<line x1="486.4" y1="535.0" x2="486.4" y2="537.2" stroke="#16285a" stroke-width="1.3"/>
<line x1="486.4" y1="556.0" x2="486.4" y2="553.8" stroke="#16285a" stroke-width="1.3"/>
<line x1="492.0" y1="535.0" x2="492.0" y2="539.2" stroke="#16285a" stroke-width="1.3"/>
<line x1="492.0" y1="556.0" x2="492.0" y2="551.8" stroke="#16285a" stroke-width="1.3"/>
<line x1="497.6" y1="535.0" x2="497.6" y2="537.2" stroke="#16285a" stroke-width="1.3"/>
<line x1="497.6" y1="556.0" x2="497.6" y2="553.8" stroke="#16285a" stroke-width="1.3"/>
<line x1="503.3" y1="535.0" x2="503.3" y2="537.2" stroke="#16285a" stroke-width="1.3"/>
<line x1="503.3" y1="556.0" x2="503.3" y2="553.8" stroke="#16285a" stroke-width="1.3"/>
<line x1="508.9" y1="535.0" x2="508.9" y2="537.2" stroke="#16285a" stroke-width="1.3"/>
<line x1="508.9" y1="556.0" x2="508.9" y2="553.8" stroke="#16285a" stroke-width="1.3"/>
<line x1="514.5" y1="535.0" x2="514.5" y2="539.2" stroke="#16285a" stroke-width="1.3"/>
<line x1="514.5" y1="556.0" x2="514.5" y2="551.8" stroke="#16285a" stroke-width="1.3"/>
<line x1="520.1" y1="535.0" x2="520.1" y2="537.2" stroke="#16285a" stroke-width="1.3"/>
<line x1="520.1" y1="556.0" x2="520.1" y2="553.8" stroke="#16285a" stroke-width="1.3"/>
<line x1="525.7" y1="535.0" x2="525.7" y2="537.2" stroke="#16285a" stroke-width="1.3"/>
<line x1="525.7" y1="556.0" x2="525.7" y2="553.8" stroke="#16285a" stroke-width="1.3"/>
<line x1="531.3" y1="535.0" x2="531.3" y2="537.2" stroke="#16285a" stroke-width="1.3"/>
<line x1="531.3" y1="556.0" x2="531.3" y2="553.8" stroke="#16285a" stroke-width="1.3"/>
<line x1="536.9" y1="535.0" x2="536.9" y2="537.2" stroke="#16285a" stroke-width="1.3"/>
<line x1="536.9" y1="556.0" x2="536.9" y2="553.8" stroke="#16285a" stroke-width="1.3"/>
<line x1="542.5" y1="535.0" x2="542.5" y2="539.2" stroke="#16285a" stroke-width="1.3"/>
<line x1="542.5" y1="556.0" x2="542.5" y2="551.8" stroke="#16285a" stroke-width="1.3"/>
<line x1="548.1" y1="535.0" x2="548.1" y2="537.2" stroke="#16285a" stroke-width="1.3"/>
<line x1="548.1" y1="556.0" x2="548.1" y2="553.8" stroke="#16285a" stroke-width="1.3"/>
<line x1="553.7" y1="535.0" x2="553.7" y2="537.2" stroke="#16285a" stroke-width="1.3"/>
<line x1="553.7" y1="556.0" x2="553.7" y2="553.8" stroke="#16285a" stroke-width="1.3"/>
<line x1="559.3" y1="535.0" x2="559.3" y2="537.2" stroke="#16285a" stroke-width="1.3"/>
<line x1="559.3" y1="556.0" x2="559.3" y2="553.8" stroke="#16285a" stroke-width="1.3"/>
<line x1="564.9" y1="535.0" x2="564.9" y2="539.2" stroke="#16285a" stroke-width="1.3"/>
<line x1="564.9" y1="556.0" x2="564.9" y2="551.8" stroke="#16285a" stroke-width="1.3"/>
<line x1="570.5" y1="535.0" x2="570.5" y2="537.2" stroke="#16285a" stroke-width="1.3"/>
<line x1="570.5" y1="556.0" x2="570.5" y2="553.8" stroke="#16285a" stroke-width="1.3"/>
<line x1="576.1" y1="535.0" x2="576.1" y2="537.2" stroke="#16285a" stroke-width="1.3"/>
<line x1="576.1" y1="556.0" x2="576.1" y2="553.8" stroke="#16285a" stroke-width="1.3"/>
<line x1="581.7" y1="535.0" x2="581.7" y2="537.2" stroke="#16285a" stroke-width="1.3"/>
<line x1="581.7" y1="556.0" x2="581.7" y2="553.8" stroke="#16285a" stroke-width="1.3"/>
<line x1="587.3" y1="535.0" x2="587.3" y2="539.2" stroke="#16285a" stroke-width="1.3"/>
<line x1="587.3" y1="556.0" x2="587.3" y2="551.8" stroke="#16285a" stroke-width="1.3"/>
<line x1="592.9" y1="535.0" x2="592.9" y2="537.2" stroke="#16285a" stroke-width="1.3"/>
<line x1="592.9" y1="556.0" x2="592.9" y2="553.8" stroke="#16285a" stroke-width="1.3"/>
<line x1="598.5" y1="535.0" x2="598.5" y2="537.2" stroke="#16285a" stroke-width="1.3"/>
<line x1="598.5" y1="556.0" x2="598.5" y2="553.8" stroke="#16285a" stroke-width="1.3"/>
<line x1="604.1" y1="535.0" x2="604.1" y2="537.2" stroke="#16285a" stroke-width="1.3"/>
<line x1="604.1" y1="556.0" x2="604.1" y2="553.8" stroke="#16285a" stroke-width="1.3"/>
<line x1="609.7" y1="535.0" x2="609.7" y2="537.2" stroke="#16285a" stroke-width="1.3"/>
<line x1="609.7" y1="556.0" x2="609.7" y2="553.8" stroke="#16285a" stroke-width="1.3"/>
<line x1="615.3" y1="535.0" x2="615.3" y2="539.2" stroke="#16285a" stroke-width="1.3"/>
<line x1="615.3" y1="556.0" x2="615.3" y2="551.8" stroke="#16285a" stroke-width="1.3"/>
<line x1="620.9" y1="535.0" x2="620.9" y2="537.2" stroke="#16285a" stroke-width="1.3"/>
<line x1="620.9" y1="556.0" x2="620.9" y2="553.8" stroke="#16285a" stroke-width="1.3"/>
<line x1="626.5" y1="535.0" x2="626.5" y2="537.2" stroke="#16285a" stroke-width="1.3"/>
<line x1="626.5" y1="556.0" x2="626.5" y2="553.8" stroke="#16285a" stroke-width="1.3"/>
<line x1="632.1" y1="535.0" x2="632.1" y2="537.2" stroke="#16285a" stroke-width="1.3"/>
<line x1="632.1" y1="556.0" x2="632.1" y2="553.8" stroke="#16285a" stroke-width="1.3"/>
<line x1="637.8" y1="535.0" x2="637.8" y2="539.2" stroke="#16285a" stroke-width="1.3"/>
<line x1="637.8" y1="556.0" x2="637.8" y2="551.8" stroke="#16285a" stroke-width="1.3"/>
<line x1="643.4" y1="535.0" x2="643.4" y2="537.2" stroke="#16285a" stroke-width="1.3"/>
<line x1="643.4" y1="556.0" x2="643.4" y2="553.8" stroke="#16285a" stroke-width="1.3"/>
<line x1="649.0" y1="535.0" x2="649.0" y2="537.2" stroke="#16285a" stroke-width="1.3"/>
<line x1="649.0" y1="556.0" x2="649.0" y2="553.8" stroke="#16285a" stroke-width="1.3"/>
<line x1="654.6" y1="535.0" x2="654.6" y2="537.2" stroke="#16285a" stroke-width="1.3"/>
<line x1="654.6" y1="556.0" x2="654.6" y2="553.8" stroke="#16285a" stroke-width="1.3"/>
<line x1="660.2" y1="535.0" x2="660.2" y2="539.2" stroke="#16285a" stroke-width="1.3"/>
<line x1="660.2" y1="556.0" x2="660.2" y2="551.8" stroke="#16285a" stroke-width="1.3"/>
<line x1="665.8" y1="535.0" x2="665.8" y2="537.2" stroke="#16285a" stroke-width="1.3"/>
<line x1="665.8" y1="556.0" x2="665.8" y2="553.8" stroke="#16285a" stroke-width="1.3"/>
<line x1="671.4" y1="535.0" x2="671.4" y2="537.2" stroke="#16285a" stroke-width="1.3"/>
<line x1="671.4" y1="556.0" x2="671.4" y2="553.8" stroke="#16285a" stroke-width="1.3"/>
<line x1="677.0" y1="535.0" x2="677.0" y2="537.2" stroke="#16285a" stroke-width="1.3"/>
<line x1="677.0" y1="556.0" x2="677.0" y2="553.8" stroke="#16285a" stroke-width="1.3"/>
<line x1="682.6" y1="535.0" x2="682.6" y2="537.2" stroke="#16285a" stroke-width="1.3"/>
<line x1="682.6" y1="556.0" x2="682.6" y2="553.8" stroke="#16285a" stroke-width="1.3"/>
<line x1="688.2" y1="535.0" x2="688.2" y2="539.2" stroke="#16285a" stroke-width="1.3"/>
<line x1="688.2" y1="556.0" x2="688.2" y2="551.8" stroke="#16285a" stroke-width="1.3"/>
<line x1="693.8" y1="535.0" x2="693.8" y2="537.2" stroke="#16285a" stroke-width="1.3"/>
<line x1="693.8" y1="556.0" x2="693.8" y2="553.8" stroke="#16285a" stroke-width="1.3"/>
<line x1="699.4" y1="535.0" x2="699.4" y2="537.2" stroke="#16285a" stroke-width="1.3"/>
<line x1="699.4" y1="556.0" x2="699.4" y2="553.8" stroke="#16285a" stroke-width="1.3"/>
<line x1="705.0" y1="535.0" x2="705.0" y2="537.2" stroke="#16285a" stroke-width="1.3"/>
<line x1="705.0" y1="556.0" x2="705.0" y2="553.8" stroke="#16285a" stroke-width="1.3"/>
<line x1="710.6" y1="535.0" x2="710.6" y2="539.2" stroke="#16285a" stroke-width="1.3"/>
<line x1="710.6" y1="556.0" x2="710.6" y2="551.8" stroke="#16285a" stroke-width="1.3"/>
<line x1="716.2" y1="535.0" x2="716.2" y2="537.2" stroke="#16285a" stroke-width="1.3"/>
<line x1="716.2" y1="556.0" x2="716.2" y2="553.8" stroke="#16285a" stroke-width="1.3"/>
<line x1="721.8" y1="535.0" x2="721.8" y2="537.2" stroke="#16285a" stroke-width="1.3"/>
<line x1="721.8" y1="556.0" x2="721.8" y2="553.8" stroke="#16285a" stroke-width="1.3"/>
<line x1="727.4" y1="535.0" x2="727.4" y2="537.2" stroke="#16285a" stroke-width="1.3"/>
<line x1="727.4" y1="556.0" x2="727.4" y2="553.8" stroke="#16285a" stroke-width="1.3"/>
<line x1="733.0" y1="535.0" x2="733.0" y2="539.2" stroke="#16285a" stroke-width="1.3"/>
<line x1="733.0" y1="556.0" x2="733.0" y2="551.8" stroke="#16285a" stroke-width="1.3"/>
<line x1="738.6" y1="535.0" x2="738.6" y2="537.2" stroke="#16285a" stroke-width="1.3"/>
<line x1="738.6" y1="556.0" x2="738.6" y2="553.8" stroke="#16285a" stroke-width="1.3"/>
<line x1="744.2" y1="535.0" x2="744.2" y2="537.2" stroke="#16285a" stroke-width="1.3"/>
<line x1="744.2" y1="556.0" x2="744.2" y2="553.8" stroke="#16285a" stroke-width="1.3"/>
<line x1="749.8" y1="535.0" x2="749.8" y2="537.2" stroke="#16285a" stroke-width="1.3"/>
<line x1="749.8" y1="556.0" x2="749.8" y2="553.8" stroke="#16285a" stroke-width="1.3"/>
<line x1="755.4" y1="535.0" x2="755.4" y2="537.2" stroke="#16285a" stroke-width="1.3"/>
<line x1="755.4" y1="556.0" x2="755.4" y2="553.8" stroke="#16285a" stroke-width="1.3"/>
<line x1="761.0" y1="535.0" x2="761.0" y2="539.2" stroke="#16285a" stroke-width="1.3"/>
<line x1="761.0" y1="556.0" x2="761.0" y2="551.8" stroke="#16285a" stroke-width="1.3"/>
<line x1="766.6" y1="535.0" x2="766.6" y2="537.2" stroke="#16285a" stroke-width="1.3"/>
<line x1="766.6" y1="556.0" x2="766.6" y2="553.8" stroke="#16285a" stroke-width="1.3"/>
<line x1="772.2" y1="535.0" x2="772.2" y2="537.2" stroke="#16285a" stroke-width="1.3"/>
<line x1="772.2" y1="556.0" x2="772.2" y2="553.8" stroke="#16285a" stroke-width="1.3"/>
<line x1="777.9" y1="535.0" x2="777.9" y2="537.2" stroke="#16285a" stroke-width="1.3"/>
<line x1="777.9" y1="556.0" x2="777.9" y2="553.8" stroke="#16285a" stroke-width="1.3"/>
<line x1="783.5" y1="535.0" x2="783.5" y2="539.2" stroke="#16285a" stroke-width="1.3"/>
<line x1="783.5" y1="556.0" x2="783.5" y2="551.8" stroke="#16285a" stroke-width="1.3"/>
<line x1="789.1" y1="535.0" x2="789.1" y2="537.2" stroke="#16285a" stroke-width="1.3"/>
<line x1="789.1" y1="556.0" x2="789.1" y2="553.8" stroke="#16285a" stroke-width="1.3"/>
<line x1="794.7" y1="535.0" x2="794.7" y2="537.2" stroke="#16285a" stroke-width="1.3"/>
<line x1="794.7" y1="556.0" x2="794.7" y2="553.8" stroke="#16285a" stroke-width="1.3"/>
<line x1="800.3" y1="535.0" x2="800.3" y2="537.2" stroke="#16285a" stroke-width="1.3"/>
<line x1="800.3" y1="556.0" x2="800.3" y2="553.8" stroke="#16285a" stroke-width="1.3"/>
<line x1="805.9" y1="535.0" x2="805.9" y2="539.2" stroke="#16285a" stroke-width="1.3"/>
<line x1="805.9" y1="556.0" x2="805.9" y2="551.8" stroke="#16285a" stroke-width="1.3"/>
<line x1="811.5" y1="535.0" x2="811.5" y2="537.2" stroke="#16285a" stroke-width="1.3"/>
<line x1="811.5" y1="556.0" x2="811.5" y2="553.8" stroke="#16285a" stroke-width="1.3"/>
<line x1="817.1" y1="535.0" x2="817.1" y2="537.2" stroke="#16285a" stroke-width="1.3"/>
<line x1="817.1" y1="556.0" x2="817.1" y2="553.8" stroke="#16285a" stroke-width="1.3"/>
<line x1="822.7" y1="535.0" x2="822.7" y2="537.2" stroke="#16285a" stroke-width="1.3"/>
<line x1="822.7" y1="556.0" x2="822.7" y2="553.8" stroke="#16285a" stroke-width="1.3"/>
<line x1="828.3" y1="535.0" x2="828.3" y2="537.2" stroke="#16285a" stroke-width="1.3"/>
<line x1="828.3" y1="556.0" x2="828.3" y2="553.8" stroke="#16285a" stroke-width="1.3"/>
<line x1="833.9" y1="535.0" x2="833.9" y2="539.2" stroke="#16285a" stroke-width="1.3"/>
<line x1="833.9" y1="556.0" x2="833.9" y2="551.8" stroke="#16285a" stroke-width="1.3"/>
<line x1="839.5" y1="535.0" x2="839.5" y2="537.2" stroke="#16285a" stroke-width="1.3"/>
<line x1="839.5" y1="556.0" x2="839.5" y2="553.8" stroke="#16285a" stroke-width="1.3"/>
<line x1="845.1" y1="535.0" x2="845.1" y2="537.2" stroke="#16285a" stroke-width="1.3"/>
<line x1="845.1" y1="556.0" x2="845.1" y2="553.8" stroke="#16285a" stroke-width="1.3"/>
<line x1="850.7" y1="535.0" x2="850.7" y2="537.2" stroke="#16285a" stroke-width="1.3"/>
<line x1="850.7" y1="556.0" x2="850.7" y2="553.8" stroke="#16285a" stroke-width="1.3"/>
<line x1="856.3" y1="535.0" x2="856.3" y2="539.2" stroke="#16285a" stroke-width="1.3"/>
<line x1="856.3" y1="556.0" x2="856.3" y2="551.8" stroke="#16285a" stroke-width="1.3"/>
<line x1="861.9" y1="535.0" x2="861.9" y2="537.2" stroke="#16285a" stroke-width="1.3"/>
<line x1="861.9" y1="556.0" x2="861.9" y2="553.8" stroke="#16285a" stroke-width="1.3"/>
<line x1="867.5" y1="535.0" x2="867.5" y2="537.2" stroke="#16285a" stroke-width="1.3"/>
<line x1="867.5" y1="556.0" x2="867.5" y2="553.8" stroke="#16285a" stroke-width="1.3"/>
<line x1="873.1" y1="535.0" x2="873.1" y2="537.2" stroke="#16285a" stroke-width="1.3"/>
<line x1="873.1" y1="556.0" x2="873.1" y2="553.8" stroke="#16285a" stroke-width="1.3"/>
<line x1="878.7" y1="535.0" x2="878.7" y2="537.2" stroke="#16285a" stroke-width="1.3"/>
<line x1="878.7" y1="556.0" x2="878.7" y2="553.8" stroke="#16285a" stroke-width="1.3"/>
<line x1="884.3" y1="535.0" x2="884.3" y2="539.2" stroke="#16285a" stroke-width="1.3"/>
<line x1="884.3" y1="556.0" x2="884.3" y2="551.8" stroke="#16285a" stroke-width="1.3"/>
<line x1="889.9" y1="535.0" x2="889.9" y2="537.2" stroke="#16285a" stroke-width="1.3"/>
<line x1="889.9" y1="556.0" x2="889.9" y2="553.8" stroke="#16285a" stroke-width="1.3"/>
<line x1="895.5" y1="535.0" x2="895.5" y2="537.2" stroke="#16285a" stroke-width="1.3"/>
<line x1="895.5" y1="556.0" x2="895.5" y2="553.8" stroke="#16285a" stroke-width="1.3"/>
<line x1="901.1" y1="535.0" x2="901.1" y2="537.2" stroke="#16285a" stroke-width="1.3"/>
<line x1="901.1" y1="556.0" x2="901.1" y2="553.8" stroke="#16285a" stroke-width="1.3"/>
<line x1="906.7" y1="535.0" x2="906.7" y2="539.2" stroke="#16285a" stroke-width="1.3"/>
<line x1="906.7" y1="556.0" x2="906.7" y2="551.8" stroke="#16285a" stroke-width="1.3"/>
<line x1="912.3" y1="535.0" x2="912.3" y2="537.2" stroke="#16285a" stroke-width="1.3"/>
<line x1="912.3" y1="556.0" x2="912.3" y2="553.8" stroke="#16285a" stroke-width="1.3"/>
<line x1="918.0" y1="535.0" x2="918.0" y2="537.2" stroke="#16285a" stroke-width="1.3"/>
<line x1="918.0" y1="556.0" x2="918.0" y2="553.8" stroke="#16285a" stroke-width="1.3"/>
<line x1="923.6" y1="535.0" x2="923.6" y2="537.2" stroke="#16285a" stroke-width="1.3"/>
<line x1="923.6" y1="556.0" x2="923.6" y2="553.8" stroke="#16285a" stroke-width="1.3"/>
<line x1="929.2" y1="535.0" x2="929.2" y2="539.2" stroke="#16285a" stroke-width="1.3"/>
<line x1="929.2" y1="556.0" x2="929.2" y2="551.8" stroke="#16285a" stroke-width="1.3"/>
<line x1="934.8" y1="535.0" x2="934.8" y2="537.2" stroke="#16285a" stroke-width="1.3"/>
<line x1="934.8" y1="556.0" x2="934.8" y2="553.8" stroke="#16285a" stroke-width="1.3"/>
<line x1="940.4" y1="535.0" x2="940.4" y2="537.2" stroke="#16285a" stroke-width="1.3"/>
<line x1="940.4" y1="556.0" x2="940.4" y2="553.8" stroke="#16285a" stroke-width="1.3"/>
<line x1="946.0" y1="535.0" x2="946.0" y2="537.2" stroke="#16285a" stroke-width="1.3"/>
<line x1="946.0" y1="556.0" x2="946.0" y2="553.8" stroke="#16285a" stroke-width="1.3"/>
<line x1="951.6" y1="535.0" x2="951.6" y2="537.2" stroke="#16285a" stroke-width="1.3"/>
<line x1="951.6" y1="556.0" x2="951.6" y2="553.8" stroke="#16285a" stroke-width="1.3"/>
<line x1="957.2" y1="535.0" x2="957.2" y2="539.2" stroke="#16285a" stroke-width="1.3"/>
<line x1="957.2" y1="556.0" x2="957.2" y2="551.8" stroke="#16285a" stroke-width="1.3"/>
<line x1="962.8" y1="535.0" x2="962.8" y2="537.2" stroke="#16285a" stroke-width="1.3"/>
<line x1="962.8" y1="556.0" x2="962.8" y2="553.8" stroke="#16285a" stroke-width="1.3"/>
<line x1="968.4" y1="535.0" x2="968.4" y2="537.2" stroke="#16285a" stroke-width="1.3"/>
<line x1="968.4" y1="556.0" x2="968.4" y2="553.8" stroke="#16285a" stroke-width="1.3"/>
<line x1="974.0" y1="535.0" x2="974.0" y2="537.2" stroke="#16285a" stroke-width="1.3"/>
<line x1="974.0" y1="556.0" x2="974.0" y2="553.8" stroke="#16285a" stroke-width="1.3"/>
<line x1="979.6" y1="535.0" x2="979.6" y2="539.2" stroke="#16285a" stroke-width="1.3"/>
<line x1="979.6" y1="556.0" x2="979.6" y2="551.8" stroke="#16285a" stroke-width="1.3"/>
<line x1="985.2" y1="535.0" x2="985.2" y2="537.2" stroke="#16285a" stroke-width="1.3"/>
<line x1="985.2" y1="556.0" x2="985.2" y2="553.8" stroke="#16285a" stroke-width="1.3"/>
<line x1="990.8" y1="535.0" x2="990.8" y2="537.2" stroke="#16285a" stroke-width="1.3"/>
<line x1="990.8" y1="556.0" x2="990.8" y2="553.8" stroke="#16285a" stroke-width="1.3"/>
<line x1="996.4" y1="535.0" x2="996.4" y2="537.2" stroke="#16285a" stroke-width="1.3"/>
<line x1="996.4" y1="556.0" x2="996.4" y2="553.8" stroke="#16285a" stroke-width="1.3"/>
<line x1="1002.0" y1="535.0" x2="1002.0" y2="539.2" stroke="#16285a" stroke-width="1.3"/>
<line x1="1002.0" y1="556.0" x2="1002.0" y2="551.8" stroke="#16285a" stroke-width="1.3"/>
<line x1="1007.6" y1="535.0" x2="1007.6" y2="537.2" stroke="#16285a" stroke-width="1.3"/>
<line x1="1007.6" y1="556.0" x2="1007.6" y2="553.8" stroke="#16285a" stroke-width="1.3"/>
<line x1="1013.2" y1="535.0" x2="1013.2" y2="537.2" stroke="#16285a" stroke-width="1.3"/>
<line x1="1013.2" y1="556.0" x2="1013.2" y2="553.8" stroke="#16285a" stroke-width="1.3"/>
<line x1="1018.8" y1="535.0" x2="1018.8" y2="537.2" stroke="#16285a" stroke-width="1.3"/>
<line x1="1018.8" y1="556.0" x2="1018.8" y2="553.8" stroke="#16285a" stroke-width="1.3"/>
<line x1="1024.4" y1="535.0" x2="1024.4" y2="537.2" stroke="#16285a" stroke-width="1.3"/>
<line x1="1024.4" y1="556.0" x2="1024.4" y2="553.8" stroke="#16285a" stroke-width="1.3"/>
<line x1="1030.0" y1="535.0" x2="1030.0" y2="539.2" stroke="#16285a" stroke-width="1.3"/>
<line x1="1030.0" y1="556.0" x2="1030.0" y2="551.8" stroke="#16285a" stroke-width="1.3"/>
<line x1="1035.6" y1="535.0" x2="1035.6" y2="537.2" stroke="#16285a" stroke-width="1.3"/>
<line x1="1035.6" y1="556.0" x2="1035.6" y2="553.8" stroke="#16285a" stroke-width="1.3"/>
<line x1="1041.2" y1="535.0" x2="1041.2" y2="537.2" stroke="#16285a" stroke-width="1.3"/>
<line x1="1041.2" y1="556.0" x2="1041.2" y2="553.8" stroke="#16285a" stroke-width="1.3"/>
<line x1="1046.8" y1="535.0" x2="1046.8" y2="537.2" stroke="#16285a" stroke-width="1.3"/>
<line x1="1046.8" y1="556.0" x2="1046.8" y2="553.8" stroke="#16285a" stroke-width="1.3"/>
<line x1="1052.4" y1="535.0" x2="1052.4" y2="539.2" stroke="#16285a" stroke-width="1.3"/>
<line x1="1052.4" y1="556.0" x2="1052.4" y2="551.8" stroke="#16285a" stroke-width="1.3"/>
<line x1="1058.0" y1="535.0" x2="1058.0" y2="537.2" stroke="#16285a" stroke-width="1.3"/>
<line x1="1058.0" y1="556.0" x2="1058.0" y2="553.8" stroke="#16285a" stroke-width="1.3"/>
<line x1="1063.7" y1="535.0" x2="1063.7" y2="537.2" stroke="#16285a" stroke-width="1.3"/>
<line x1="1063.7" y1="556.0" x2="1063.7" y2="553.8" stroke="#16285a" stroke-width="1.3"/>
<line x1="1069.3" y1="535.0" x2="1069.3" y2="537.2" stroke="#16285a" stroke-width="1.3"/>
<line x1="1069.3" y1="556.0" x2="1069.3" y2="553.8" stroke="#16285a" stroke-width="1.3"/>
<line x1="1074.9" y1="535.0" x2="1074.9" y2="539.2" stroke="#16285a" stroke-width="1.3"/>
<line x1="1074.9" y1="556.0" x2="1074.9" y2="551.8" stroke="#16285a" stroke-width="1.3"/>
<line x1="1080.5" y1="535.0" x2="1080.5" y2="537.2" stroke="#16285a" stroke-width="1.3"/>
<line x1="1080.5" y1="556.0" x2="1080.5" y2="553.8" stroke="#16285a" stroke-width="1.3"/>
<line x1="1086.1" y1="535.0" x2="1086.1" y2="537.2" stroke="#16285a" stroke-width="1.3"/>
<line x1="1086.1" y1="556.0" x2="1086.1" y2="553.8" stroke="#16285a" stroke-width="1.3"/>
<line x1="1091.7" y1="535.0" x2="1091.7" y2="537.2" stroke="#16285a" stroke-width="1.3"/>
<line x1="1091.7" y1="556.0" x2="1091.7" y2="553.8" stroke="#16285a" stroke-width="1.3"/>
<line x1="1097.3" y1="535.0" x2="1097.3" y2="537.2" stroke="#16285a" stroke-width="1.3"/>
<line x1="1097.3" y1="556.0" x2="1097.3" y2="553.8" stroke="#16285a" stroke-width="1.3"/>
<line x1="1102.9" y1="535.0" x2="1102.9" y2="539.2" stroke="#16285a" stroke-width="1.3"/>
<line x1="1102.9" y1="556.0" x2="1102.9" y2="551.8" stroke="#16285a" stroke-width="1.3"/>
<line x1="1108.5" y1="535.0" x2="1108.5" y2="537.2" stroke="#16285a" stroke-width="1.3"/>
<line x1="1108.5" y1="556.0" x2="1108.5" y2="553.8" stroke="#16285a" stroke-width="1.3"/>
<line x1="1114.1" y1="535.0" x2="1114.1" y2="537.2" stroke="#16285a" stroke-width="1.3"/>
<line x1="1114.1" y1="556.0" x2="1114.1" y2="553.8" stroke="#16285a" stroke-width="1.3"/>
<line x1="1119.7" y1="535.0" x2="1119.7" y2="537.2" stroke="#16285a" stroke-width="1.3"/>
<line x1="1119.7" y1="556.0" x2="1119.7" y2="553.8" stroke="#16285a" stroke-width="1.3"/>
<line x1="1125.3" y1="535.0" x2="1125.3" y2="539.2" stroke="#16285a" stroke-width="1.3"/>
<line x1="1125.3" y1="556.0" x2="1125.3" y2="551.8" stroke="#16285a" stroke-width="1.3"/>
<line x1="1130.9" y1="535.0" x2="1130.9" y2="537.2" stroke="#16285a" stroke-width="1.3"/>
<line x1="1130.9" y1="556.0" x2="1130.9" y2="553.8" stroke="#16285a" stroke-width="1.3"/>
<line x1="1136.5" y1="535.0" x2="1136.5" y2="537.2" stroke="#16285a" stroke-width="1.3"/>
<line x1="1136.5" y1="556.0" x2="1136.5" y2="553.8" stroke="#16285a" stroke-width="1.3"/>
<line x1="1142.1" y1="535.0" x2="1142.1" y2="537.2" stroke="#16285a" stroke-width="1.3"/>
<line x1="1142.1" y1="556.0" x2="1142.1" y2="553.8" stroke="#16285a" stroke-width="1.3"/>
<line x1="1147.7" y1="535.0" x2="1147.7" y2="539.2" stroke="#16285a" stroke-width="1.3"/>
<line x1="1147.7" y1="556.0" x2="1147.7" y2="551.8" stroke="#16285a" stroke-width="1.3"/>
<line x1="1153.3" y1="535.0" x2="1153.3" y2="537.2" stroke="#16285a" stroke-width="1.3"/>
<line x1="1153.3" y1="556.0" x2="1153.3" y2="553.8" stroke="#16285a" stroke-width="1.3"/>
<line x1="1158.9" y1="535.0" x2="1158.9" y2="537.2" stroke="#16285a" stroke-width="1.3"/>
<line x1="1158.9" y1="556.0" x2="1158.9" y2="553.8" stroke="#16285a" stroke-width="1.3"/>
<line x1="1164.5" y1="535.0" x2="1164.5" y2="537.2" stroke="#16285a" stroke-width="1.3"/>
<line x1="1164.5" y1="556.0" x2="1164.5" y2="553.8" stroke="#16285a" stroke-width="1.3"/>
<line x1="1170.1" y1="535.0" x2="1170.1" y2="537.2" stroke="#16285a" stroke-width="1.3"/>
<line x1="1170.1" y1="556.0" x2="1170.1" y2="553.8" stroke="#16285a" stroke-width="1.3"/>
<line x1="1175.7" y1="535.0" x2="1175.7" y2="539.2" stroke="#16285a" stroke-width="1.3"/>
<line x1="1175.7" y1="556.0" x2="1175.7" y2="551.8" stroke="#16285a" stroke-width="1.3"/>
<line x1="1181.3" y1="535.0" x2="1181.3" y2="537.2" stroke="#16285a" stroke-width="1.3"/>
<line x1="1181.3" y1="556.0" x2="1181.3" y2="553.8" stroke="#16285a" stroke-width="1.3"/>
<line x1="1186.9" y1="535.0" x2="1186.9" y2="537.2" stroke="#16285a" stroke-width="1.3"/>
<line x1="1186.9" y1="556.0" x2="1186.9" y2="553.8" stroke="#16285a" stroke-width="1.3"/>
<line x1="1192.5" y1="535.0" x2="1192.5" y2="537.2" stroke="#16285a" stroke-width="1.3"/>
<line x1="1192.5" y1="556.0" x2="1192.5" y2="553.8" stroke="#16285a" stroke-width="1.3"/>
<line x1="1198.1" y1="535.0" x2="1198.1" y2="539.2" stroke="#16285a" stroke-width="1.3"/>
<line x1="1198.1" y1="556.0" x2="1198.1" y2="551.8" stroke="#16285a" stroke-width="1.3"/>
<line x1="1203.8" y1="535.0" x2="1203.8" y2="537.2" stroke="#16285a" stroke-width="1.3"/>
<line x1="1203.8" y1="556.0" x2="1203.8" y2="553.8" stroke="#16285a" stroke-width="1.3"/>
<line x1="1209.4" y1="535.0" x2="1209.4" y2="537.2" stroke="#16285a" stroke-width="1.3"/>
<line x1="1209.4" y1="556.0" x2="1209.4" y2="553.8" stroke="#16285a" stroke-width="1.3"/>
<line x1="1215.0" y1="535.0" x2="1215.0" y2="537.2" stroke="#16285a" stroke-width="1.3"/>
<line x1="1215.0" y1="556.0" x2="1215.0" y2="553.8" stroke="#16285a" stroke-width="1.3"/>
<text x="29.9" y="551.3" text-anchor="middle" font-family="Liberation Sans, Arial, sans-serif" font-size="13.9" fill="#111">N</text>
<text x="57.8" y="551.3" text-anchor="middle" font-family="Liberation Sans, Arial, sans-serif" font-size="13.9" fill="#111">D</text>
<text x="76.3" y="551.3" text-anchor="middle" font-family="Liberation Sans, Arial, sans-serif" font-weight="bold" font-size="15.6" fill="#111">22</text>
<text x="108.2" y="551.3" text-anchor="middle" font-family="Liberation Sans, Arial, sans-serif" font-size="13.9" fill="#111">F</text>
<text x="130.5" y="551.3" text-anchor="middle" font-family="Liberation Sans, Arial, sans-serif" font-size="13.9" fill="#111">M</text>
<text x="152.9" y="551.3" text-anchor="middle" font-family="Liberation Sans, Arial, sans-serif" font-size="13.9" fill="#111">A</text>
<text x="175.3" y="551.3" text-anchor="middle" font-family="Liberation Sans, Arial, sans-serif" font-size="13.9" fill="#111">M</text>
<text x="203.2" y="551.3" text-anchor="middle" font-family="Liberation Sans, Arial, sans-serif" font-size="13.9" fill="#111">J</text>
<text x="225.6" y="551.3" text-anchor="middle" font-family="Liberation Sans, Arial, sans-serif" font-size="13.9" fill="#111">J</text>
<text x="248.0" y="551.3" text-anchor="middle" font-family="Liberation Sans, Arial, sans-serif" font-size="13.9" fill="#111">A</text>
<text x="275.9" y="551.3" text-anchor="middle" font-family="Liberation Sans, Arial, sans-serif" font-size="13.9" fill="#111">S</text>
<text x="298.3" y="551.3" text-anchor="middle" font-family="Liberation Sans, Arial, sans-serif" font-size="13.9" fill="#111">O</text>
<text x="326.3" y="551.3" text-anchor="middle" font-family="Liberation Sans, Arial, sans-serif" font-size="13.9" fill="#111">N</text>
<text x="348.6" y="551.3" text-anchor="middle" font-family="Liberation Sans, Arial, sans-serif" font-size="13.9" fill="#111">D</text>
<text x="367.4" y="551.3" text-anchor="middle" font-family="Liberation Sans, Arial, sans-serif" font-weight="bold" font-size="15.6" fill="#111">23</text>
<text x="399.0" y="551.3" text-anchor="middle" font-family="Liberation Sans, Arial, sans-serif" font-size="13.9" fill="#111">F</text>
<text x="421.3" y="551.3" text-anchor="middle" font-family="Liberation Sans, Arial, sans-serif" font-size="13.9" fill="#111">M</text>
<text x="443.7" y="551.3" text-anchor="middle" font-family="Liberation Sans, Arial, sans-serif" font-size="13.9" fill="#111">A</text>
<text x="466.1" y="551.3" text-anchor="middle" font-family="Liberation Sans, Arial, sans-serif" font-size="13.9" fill="#111">M</text>
<text x="494.0" y="551.3" text-anchor="middle" font-family="Liberation Sans, Arial, sans-serif" font-size="13.9" fill="#111">J</text>
<text x="516.4" y="551.3" text-anchor="middle" font-family="Liberation Sans, Arial, sans-serif" font-size="13.9" fill="#111">J</text>
<text x="544.4" y="551.3" text-anchor="middle" font-family="Liberation Sans, Arial, sans-serif" font-size="13.9" fill="#111">A</text>
<text x="566.7" y="551.3" text-anchor="middle" font-family="Liberation Sans, Arial, sans-serif" font-size="13.9" fill="#111">S</text>
<text x="589.1" y="551.3" text-anchor="middle" font-family="Liberation Sans, Arial, sans-serif" font-size="13.9" fill="#111">O</text>
<text x="617.1" y="551.3" text-anchor="middle" font-family="Liberation Sans, Arial, sans-serif" font-size="13.9" fill="#111">N</text>
<text x="639.4" y="551.3" text-anchor="middle" font-family="Liberation Sans, Arial, sans-serif" font-size="13.9" fill="#111">D</text>
<text x="658.4" y="551.3" text-anchor="middle" font-family="Liberation Sans, Arial, sans-serif" font-weight="bold" font-size="15.6" fill="#111">24</text>
<text x="689.8" y="551.3" text-anchor="middle" font-family="Liberation Sans, Arial, sans-serif" font-size="13.9" fill="#111">F</text>
<text x="712.1" y="551.3" text-anchor="middle" font-family="Liberation Sans, Arial, sans-serif" font-size="13.9" fill="#111">M</text>
<text x="734.5" y="551.3" text-anchor="middle" font-family="Liberation Sans, Arial, sans-serif" font-size="13.9" fill="#111">A</text>
<text x="762.5" y="551.3" text-anchor="middle" font-family="Liberation Sans, Arial, sans-serif" font-size="13.9" fill="#111">M</text>
<text x="784.8" y="551.3" text-anchor="middle" font-family="Liberation Sans, Arial, sans-serif" font-size="13.9" fill="#111">J</text>
<text x="807.2" y="551.3" text-anchor="middle" font-family="Liberation Sans, Arial, sans-serif" font-size="13.9" fill="#111">J</text>
<text x="835.2" y="551.3" text-anchor="middle" font-family="Liberation Sans, Arial, sans-serif" font-size="13.9" fill="#111">A</text>
<text x="857.5" y="551.3" text-anchor="middle" font-family="Liberation Sans, Arial, sans-serif" font-size="13.9" fill="#111">S</text>
<text x="885.5" y="551.3" text-anchor="middle" font-family="Liberation Sans, Arial, sans-serif" font-size="13.9" fill="#111">O</text>
<text x="907.9" y="551.3" text-anchor="middle" font-family="Liberation Sans, Arial, sans-serif" font-size="13.9" fill="#111">N</text>
<text x="930.2" y="551.3" text-anchor="middle" font-family="Liberation Sans, Arial, sans-serif" font-size="13.9" fill="#111">D</text>
<text x="955.1" y="551.3" text-anchor="middle" font-family="Liberation Sans, Arial, sans-serif" font-weight="bold" font-size="15.6" fill="#111">25</text>
<text x="980.6" y="551.3" text-anchor="middle" font-family="Liberation Sans, Arial, sans-serif" font-size="13.9" fill="#111">F</text>
<text x="1002.9" y="551.3" text-anchor="middle" font-family="Liberation Sans, Arial, sans-serif" font-size="13.9" fill="#111">M</text>
<text x="1030.9" y="551.3" text-anchor="middle" font-family="Liberation Sans, Arial, sans-serif" font-size="13.9" fill="#111">A</text>
<text x="1053.3" y="551.3" text-anchor="middle" font-family="Liberation Sans, Arial, sans-serif" font-size="13.9" fill="#111">M</text>
<text x="1075.6" y="551.3" text-anchor="middle" font-family="Liberation Sans, Arial, sans-serif" font-size="13.9" fill="#111">J</text>
<text x="1103.6" y="551.3" text-anchor="middle" font-family="Liberation Sans, Arial, sans-serif" font-size="13.9" fill="#111">J</text>
<text x="1125.9" y="551.3" text-anchor="middle" font-family="Liberation Sans, Arial, sans-serif" font-size="13.9" fill="#111">A</text>
<text x="1148.3" y="551.3" text-anchor="middle" font-family="Liberation Sans, Arial, sans-serif" font-size="13.9" fill="#111">S</text>
<text x="1176.3" y="551.3" text-anchor="middle" font-family="Liberation Sans, Arial, sans-serif" font-size="13.9" fill="#111">O</text>
<text x="1198.6" y="551.3" text-anchor="middle" font-family="Liberation Sans, Arial, sans-serif" font-size="13.9" fill="#111">N</text>
<line x1="26.9" y1="934.2" x2="26.9" y2="938.4000000000001" stroke="#16285a" stroke-width="1.3"/>
<line x1="32.5" y1="934.2" x2="32.5" y2="936.4000000000001" stroke="#16285a" stroke-width="1.3"/>
<line x1="38.1" y1="934.2" x2="38.1" y2="936.4000000000001" stroke="#16285a" stroke-width="1.3"/>
<line x1="43.7" y1="934.2" x2="43.7" y2="936.4000000000001" stroke="#16285a" stroke-width="1.3"/>
<line x1="49.3" y1="934.2" x2="49.3" y2="936.4000000000001" stroke="#16285a" stroke-width="1.3"/>
<line x1="54.9" y1="934.2" x2="54.9" y2="938.4000000000001" stroke="#16285a" stroke-width="1.3"/>
<line x1="60.5" y1="934.2" x2="60.5" y2="936.4000000000001" stroke="#16285a" stroke-width="1.3"/>
<line x1="66.1" y1="934.2" x2="66.1" y2="936.4000000000001" stroke="#16285a" stroke-width="1.3"/>
<line x1="71.7" y1="934.2" x2="71.7" y2="936.4000000000001" stroke="#16285a" stroke-width="1.3"/>
<line x1="77.3" y1="934.2" x2="77.3" y2="938.4000000000001" stroke="#16285a" stroke-width="1.3"/>
<line x1="83.0" y1="934.2" x2="83.0" y2="936.4000000000001" stroke="#16285a" stroke-width="1.3"/>
<line x1="88.6" y1="934.2" x2="88.6" y2="936.4000000000001" stroke="#16285a" stroke-width="1.3"/>
<line x1="94.2" y1="934.2" x2="94.2" y2="936.4000000000001" stroke="#16285a" stroke-width="1.3"/>
<line x1="99.8" y1="934.2" x2="99.8" y2="936.4000000000001" stroke="#16285a" stroke-width="1.3"/>
<line x1="105.4" y1="934.2" x2="105.4" y2="938.4000000000001" stroke="#16285a" stroke-width="1.3"/>
<line x1="111.0" y1="934.2" x2="111.0" y2="936.4000000000001" stroke="#16285a" stroke-width="1.3"/>
<line x1="116.6" y1="934.2" x2="116.6" y2="936.4000000000001" stroke="#16285a" stroke-width="1.3"/>
<line x1="122.2" y1="934.2" x2="122.2" y2="936.4000000000001" stroke="#16285a" stroke-width="1.3"/>
<line x1="127.8" y1="934.2" x2="127.8" y2="938.4000000000001" stroke="#16285a" stroke-width="1.3"/>
<line x1="133.4" y1="934.2" x2="133.4" y2="936.4000000000001" stroke="#16285a" stroke-width="1.3"/>
<line x1="139.0" y1="934.2" x2="139.0" y2="936.4000000000001" stroke="#16285a" stroke-width="1.3"/>
<line x1="144.6" y1="934.2" x2="144.6" y2="936.4000000000001" stroke="#16285a" stroke-width="1.3"/>
<line x1="150.2" y1="934.2" x2="150.2" y2="938.4000000000001" stroke="#16285a" stroke-width="1.3"/>
<line x1="155.8" y1="934.2" x2="155.8" y2="936.4000000000001" stroke="#16285a" stroke-width="1.3"/>
<line x1="161.4" y1="934.2" x2="161.4" y2="936.4000000000001" stroke="#16285a" stroke-width="1.3"/>
<line x1="167.0" y1="934.2" x2="167.0" y2="936.4000000000001" stroke="#16285a" stroke-width="1.3"/>
<line x1="172.6" y1="934.2" x2="172.6" y2="938.4000000000001" stroke="#16285a" stroke-width="1.3"/>
<line x1="178.2" y1="934.2" x2="178.2" y2="936.4000000000001" stroke="#16285a" stroke-width="1.3"/>
<line x1="183.8" y1="934.2" x2="183.8" y2="936.4000000000001" stroke="#16285a" stroke-width="1.3"/>
<line x1="189.4" y1="934.2" x2="189.4" y2="936.4000000000001" stroke="#16285a" stroke-width="1.3"/>
<line x1="195.0" y1="934.2" x2="195.0" y2="936.4000000000001" stroke="#16285a" stroke-width="1.3"/>
<line x1="200.6" y1="934.2" x2="200.6" y2="938.4000000000001" stroke="#16285a" stroke-width="1.3"/>
<line x1="206.2" y1="934.2" x2="206.2" y2="936.4000000000001" stroke="#16285a" stroke-width="1.3"/>
<line x1="211.8" y1="934.2" x2="211.8" y2="936.4000000000001" stroke="#16285a" stroke-width="1.3"/>
<line x1="217.4" y1="934.2" x2="217.4" y2="936.4000000000001" stroke="#16285a" stroke-width="1.3"/>
<line x1="223.1" y1="934.2" x2="223.1" y2="938.4000000000001" stroke="#16285a" stroke-width="1.3"/>
<line x1="228.7" y1="934.2" x2="228.7" y2="936.4000000000001" stroke="#16285a" stroke-width="1.3"/>
<line x1="234.3" y1="934.2" x2="234.3" y2="936.4000000000001" stroke="#16285a" stroke-width="1.3"/>
<line x1="239.9" y1="934.2" x2="239.9" y2="936.4000000000001" stroke="#16285a" stroke-width="1.3"/>
<line x1="245.5" y1="934.2" x2="245.5" y2="938.4000000000001" stroke="#16285a" stroke-width="1.3"/>
<line x1="251.1" y1="934.2" x2="251.1" y2="936.4000000000001" stroke="#16285a" stroke-width="1.3"/>
<line x1="256.7" y1="934.2" x2="256.7" y2="936.4000000000001" stroke="#16285a" stroke-width="1.3"/>
<line x1="262.3" y1="934.2" x2="262.3" y2="936.4000000000001" stroke="#16285a" stroke-width="1.3"/>
<line x1="267.9" y1="934.2" x2="267.9" y2="936.4000000000001" stroke="#16285a" stroke-width="1.3"/>
<line x1="273.5" y1="934.2" x2="273.5" y2="938.4000000000001" stroke="#16285a" stroke-width="1.3"/>
<line x1="279.1" y1="934.2" x2="279.1" y2="936.4000000000001" stroke="#16285a" stroke-width="1.3"/>
<line x1="284.7" y1="934.2" x2="284.7" y2="936.4000000000001" stroke="#16285a" stroke-width="1.3"/>
<line x1="290.3" y1="934.2" x2="290.3" y2="936.4000000000001" stroke="#16285a" stroke-width="1.3"/>
<line x1="295.9" y1="934.2" x2="295.9" y2="938.4000000000001" stroke="#16285a" stroke-width="1.3"/>
<line x1="301.5" y1="934.2" x2="301.5" y2="936.4000000000001" stroke="#16285a" stroke-width="1.3"/>
<line x1="307.1" y1="934.2" x2="307.1" y2="936.4000000000001" stroke="#16285a" stroke-width="1.3"/>
<line x1="312.7" y1="934.2" x2="312.7" y2="936.4000000000001" stroke="#16285a" stroke-width="1.3"/>
<line x1="318.3" y1="934.2" x2="318.3" y2="936.4000000000001" stroke="#16285a" stroke-width="1.3"/>
<line x1="323.9" y1="934.2" x2="323.9" y2="938.4000000000001" stroke="#16285a" stroke-width="1.3"/>
<line x1="329.5" y1="934.2" x2="329.5" y2="936.4000000000001" stroke="#16285a" stroke-width="1.3"/>
<line x1="335.1" y1="934.2" x2="335.1" y2="936.4000000000001" stroke="#16285a" stroke-width="1.3"/>
<line x1="340.7" y1="934.2" x2="340.7" y2="936.4000000000001" stroke="#16285a" stroke-width="1.3"/>
<line x1="346.3" y1="934.2" x2="346.3" y2="938.4000000000001" stroke="#16285a" stroke-width="1.3"/>
<line x1="351.9" y1="934.2" x2="351.9" y2="936.4000000000001" stroke="#16285a" stroke-width="1.3"/>
<line x1="357.5" y1="934.2" x2="357.5" y2="936.4000000000001" stroke="#16285a" stroke-width="1.3"/>
<line x1="363.2" y1="934.2" x2="363.2" y2="936.4000000000001" stroke="#16285a" stroke-width="1.3"/>
<line x1="368.8" y1="934.2" x2="368.8" y2="938.4000000000001" stroke="#16285a" stroke-width="1.3"/>
<line x1="374.4" y1="934.2" x2="374.4" y2="936.4000000000001" stroke="#16285a" stroke-width="1.3"/>
<line x1="380.0" y1="934.2" x2="380.0" y2="936.4000000000001" stroke="#16285a" stroke-width="1.3"/>
<line x1="385.6" y1="934.2" x2="385.6" y2="936.4000000000001" stroke="#16285a" stroke-width="1.3"/>
<line x1="391.2" y1="934.2" x2="391.2" y2="936.4000000000001" stroke="#16285a" stroke-width="1.3"/>
<line x1="396.8" y1="934.2" x2="396.8" y2="938.4000000000001" stroke="#16285a" stroke-width="1.3"/>
<line x1="402.4" y1="934.2" x2="402.4" y2="936.4000000000001" stroke="#16285a" stroke-width="1.3"/>
<line x1="408.0" y1="934.2" x2="408.0" y2="936.4000000000001" stroke="#16285a" stroke-width="1.3"/>
<line x1="413.6" y1="934.2" x2="413.6" y2="936.4000000000001" stroke="#16285a" stroke-width="1.3"/>
<line x1="419.2" y1="934.2" x2="419.2" y2="938.4000000000001" stroke="#16285a" stroke-width="1.3"/>
<line x1="424.8" y1="934.2" x2="424.8" y2="936.4000000000001" stroke="#16285a" stroke-width="1.3"/>
<line x1="430.4" y1="934.2" x2="430.4" y2="936.4000000000001" stroke="#16285a" stroke-width="1.3"/>
<line x1="436.0" y1="934.2" x2="436.0" y2="936.4000000000001" stroke="#16285a" stroke-width="1.3"/>
<line x1="441.6" y1="934.2" x2="441.6" y2="938.4000000000001" stroke="#16285a" stroke-width="1.3"/>
<line x1="447.2" y1="934.2" x2="447.2" y2="936.4000000000001" stroke="#16285a" stroke-width="1.3"/>
<line x1="452.8" y1="934.2" x2="452.8" y2="936.4000000000001" stroke="#16285a" stroke-width="1.3"/>
<line x1="458.4" y1="934.2" x2="458.4" y2="936.4000000000001" stroke="#16285a" stroke-width="1.3"/>
<line x1="464.0" y1="934.2" x2="464.0" y2="938.4000000000001" stroke="#16285a" stroke-width="1.3"/>
<line x1="469.6" y1="934.2" x2="469.6" y2="936.4000000000001" stroke="#16285a" stroke-width="1.3"/>
<line x1="475.2" y1="934.2" x2="475.2" y2="936.4000000000001" stroke="#16285a" stroke-width="1.3"/>
<line x1="480.8" y1="934.2" x2="480.8" y2="936.4000000000001" stroke="#16285a" stroke-width="1.3"/>
<line x1="486.4" y1="934.2" x2="486.4" y2="936.4000000000001" stroke="#16285a" stroke-width="1.3"/>
<line x1="492.0" y1="934.2" x2="492.0" y2="938.4000000000001" stroke="#16285a" stroke-width="1.3"/>
<line x1="497.6" y1="934.2" x2="497.6" y2="936.4000000000001" stroke="#16285a" stroke-width="1.3"/>
<line x1="503.3" y1="934.2" x2="503.3" y2="936.4000000000001" stroke="#16285a" stroke-width="1.3"/>
<line x1="508.9" y1="934.2" x2="508.9" y2="936.4000000000001" stroke="#16285a" stroke-width="1.3"/>
<line x1="514.5" y1="934.2" x2="514.5" y2="938.4000000000001" stroke="#16285a" stroke-width="1.3"/>
<line x1="520.1" y1="934.2" x2="520.1" y2="936.4000000000001" stroke="#16285a" stroke-width="1.3"/>
<line x1="525.7" y1="934.2" x2="525.7" y2="936.4000000000001" stroke="#16285a" stroke-width="1.3"/>
<line x1="531.3" y1="934.2" x2="531.3" y2="936.4000000000001" stroke="#16285a" stroke-width="1.3"/>
<line x1="536.9" y1="934.2" x2="536.9" y2="936.4000000000001" stroke="#16285a" stroke-width="1.3"/>
<line x1="542.5" y1="934.2" x2="542.5" y2="938.4000000000001" stroke="#16285a" stroke-width="1.3"/>
<line x1="548.1" y1="934.2" x2="548.1" y2="936.4000000000001" stroke="#16285a" stroke-width="1.3"/>
<line x1="553.7" y1="934.2" x2="553.7" y2="936.4000000000001" stroke="#16285a" stroke-width="1.3"/>
<line x1="559.3" y1="934.2" x2="559.3" y2="936.4000000000001" stroke="#16285a" stroke-width="1.3"/>
<line x1="564.9" y1="934.2" x2="564.9" y2="938.4000000000001" stroke="#16285a" stroke-width="1.3"/>
<line x1="570.5" y1="934.2" x2="570.5" y2="936.4000000000001" stroke="#16285a" stroke-width="1.3"/>
<line x1="576.1" y1="934.2" x2="576.1" y2="936.4000000000001" stroke="#16285a" stroke-width="1.3"/>
<line x1="581.7" y1="934.2" x2="581.7" y2="936.4000000000001" stroke="#16285a" stroke-width="1.3"/>
<line x1="587.3" y1="934.2" x2="587.3" y2="938.4000000000001" stroke="#16285a" stroke-width="1.3"/>
<line x1="592.9" y1="934.2" x2="592.9" y2="936.4000000000001" stroke="#16285a" stroke-width="1.3"/>
<line x1="598.5" y1="934.2" x2="598.5" y2="936.4000000000001" stroke="#16285a" stroke-width="1.3"/>
<line x1="604.1" y1="934.2" x2="604.1" y2="936.4000000000001" stroke="#16285a" stroke-width="1.3"/>
<line x1="609.7" y1="934.2" x2="609.7" y2="936.4000000000001" stroke="#16285a" stroke-width="1.3"/>
<line x1="615.3" y1="934.2" x2="615.3" y2="938.4000000000001" stroke="#16285a" stroke-width="1.3"/>
<line x1="620.9" y1="934.2" x2="620.9" y2="936.4000000000001" stroke="#16285a" stroke-width="1.3"/>
<line x1="626.5" y1="934.2" x2="626.5" y2="936.4000000000001" stroke="#16285a" stroke-width="1.3"/>
<line x1="632.1" y1="934.2" x2="632.1" y2="936.4000000000001" stroke="#16285a" stroke-width="1.3"/>
<line x1="637.8" y1="934.2" x2="637.8" y2="938.4000000000001" stroke="#16285a" stroke-width="1.3"/>
<line x1="643.4" y1="934.2" x2="643.4" y2="936.4000000000001" stroke="#16285a" stroke-width="1.3"/>
<line x1="649.0" y1="934.2" x2="649.0" y2="936.4000000000001" stroke="#16285a" stroke-width="1.3"/>
<line x1="654.6" y1="934.2" x2="654.6" y2="936.4000000000001" stroke="#16285a" stroke-width="1.3"/>
<line x1="660.2" y1="934.2" x2="660.2" y2="938.4000000000001" stroke="#16285a" stroke-width="1.3"/>
<line x1="665.8" y1="934.2" x2="665.8" y2="936.4000000000001" stroke="#16285a" stroke-width="1.3"/>
<line x1="671.4" y1="934.2" x2="671.4" y2="936.4000000000001" stroke="#16285a" stroke-width="1.3"/>
<line x1="677.0" y1="934.2" x2="677.0" y2="936.4000000000001" stroke="#16285a" stroke-width="1.3"/>
<line x1="682.6" y1="934.2" x2="682.6" y2="936.4000000000001" stroke="#16285a" stroke-width="1.3"/>
<line x1="688.2" y1="934.2" x2="688.2" y2="938.4000000000001" stroke="#16285a" stroke-width="1.3"/>
<line x1="693.8" y1="934.2" x2="693.8" y2="936.4000000000001" stroke="#16285a" stroke-width="1.3"/>
<line x1="699.4" y1="934.2" x2="699.4" y2="936.4000000000001" stroke="#16285a" stroke-width="1.3"/>
<line x1="705.0" y1="934.2" x2="705.0" y2="936.4000000000001" stroke="#16285a" stroke-width="1.3"/>
<line x1="710.6" y1="934.2" x2="710.6" y2="938.4000000000001" stroke="#16285a" stroke-width="1.3"/>
<line x1="716.2" y1="934.2" x2="716.2" y2="936.4000000000001" stroke="#16285a" stroke-width="1.3"/>
<line x1="721.8" y1="934.2" x2="721.8" y2="936.4000000000001" stroke="#16285a" stroke-width="1.3"/>
<line x1="727.4" y1="934.2" x2="727.4" y2="936.4000000000001" stroke="#16285a" stroke-width="1.3"/>
<line x1="733.0" y1="934.2" x2="733.0" y2="938.4000000000001" stroke="#16285a" stroke-width="1.3"/>
<line x1="738.6" y1="934.2" x2="738.6" y2="936.4000000000001" stroke="#16285a" stroke-width="1.3"/>
<line x1="744.2" y1="934.2" x2="744.2" y2="936.4000000000001" stroke="#16285a" stroke-width="1.3"/>
<line x1="749.8" y1="934.2" x2="749.8" y2="936.4000000000001" stroke="#16285a" stroke-width="1.3"/>
<line x1="755.4" y1="934.2" x2="755.4" y2="936.4000000000001" stroke="#16285a" stroke-width="1.3"/>
<line x1="761.0" y1="934.2" x2="761.0" y2="938.4000000000001" stroke="#16285a" stroke-width="1.3"/>
<line x1="766.6" y1="934.2" x2="766.6" y2="936.4000000000001" stroke="#16285a" stroke-width="1.3"/>
<line x1="772.2" y1="934.2" x2="772.2" y2="936.4000000000001" stroke="#16285a" stroke-width="1.3"/>
<line x1="777.9" y1="934.2" x2="777.9" y2="936.4000000000001" stroke="#16285a" stroke-width="1.3"/>
<line x1="783.5" y1="934.2" x2="783.5" y2="938.4000000000001" stroke="#16285a" stroke-width="1.3"/>
<line x1="789.1" y1="934.2" x2="789.1" y2="936.4000000000001" stroke="#16285a" stroke-width="1.3"/>
<line x1="794.7" y1="934.2" x2="794.7" y2="936.4000000000001" stroke="#16285a" stroke-width="1.3"/>
<line x1="800.3" y1="934.2" x2="800.3" y2="936.4000000000001" stroke="#16285a" stroke-width="1.3"/>
<line x1="805.9" y1="934.2" x2="805.9" y2="938.4000000000001" stroke="#16285a" stroke-width="1.3"/>
<line x1="811.5" y1="934.2" x2="811.5" y2="936.4000000000001" stroke="#16285a" stroke-width="1.3"/>
<line x1="817.1" y1="934.2" x2="817.1" y2="936.4000000000001" stroke="#16285a" stroke-width="1.3"/>
<line x1="822.7" y1="934.2" x2="822.7" y2="936.4000000000001" stroke="#16285a" stroke-width="1.3"/>
<line x1="828.3" y1="934.2" x2="828.3" y2="936.4000000000001" stroke="#16285a" stroke-width="1.3"/>
<line x1="833.9" y1="934.2" x2="833.9" y2="938.4000000000001" stroke="#16285a" stroke-width="1.3"/>
<line x1="839.5" y1="934.2" x2="839.5" y2="936.4000000000001" stroke="#16285a" stroke-width="1.3"/>
<line x1="845.1" y1="934.2" x2="845.1" y2="936.4000000000001" stroke="#16285a" stroke-width="1.3"/>
<line x1="850.7" y1="934.2" x2="850.7" y2="936.4000000000001" stroke="#16285a" stroke-width="1.3"/>
<line x1="856.3" y1="934.2" x2="856.3" y2="938.4000000000001" stroke="#16285a" stroke-width="1.3"/>
<line x1="861.9" y1="934.2" x2="861.9" y2="936.4000000000001" stroke="#16285a" stroke-width="1.3"/>
<line x1="867.5" y1="934.2" x2="867.5" y2="936.4000000000001" stroke="#16285a" stroke-width="1.3"/>
<line x1="873.1" y1="934.2" x2="873.1" y2="936.4000000000001" stroke="#16285a" stroke-width="1.3"/>
<line x1="878.7" y1="934.2" x2="878.7" y2="936.4000000000001" stroke="#16285a" stroke-width="1.3"/>
<line x1="884.3" y1="934.2" x2="884.3" y2="938.4000000000001" stroke="#16285a" stroke-width="1.3"/>
<line x1="889.9" y1="934.2" x2="889.9" y2="936.4000000000001" stroke="#16285a" stroke-width="1.3"/>
<line x1="895.5" y1="934.2" x2="895.5" y2="936.4000000000001" stroke="#16285a" stroke-width="1.3"/>
<line x1="901.1" y1="934.2" x2="901.1" y2="936.4000000000001" stroke="#16285a" stroke-width="1.3"/>
<line x1="906.7" y1="934.2" x2="906.7" y2="938.4000000000001" stroke="#16285a" stroke-width="1.3"/>
<line x1="912.3" y1="934.2" x2="912.3" y2="936.4000000000001" stroke="#16285a" stroke-width="1.3"/>
<line x1="918.0" y1="934.2" x2="918.0" y2="936.4000000000001" stroke="#16285a" stroke-width="1.3"/>
<line x1="923.6" y1="934.2" x2="923.6" y2="936.4000000000001" stroke="#16285a" stroke-width="1.3"/>
<line x1="929.2" y1="934.2" x2="929.2" y2="938.4000000000001" stroke="#16285a" stroke-width="1.3"/>
<line x1="934.8" y1="934.2" x2="934.8" y2="936.4000000000001" stroke="#16285a" stroke-width="1.3"/>
<line x1="940.4" y1="934.2" x2="940.4" y2="936.4000000000001" stroke="#16285a" stroke-width="1.3"/>
<line x1="946.0" y1="934.2" x2="946.0" y2="936.4000000000001" stroke="#16285a" stroke-width="1.3"/>
<line x1="951.6" y1="934.2" x2="951.6" y2="936.4000000000001" stroke="#16285a" stroke-width="1.3"/>
<line x1="957.2" y1="934.2" x2="957.2" y2="938.4000000000001" stroke="#16285a" stroke-width="1.3"/>
<line x1="962.8" y1="934.2" x2="962.8" y2="936.4000000000001" stroke="#16285a" stroke-width="1.3"/>
<line x1="968.4" y1="934.2" x2="968.4" y2="936.4000000000001" stroke="#16285a" stroke-width="1.3"/>
<line x1="974.0" y1="934.2" x2="974.0" y2="936.4000000000001" stroke="#16285a" stroke-width="1.3"/>
<line x1="979.6" y1="934.2" x2="979.6" y2="938.4000000000001" stroke="#16285a" stroke-width="1.3"/>
<line x1="985.2" y1="934.2" x2="985.2" y2="936.4000000000001" stroke="#16285a" stroke-width="1.3"/>
<line x1="990.8" y1="934.2" x2="990.8" y2="936.4000000000001" stroke="#16285a" stroke-width="1.3"/>
<line x1="996.4" y1="934.2" x2="996.4" y2="936.4000000000001" stroke="#16285a" stroke-width="1.3"/>
<line x1="1002.0" y1="934.2" x2="1002.0" y2="938.4000000000001" stroke="#16285a" stroke-width="1.3"/>
<line x1="1007.6" y1="934.2" x2="1007.6" y2="936.4000000000001" stroke="#16285a" stroke-width="1.3"/>
<line x1="1013.2" y1="934.2" x2="1013.2" y2="936.4000000000001" stroke="#16285a" stroke-width="1.3"/>
<line x1="1018.8" y1="934.2" x2="1018.8" y2="936.4000000000001" stroke="#16285a" stroke-width="1.3"/>
<line x1="1024.4" y1="934.2" x2="1024.4" y2="936.4000000000001" stroke="#16285a" stroke-width="1.3"/>
<line x1="1030.0" y1="934.2" x2="1030.0" y2="938.4000000000001" stroke="#16285a" stroke-width="1.3"/>
<line x1="1035.6" y1="934.2" x2="1035.6" y2="936.4000000000001" stroke="#16285a" stroke-width="1.3"/>
<line x1="1041.2" y1="934.2" x2="1041.2" y2="936.4000000000001" stroke="#16285a" stroke-width="1.3"/>
<line x1="1046.8" y1="934.2" x2="1046.8" y2="936.4000000000001" stroke="#16285a" stroke-width="1.3"/>
<line x1="1052.4" y1="934.2" x2="1052.4" y2="938.4000000000001" stroke="#16285a" stroke-width="1.3"/>
<line x1="1058.0" y1="934.2" x2="1058.0" y2="936.4000000000001" stroke="#16285a" stroke-width="1.3"/>
<line x1="1063.7" y1="934.2" x2="1063.7" y2="936.4000000000001" stroke="#16285a" stroke-width="1.3"/>
<line x1="1069.3" y1="934.2" x2="1069.3" y2="936.4000000000001" stroke="#16285a" stroke-width="1.3"/>
<line x1="1074.9" y1="934.2" x2="1074.9" y2="938.4000000000001" stroke="#16285a" stroke-width="1.3"/>
<line x1="1080.5" y1="934.2" x2="1080.5" y2="936.4000000000001" stroke="#16285a" stroke-width="1.3"/>
<line x1="1086.1" y1="934.2" x2="1086.1" y2="936.4000000000001" stroke="#16285a" stroke-width="1.3"/>
<line x1="1091.7" y1="934.2" x2="1091.7" y2="936.4000000000001" stroke="#16285a" stroke-width="1.3"/>
<line x1="1097.3" y1="934.2" x2="1097.3" y2="936.4000000000001" stroke="#16285a" stroke-width="1.3"/>
<line x1="1102.9" y1="934.2" x2="1102.9" y2="938.4000000000001" stroke="#16285a" stroke-width="1.3"/>
<line x1="1108.5" y1="934.2" x2="1108.5" y2="936.4000000000001" stroke="#16285a" stroke-width="1.3"/>
<line x1="1114.1" y1="934.2" x2="1114.1" y2="936.4000000000001" stroke="#16285a" stroke-width="1.3"/>
<line x1="1119.7" y1="934.2" x2="1119.7" y2="936.4000000000001" stroke="#16285a" stroke-width="1.3"/>
<line x1="1125.3" y1="934.2" x2="1125.3" y2="938.4000000000001" stroke="#16285a" stroke-width="1.3"/>
<line x1="1130.9" y1="934.2" x2="1130.9" y2="936.4000000000001" stroke="#16285a" stroke-width="1.3"/>
<line x1="1136.5" y1="934.2" x2="1136.5" y2="936.4000000000001" stroke="#16285a" stroke-width="1.3"/>
<line x1="1142.1" y1="934.2" x2="1142.1" y2="936.4000000000001" stroke="#16285a" stroke-width="1.3"/>
<line x1="1147.7" y1="934.2" x2="1147.7" y2="938.4000000000001" stroke="#16285a" stroke-width="1.3"/>
<line x1="1153.3" y1="934.2" x2="1153.3" y2="936.4000000000001" stroke="#16285a" stroke-width="1.3"/>
<line x1="1158.9" y1="934.2" x2="1158.9" y2="936.4000000000001" stroke="#16285a" stroke-width="1.3"/>
<line x1="1164.5" y1="934.2" x2="1164.5" y2="936.4000000000001" stroke="#16285a" stroke-width="1.3"/>
<line x1="1170.1" y1="934.2" x2="1170.1" y2="936.4000000000001" stroke="#16285a" stroke-width="1.3"/>
<line x1="1175.7" y1="934.2" x2="1175.7" y2="938.4000000000001" stroke="#16285a" stroke-width="1.3"/>
<line x1="1181.3" y1="934.2" x2="1181.3" y2="936.4000000000001" stroke="#16285a" stroke-width="1.3"/>
<line x1="1186.9" y1="934.2" x2="1186.9" y2="936.4000000000001" stroke="#16285a" stroke-width="1.3"/>
<line x1="1192.5" y1="934.2" x2="1192.5" y2="936.4000000000001" stroke="#16285a" stroke-width="1.3"/>
<line x1="1198.1" y1="934.2" x2="1198.1" y2="938.4000000000001" stroke="#16285a" stroke-width="1.3"/>
<line x1="1203.8" y1="934.2" x2="1203.8" y2="936.4000000000001" stroke="#16285a" stroke-width="1.3"/>
<line x1="1209.4" y1="934.2" x2="1209.4" y2="936.4000000000001" stroke="#16285a" stroke-width="1.3"/>
<line x1="1215.0" y1="934.2" x2="1215.0" y2="936.4000000000001" stroke="#16285a" stroke-width="1.3"/>
<text x="152.9" y="948.6" text-anchor="middle" font-family="Liberation Sans, Arial, sans-serif" font-size="13.9" fill="#111">A</text>
<text x="175.3" y="948.6" text-anchor="middle" font-family="Liberation Sans, Arial, sans-serif" font-size="13.9" fill="#111">M</text>
<text x="203.2" y="948.6" text-anchor="middle" font-family="Liberation Sans, Arial, sans-serif" font-size="13.9" fill="#111">J</text>
<text x="225.6" y="948.6" text-anchor="middle" font-family="Liberation Sans, Arial, sans-serif" font-size="13.9" fill="#111">J</text>
<text x="248.0" y="948.6" text-anchor="middle" font-family="Liberation Sans, Arial, sans-serif" font-size="13.9" fill="#111">A</text>
<text x="275.9" y="948.6" text-anchor="middle" font-family="Liberation Sans, Arial, sans-serif" font-size="13.9" fill="#111">S</text>
<text x="298.3" y="948.6" text-anchor="middle" font-family="Liberation Sans, Arial, sans-serif" font-size="13.9" fill="#111">O</text>
<text x="326.3" y="948.6" text-anchor="middle" font-family="Liberation Sans, Arial, sans-serif" font-size="13.9" fill="#111">N</text>
<text x="348.6" y="948.6" text-anchor="middle" font-family="Liberation Sans, Arial, sans-serif" font-size="13.9" fill="#111">D</text>
<text x="367.4" y="948.6" text-anchor="middle" font-family="Liberation Sans, Arial, sans-serif" font-weight="bold" font-size="15.6" fill="#111">23</text>
<text x="399.0" y="948.6" text-anchor="middle" font-family="Liberation Sans, Arial, sans-serif" font-size="13.9" fill="#111">F</text>
<text x="421.3" y="948.6" text-anchor="middle" font-family="Liberation Sans, Arial, sans-serif" font-size="13.9" fill="#111">M</text>
<text x="443.7" y="948.6" text-anchor="middle" font-family="Liberation Sans, Arial, sans-serif" font-size="13.9" fill="#111">A</text>
<text x="466.1" y="948.6" text-anchor="middle" font-family="Liberation Sans, Arial, sans-serif" font-size="13.9" fill="#111">M</text>
<text x="494.0" y="948.6" text-anchor="middle" font-family="Liberation Sans, Arial, sans-serif" font-size="13.9" fill="#111">J</text>
<text x="516.4" y="948.6" text-anchor="middle" font-family="Liberation Sans, Arial, sans-serif" font-size="13.9" fill="#111">J</text>
<text x="544.4" y="948.6" text-anchor="middle" font-family="Liberation Sans, Arial, sans-serif" font-size="13.9" fill="#111">A</text>
<text x="566.7" y="948.6" text-anchor="middle" font-family="Liberation Sans, Arial, sans-serif" font-size="13.9" fill="#111">S</text>
<text x="589.1" y="948.6" text-anchor="middle" font-family="Liberation Sans, Arial, sans-serif" font-size="13.9" fill="#111">O</text>
<text x="617.1" y="948.6" text-anchor="middle" font-family="Liberation Sans, Arial, sans-serif" font-size="13.9" fill="#111">N</text>
<text x="639.4" y="948.6" text-anchor="middle" font-family="Liberation Sans, Arial, sans-serif" font-size="13.9" fill="#111">D</text>
<text x="658.4" y="948.6" text-anchor="middle" font-family="Liberation Sans, Arial, sans-serif" font-weight="bold" font-size="15.6" fill="#111">24</text>
<text x="689.8" y="948.6" text-anchor="middle" font-family="Liberation Sans, Arial, sans-serif" font-size="13.9" fill="#111">F</text>
<text x="712.1" y="948.6" text-anchor="middle" font-family="Liberation Sans, Arial, sans-serif" font-size="13.9" fill="#111">M</text>
<text x="734.5" y="948.6" text-anchor="middle" font-family="Liberation Sans, Arial, sans-serif" font-size="13.9" fill="#111">A</text>
<text x="762.5" y="948.6" text-anchor="middle" font-family="Liberation Sans, Arial, sans-serif" font-size="13.9" fill="#111">M</text>
<text x="784.8" y="948.6" text-anchor="middle" font-family="Liberation Sans, Arial, sans-serif" font-size="13.9" fill="#111">J</text>
<text x="807.2" y="948.6" text-anchor="middle" font-family="Liberation Sans, Arial, sans-serif" font-size="13.9" fill="#111">J</text>
<text x="835.2" y="948.6" text-anchor="middle" font-family="Liberation Sans, Arial, sans-serif" font-size="13.9" fill="#111">A</text>
<text x="857.5" y="948.6" text-anchor="middle" font-family="Liberation Sans, Arial, sans-serif" font-size="13.9" fill="#111">S</text>
<text x="885.5" y="948.6" text-anchor="middle" font-family="Liberation Sans, Arial, sans-serif" font-size="13.9" fill="#111">O</text>
<text x="907.9" y="948.6" text-anchor="middle" font-family="Liberation Sans, Arial, sans-serif" font-size="13.9" fill="#111">N</text>
<text x="930.2" y="948.6" text-anchor="middle" font-family="Liberation Sans, Arial, sans-serif" font-size="13.9" fill="#111">D</text>
<text x="955.1" y="948.6" text-anchor="middle" font-family="Liberation Sans, Arial, sans-serif" font-weight="bold" font-size="15.6" fill="#111">25</text>
<text x="980.6" y="948.6" text-anchor="middle" font-family="Liberation Sans, Arial, sans-serif" font-size="13.9" fill="#111">F</text>
<text x="1002.9" y="948.6" text-anchor="middle" font-family="Liberation Sans, Arial, sans-serif" font-size="13.9" fill="#111">M</text>
<text x="1030.9" y="948.6" text-anchor="middle" font-family="Liberation Sans, Arial, sans-serif" font-size="13.9" fill="#111">A</text>
<text x="1053.3" y="948.6" text-anchor="middle" font-family="Liberation Sans, Arial, sans-serif" font-size="13.9" fill="#111">M</text>
<text x="1075.6" y="948.6" text-anchor="middle" font-family="Liberation Sans, Arial, sans-serif" font-size="13.9" fill="#111">J</text>
<text x="1103.6" y="948.6" text-anchor="middle" font-family="Liberation Sans, Arial, sans-serif" font-size="13.9" fill="#111">J</text>
<text x="1125.9" y="948.6" text-anchor="middle" font-family="Liberation Sans, Arial, sans-serif" font-size="13.9" fill="#111">A</text>
<text x="1148.3" y="948.6" text-anchor="middle" font-family="Liberation Sans, Arial, sans-serif" font-size="13.9" fill="#111">S</text>
<text x="1176.3" y="948.6" text-anchor="middle" font-family="Liberation Sans, Arial, sans-serif" font-size="13.9" fill="#111">O</text>
<text x="1198.6" y="948.6" text-anchor="middle" font-family="Liberation Sans, Arial, sans-serif" font-size="13.9" fill="#111">N</text>
<line x1="1217.5" y1="68.8" x2="1221.3" y2="68.8" stroke="#16285a" stroke-width="1.4"/>
<text x="1222.5" y="72.8" font-family="Liberation Sans, Arial, sans-serif" font-size="14.2" fill="#111" textLength="16.5" lengthAdjust="spacingAndGlyphs" >90</text>
<line x1="1217.5" y1="89.8" x2="1221.3" y2="89.8" stroke="#16285a" stroke-width="1.4"/>
<text x="1222.5" y="93.8" font-family="Liberation Sans, Arial, sans-serif" font-size="14.2" fill="#111" textLength="16.5" lengthAdjust="spacingAndGlyphs" >70</text>
<line x1="1217.5" y1="110.7" x2="1221.3" y2="110.7" stroke="#16285a" stroke-width="1.4"/>
<text x="1222.5" y="114.7" font-family="Liberation Sans, Arial, sans-serif" font-size="14.2" fill="#111" textLength="16.5" lengthAdjust="spacingAndGlyphs" >50</text>
<line x1="1217.5" y1="131.6" x2="1221.3" y2="131.6" stroke="#16285a" stroke-width="1.4"/>
<text x="1222.5" y="135.6" font-family="Liberation Sans, Arial, sans-serif" font-size="14.2" fill="#111" textLength="16.5" lengthAdjust="spacingAndGlyphs" >30</text>
<line x1="1217.5" y1="152.6" x2="1221.3" y2="152.6" stroke="#16285a" stroke-width="1.4"/>
<text x="1222.5" y="156.6" font-family="Liberation Sans, Arial, sans-serif" font-size="14.2" fill="#111" textLength="16.5" lengthAdjust="spacingAndGlyphs" >10</text>
<line x1="1217.5" y1="518.0" x2="1221.3" y2="518.0" stroke="#16285a" stroke-width="1.4"/>
<text x="1222.5" y="522.0" font-family="Liberation Sans, Arial, sans-serif" font-size="14.2" fill="#111" textLength="16.5" lengthAdjust="spacingAndGlyphs" >18</text>
<line x1="1217.5" y1="486.6" x2="1221.3" y2="486.6" stroke="#16285a" stroke-width="1.4"/>
<text x="1222.5" y="490.6" font-family="Liberation Sans, Arial, sans-serif" font-size="14.2" fill="#111" textLength="16.5" lengthAdjust="spacingAndGlyphs" >20</text>
<line x1="1217.5" y1="456.0" x2="1221.3" y2="456.0" stroke="#16285a" stroke-width="1.4"/>
<text x="1222.5" y="460.0" font-family="Liberation Sans, Arial, sans-serif" font-size="14.2" fill="#111" textLength="16.5" lengthAdjust="spacingAndGlyphs" >22</text>
<line x1="1217.5" y1="424.6" x2="1221.3" y2="424.6" stroke="#16285a" stroke-width="1.4"/>
<text x="1222.5" y="428.6" font-family="Liberation Sans, Arial, sans-serif" font-size="14.2" fill="#111" textLength="16.5" lengthAdjust="spacingAndGlyphs" >24</text>
<line x1="1217.5" y1="393.0" x2="1221.3" y2="393.0" stroke="#16285a" stroke-width="1.4"/>
<text x="1222.5" y="397.0" font-family="Liberation Sans, Arial, sans-serif" font-size="14.2" fill="#111" textLength="16.5" lengthAdjust="spacingAndGlyphs" >26</text>
<line x1="1217.5" y1="362.9" x2="1221.3" y2="362.9" stroke="#16285a" stroke-width="1.4"/>
<text x="1222.5" y="366.9" font-family="Liberation Sans, Arial, sans-serif" font-size="14.2" fill="#111" textLength="16.5" lengthAdjust="spacingAndGlyphs" >28</text>
<line x1="1217.5" y1="331.7" x2="1221.3" y2="331.7" stroke="#16285a" stroke-width="1.4"/>
<text x="1222.5" y="335.7" font-family="Liberation Sans, Arial, sans-serif" font-size="14.2" fill="#111" textLength="16.5" lengthAdjust="spacingAndGlyphs" >30</text>
<line x1="1217.5" y1="301.4" x2="1221.3" y2="301.4" stroke="#16285a" stroke-width="1.4"/>
<text x="1222.5" y="305.4" font-family="Liberation Sans, Arial, sans-serif" font-size="14.2" fill="#111" textLength="16.5" lengthAdjust="spacingAndGlyphs" >32</text>
<line x1="1217.5" y1="270.4" x2="1221.3" y2="270.4" stroke="#16285a" stroke-width="1.4"/>
<text x="1222.5" y="274.4" font-family="Liberation Sans, Arial, sans-serif" font-size="14.2" fill="#111" textLength="16.5" lengthAdjust="spacingAndGlyphs" >34</text>
<line x1="1217.5" y1="239.7" x2="1221.3" y2="239.7" stroke="#16285a" stroke-width="1.4"/>
<text x="1222.5" y="243.7" font-family="Liberation Sans, Arial, sans-serif" font-size="14.2" fill="#111" textLength="16.5" lengthAdjust="spacingAndGlyphs" >36</text>
<line x1="1217.5" y1="177.9" x2="1221.3" y2="177.9" stroke="#16285a" stroke-width="1.4"/>
<text x="1222.5" y="181.9" font-family="Liberation Sans, Arial, sans-serif" font-size="14.2" fill="#111" textLength="16.5" lengthAdjust="spacingAndGlyphs" >40</text>
<line x1="1217.5" y1="530.4" x2="1220.0" y2="530.4" stroke="#16285a" stroke-width="1.2"/>
<line x1="1217.5" y1="524.2" x2="1220.0" y2="524.2" stroke="#16285a" stroke-width="1.2"/>
<line x1="1217.5" y1="518.0" x2="1220.0" y2="518.0" stroke="#16285a" stroke-width="1.2"/>
<line x1="1217.5" y1="511.7" x2="1220.0" y2="511.7" stroke="#16285a" stroke-width="1.2"/>
<line x1="1217.5" y1="505.4" x2="1220.0" y2="505.4" stroke="#16285a" stroke-width="1.2"/>
<line x1="1217.5" y1="499.2" x2="1220.0" y2="499.2" stroke="#16285a" stroke-width="1.2"/>
<line x1="1217.5" y1="492.9" x2="1220.0" y2="492.9" stroke="#16285a" stroke-width="1.2"/>
<line x1="1217.5" y1="486.6" x2="1220.0" y2="486.6" stroke="#16285a" stroke-width="1.2"/>
<line x1="1217.5" y1="480.5" x2="1220.0" y2="480.5" stroke="#16285a" stroke-width="1.2"/>
<line x1="1217.5" y1="474.4" x2="1220.0" y2="474.4" stroke="#16285a" stroke-width="1.2"/>
<line x1="1217.5" y1="468.2" x2="1220.0" y2="468.2" stroke="#16285a" stroke-width="1.2"/>
<line x1="1217.5" y1="462.1" x2="1220.0" y2="462.1" stroke="#16285a" stroke-width="1.2"/>
<line x1="1217.5" y1="456.0" x2="1220.0" y2="456.0" stroke="#16285a" stroke-width="1.2"/>
<line x1="1217.5" y1="449.7" x2="1220.0" y2="449.7" stroke="#16285a" stroke-width="1.2"/>
<line x1="1217.5" y1="443.4" x2="1220.0" y2="443.4" stroke="#16285a" stroke-width="1.2"/>
<line x1="1217.5" y1="437.2" x2="1220.0" y2="437.2" stroke="#16285a" stroke-width="1.2"/>
<line x1="1217.5" y1="430.9" x2="1220.0" y2="430.9" stroke="#16285a" stroke-width="1.2"/>
<line x1="1217.5" y1="424.6" x2="1220.0" y2="424.6" stroke="#16285a" stroke-width="1.2"/>
<line x1="1217.5" y1="418.3" x2="1220.0" y2="418.3" stroke="#16285a" stroke-width="1.2"/>
<line x1="1217.5" y1="412.0" x2="1220.0" y2="412.0" stroke="#16285a" stroke-width="1.2"/>
<line x1="1217.5" y1="405.6" x2="1220.0" y2="405.6" stroke="#16285a" stroke-width="1.2"/>
<line x1="1217.5" y1="399.3" x2="1220.0" y2="399.3" stroke="#16285a" stroke-width="1.2"/>
<line x1="1217.5" y1="393.0" x2="1220.0" y2="393.0" stroke="#16285a" stroke-width="1.2"/>
<line x1="1217.5" y1="387.0" x2="1220.0" y2="387.0" stroke="#16285a" stroke-width="1.2"/>
<line x1="1217.5" y1="381.0" x2="1220.0" y2="381.0" stroke="#16285a" stroke-width="1.2"/>
<line x1="1217.5" y1="374.9" x2="1220.0" y2="374.9" stroke="#16285a" stroke-width="1.2"/>
<line x1="1217.5" y1="368.9" x2="1220.0" y2="368.9" stroke="#16285a" stroke-width="1.2"/>
<line x1="1217.5" y1="362.9" x2="1220.0" y2="362.9" stroke="#16285a" stroke-width="1.2"/>
<line x1="1217.5" y1="356.7" x2="1220.0" y2="356.7" stroke="#16285a" stroke-width="1.2"/>
<line x1="1217.5" y1="350.4" x2="1220.0" y2="350.4" stroke="#16285a" stroke-width="1.2"/>
<line x1="1217.5" y1="344.2" x2="1220.0" y2="344.2" stroke="#16285a" stroke-width="1.2"/>
<line x1="1217.5" y1="337.9" x2="1220.0" y2="337.9" stroke="#16285a" stroke-width="1.2"/>
<line x1="1217.5" y1="331.7" x2="1220.0" y2="331.7" stroke="#16285a" stroke-width="1.2"/>
<line x1="1217.5" y1="325.6" x2="1220.0" y2="325.6" stroke="#16285a" stroke-width="1.2"/>
<line x1="1217.5" y1="319.6" x2="1220.0" y2="319.6" stroke="#16285a" stroke-width="1.2"/>
<line x1="1217.5" y1="313.5" x2="1220.0" y2="313.5" stroke="#16285a" stroke-width="1.2"/>
<line x1="1217.5" y1="307.5" x2="1220.0" y2="307.5" stroke="#16285a" stroke-width="1.2"/>
<line x1="1217.5" y1="301.4" x2="1220.0" y2="301.4" stroke="#16285a" stroke-width="1.2"/>
<line x1="1217.5" y1="295.2" x2="1220.0" y2="295.2" stroke="#16285a" stroke-width="1.2"/>
<line x1="1217.5" y1="289.0" x2="1220.0" y2="289.0" stroke="#16285a" stroke-width="1.2"/>
<line x1="1217.5" y1="282.8" x2="1220.0" y2="282.8" stroke="#16285a" stroke-width="1.2"/>
<line x1="1217.5" y1="276.6" x2="1220.0" y2="276.6" stroke="#16285a" stroke-width="1.2"/>
<line x1="1217.5" y1="270.4" x2="1220.0" y2="270.4" stroke="#16285a" stroke-width="1.2"/>
<line x1="1217.5" y1="264.3" x2="1220.0" y2="264.3" stroke="#16285a" stroke-width="1.2"/>
<line x1="1217.5" y1="258.1" x2="1220.0" y2="258.1" stroke="#16285a" stroke-width="1.2"/>
<line x1="1217.5" y1="252.0" x2="1220.0" y2="252.0" stroke="#16285a" stroke-width="1.2"/>
<line x1="1217.5" y1="245.8" x2="1220.0" y2="245.8" stroke="#16285a" stroke-width="1.2"/>
<line x1="1217.5" y1="239.7" x2="1220.0" y2="239.7" stroke="#16285a" stroke-width="1.2"/>
<line x1="1217.5" y1="233.5" x2="1220.0" y2="233.5" stroke="#16285a" stroke-width="1.2"/>
<line x1="1217.5" y1="227.3" x2="1220.0" y2="227.3" stroke="#16285a" stroke-width="1.2"/>
<line x1="1217.5" y1="221.2" x2="1220.0" y2="221.2" stroke="#16285a" stroke-width="1.2"/>
<line x1="1217.5" y1="215.0" x2="1220.0" y2="215.0" stroke="#16285a" stroke-width="1.2"/>
<line x1="1217.5" y1="208.8" x2="1220.0" y2="208.8" stroke="#16285a" stroke-width="1.2"/>
<line x1="1217.5" y1="202.6" x2="1220.0" y2="202.6" stroke="#16285a" stroke-width="1.2"/>
<line x1="1217.5" y1="196.4" x2="1220.0" y2="196.4" stroke="#16285a" stroke-width="1.2"/>
<line x1="1217.5" y1="190.3" x2="1220.0" y2="190.3" stroke="#16285a" stroke-width="1.2"/>
<line x1="1217.5" y1="184.1" x2="1220.0" y2="184.1" stroke="#16285a" stroke-width="1.2"/>
<line x1="1217.5" y1="177.9" x2="1220.0" y2="177.9" stroke="#16285a" stroke-width="1.2"/>
<line x1="1217.5" y1="719.2" x2="1221.3" y2="719.2" stroke="#16285a" stroke-width="1.4"/>
<text x="1222.5" y="723.2" font-family="Liberation Sans, Arial, sans-serif" font-size="14.2" fill="#111" textLength="20.6" lengthAdjust="spacingAndGlyphs" >1.0</text>
<line x1="1217.5" y1="736.9" x2="1221.3" y2="736.9" stroke="#16285a" stroke-width="1.4"/>
<text x="1222.5" y="740.9" font-family="Liberation Sans, Arial, sans-serif" font-size="14.2" fill="#111" textLength="20.6" lengthAdjust="spacingAndGlyphs" >0.5</text>
<line x1="1217.5" y1="754.6" x2="1221.3" y2="754.6" stroke="#16285a" stroke-width="1.4"/>
<text x="1222.5" y="758.6" font-family="Liberation Sans, Arial, sans-serif" font-size="14.2" fill="#111" textLength="20.6" lengthAdjust="spacingAndGlyphs" >0.0</text>
<line x1="1217.5" y1="772.3" x2="1221.3" y2="772.3" stroke="#16285a" stroke-width="1.4"/>
<text x="1222.5" y="776.3" font-family="Liberation Sans, Arial, sans-serif" font-size="14.2" fill="#111" textLength="25.5" lengthAdjust="spacingAndGlyphs" >-0.5</text>
<line x1="1217.5" y1="790.0" x2="1221.3" y2="790.0" stroke="#16285a" stroke-width="1.4"/>
<text x="1222.5" y="794.0" font-family="Liberation Sans, Arial, sans-serif" font-size="14.2" fill="#111" textLength="25.5" lengthAdjust="spacingAndGlyphs" >-1.0</text>
<line x1="1217.5" y1="871.0" x2="1221.3" y2="871.0" stroke="#16285a" stroke-width="1.4"/>
<text x="1222.5" y="875.0" font-family="Liberation Sans, Arial, sans-serif" font-size="14.2" fill="#111" textLength="16.5" lengthAdjust="spacingAndGlyphs" >50</text>
<line x1="1217.5" y1="902.6" x2="1221.3" y2="902.6" stroke="#16285a" stroke-width="1.4"/>
<text x="1222.5" y="906.6" font-family="Liberation Sans, Arial, sans-serif" font-size="14.2" fill="#111" textLength="16.5" lengthAdjust="spacingAndGlyphs" >20</text>
<path d="M1214.6,94.5L1220.4,86.8H1264.6V102.2H1220.4Z" fill="#fff" stroke="#1c4a96" stroke-width="1.4" stroke-linejoin="miter"/>
<text x="1221.4" y="99.7" font-family="Liberation Sans, Arial, sans-serif" font-size="14.8" fill="#111" textLength="38.0" lengthAdjust="spacingAndGlyphs" >65.21</text>
<path d="M1214.6,245.9L1220.4,238.2H1264.6V253.6H1220.4Z" fill="#fff" stroke="#137a26" stroke-width="1.4" stroke-linejoin="miter"/>
<text x="1221.4" y="251.1" font-family="Liberation Sans, Arial, sans-serif" font-size="14.8" fill="#111" textLength="38.0" lengthAdjust="spacingAndGlyphs" >35.45</text>
<path d="M1214.6,220.6L1220.4,212.9H1264.6V228.3H1220.4Z" fill="#fff" stroke="#dc2447" stroke-width="1.4" stroke-linejoin="miter"/>
<text x="1221.4" y="225.8" font-family="Liberation Sans, Arial, sans-serif" font-size="14.8" fill="#111" textLength="38.0" lengthAdjust="spacingAndGlyphs" >37.13</text>
<path d="M1214.6,202.7L1220.4,194.5H1264.6V210.9H1220.4Z" fill="#fff" stroke="#111" stroke-width="1.7" stroke-linejoin="miter"/>
<text x="1221.6" y="208.0" font-family="Liberation Sans, Arial, sans-serif" font-size="15.6" font-weight="bold" fill="#111" textLength="41.0" lengthAdjust="spacingAndGlyphs" >38.33</text>
<path d="M1214.6,701.8L1220.4,694.1H1264.6V709.5H1220.4Z" fill="#fff" stroke="#f0203c" stroke-width="1.4" stroke-linejoin="miter"/>
<text x="1221.4" y="707.0" font-family="Liberation Sans, Arial, sans-serif" font-size="14.8" fill="#111" textLength="38.0" lengthAdjust="spacingAndGlyphs" >1.451</text>
<path d="M1214.6,692.4L1220.4,684.7H1264.6V700.1H1220.4Z" fill="#fff" stroke="#1c4a96" stroke-width="1.4" stroke-linejoin="miter"/>
<text x="1221.4" y="697.6" font-family="Liberation Sans, Arial, sans-serif" font-size="14.8" fill="#111" textLength="38.0" lengthAdjust="spacingAndGlyphs" >1.728</text>
<path d="M1214.6,743.4L1220.4,735.7H1264.6V751.1H1220.4Z" fill="#fff" stroke="#1c4a96" stroke-width="1.4" stroke-linejoin="miter"/>
<text x="1221.4" y="748.6" font-family="Liberation Sans, Arial, sans-serif" font-size="14.8" fill="#111" textLength="38.0" lengthAdjust="spacingAndGlyphs" >0.277</text>
<path d="M1214.6,836.2L1220.4,828.5H1264.6V843.9H1220.4Z" fill="#fff" stroke="#f0203c" stroke-width="1.4" stroke-linejoin="miter"/>
<text x="1221.4" y="841.4" font-family="Liberation Sans, Arial, sans-serif" font-size="14.8" fill="#111" textLength="38.0" lengthAdjust="spacingAndGlyphs" >82.57</text>
<path d="M1214.6,839.3L1220.4,831.6H1264.6V847.0H1220.4Z" fill="#fff" stroke="#1c4a96" stroke-width="1.4" stroke-linejoin="miter"/>
<text x="1221.4" y="844.5" font-family="Liberation Sans, Arial, sans-serif" font-size="14.8" fill="#111" textLength="38.0" lengthAdjust="spacingAndGlyphs" >78.67</text>
<text x="25.2" y="25.8" font-family="Liberation Sans, Arial, sans-serif" font-size="20.4" font-weight="bold" fill="#111" textLength="79.5" lengthAdjust="spacingAndGlyphs" stroke="#111" stroke-width="0.3">$SILVER</text>
<text x="109.7" y="24.6" font-family="Liberation Sans, Arial, sans-serif" font-size="15.6" fill="#111" textLength="136.1" lengthAdjust="spacingAndGlyphs" >Silver - Spot (EOD)</text>
<text x="254.6" y="24.6" font-family="Liberation Sans, Arial, sans-serif" font-size="12.8" fill="#111" textLength="32.4" lengthAdjust="spacingAndGlyphs" >CME</text>
<text x="24.0" y="43.6" font-family="Liberation Sans, Arial, sans-serif" font-size="15" fill="#111" textLength="80.6" lengthAdjust="spacingAndGlyphs" >8-Aug-2025</text>
<text x="1083.2" y="23.9" font-family="DejaVu Sans, Verdana, sans-serif" font-size="13.4" fill="#3c3c68" textLength="134.2" lengthAdjust="spacingAndGlyphs" >© StockCharts.com</text>
<text x="677.1" y="43.5" font-family="DejaVu Sans, Verdana, sans-serif" font-size="14.6" font-weight="bold" fill="#111" textLength="42.1" lengthAdjust="spacingAndGlyphs" >Open</text>
<text x="725.0" y="43.5" font-family="Liberation Sans, Arial, sans-serif" font-size="15.4" fill="#111" textLength="38.8" lengthAdjust="spacingAndGlyphs" >37.01</text>
<text x="774.1" y="43.5" font-family="DejaVu Sans, Verdana, sans-serif" font-size="14.6" font-weight="bold" fill="#111" textLength="34.6" lengthAdjust="spacingAndGlyphs" >High</text>
<text x="814.2" y="43.5" font-family="Liberation Sans, Arial, sans-serif" font-size="15.4" fill="#111" textLength="39.8" lengthAdjust="spacingAndGlyphs" >38.52</text>
<text x="864.2" y="43.5" font-family="DejaVu Sans, Verdana, sans-serif" font-size="14.6" font-weight="bold" fill="#111" textLength="34.0" lengthAdjust="spacingAndGlyphs" >Low</text>
<text x="904.5" y="43.5" font-family="Liberation Sans, Arial, sans-serif" font-size="15.4" fill="#111" textLength="39.1" lengthAdjust="spacingAndGlyphs" >36.67</text>
<text x="954.6" y="43.5" font-family="DejaVu Sans, Verdana, sans-serif" font-size="14.6" font-weight="bold" fill="#111" textLength="45.9" lengthAdjust="spacingAndGlyphs" >Close</text>
<text x="1006.3" y="43.5" font-family="Liberation Sans, Arial, sans-serif" font-size="15.4" fill="#111" textLength="39.6" lengthAdjust="spacingAndGlyphs" >38.33</text>
<text x="1056.0" y="43.5" font-family="DejaVu Sans, Verdana, sans-serif" font-size="14.6" font-weight="bold" fill="#111" textLength="31.5" lengthAdjust="spacingAndGlyphs" >Chg</text>
<text x="1093.8" y="43.5" font-family="Liberation Sans, Arial, sans-serif" font-size="15.4" fill="#111" textLength="109.2" lengthAdjust="spacingAndGlyphs" >+1.31 (+3.52%)</text>
<path d="M1206.6,42.4L1211.9,36.4L1217.2,42.4Z" fill="#3b4a5c"/>
<rect x="26" y="50" width="141" height="16" fill="#fff"/>
<rect x="26" y="176" width="227" height="17" fill="#fff"/>
<rect x="26" y="193" width="93" height="16" fill="#fff"/>
<rect x="26" y="209" width="108" height="16" fill="#fff"/>
<rect x="26" y="225" width="117" height="15.5" fill="#fff"/>
<rect x="26" y="558" width="140" height="17" fill="#fff"/>
<rect x="26" y="684.5" width="322" height="15.100000000000023" fill="#fff"/>
<rect x="26" y="810.6" width="350" height="15.0" fill="#fff"/>
<text x="47.9" y="63.0" font-family="DejaVu Sans, Verdana, sans-serif" font-size="14.6" fill="#111" textLength="117.3" lengthAdjust="spacingAndGlyphs" >RSI(14) 65.21</text>
<path d="M28.7,63.1V59.6L30.6,56.8L32.2,53.9L35,50.4L36,54.6L38.2,59L41.2,53.5V63.1Z" fill="#82b2f8"/>
<path d="M28.9,63.1V59.6L30.6,56.8L32.2,53.9L35,50.4L36,54.6L38.2,59L41,53.5V63.1" fill="none" stroke="#002a7a" stroke-width="1.6" stroke-linejoin="miter"/>
<text x="47.7" y="189.5" font-family="DejaVu Sans, Verdana, sans-serif" font-size="14.6" fill="#111" textLength="203.9" lengthAdjust="spacingAndGlyphs" >$SILVER (Weekly) 38.33</text>
<path d="M30.5,177.6V186.3M28.4,179.7H30.5M30.5,184.3H32.7M35.2,182.2V190.6M33.2,188.6H37.3M39.6,177.6V187.6M39.6,182.5H41.8M37.6,185.8H39.6" stroke="#0a6e0a" stroke-width="1.6" fill="none"/>
<rect x="28.6" y="199.0" width="13" height="2.6" fill="#00008b"/>
<text x="44.6" y="205.9" font-family="Liberation Sans, Arial, sans-serif" font-size="14" fill="#00008b" textLength="72.7" lengthAdjust="spacingAndGlyphs" >MA(0) 0.00</text>
<rect x="28.6" y="214.9" width="13" height="2.6" fill="#dc143c"/>
<text x="44.6" y="221.8" font-family="Liberation Sans, Arial, sans-serif" font-size="14" fill="#dc143c" textLength="87.7" lengthAdjust="spacingAndGlyphs" >MA(10) 37.13</text>
<rect x="28.6" y="231.29999999999998" width="13" height="2.6" fill="#006400"/>
<text x="44.6" y="238.2" font-family="Liberation Sans, Arial, sans-serif" font-size="14" fill="#006400" textLength="96.7" lengthAdjust="spacingAndGlyphs" >EMA(20) 35.45</text>
<text x="482.4" y="167.2" font-family="Liberation Sans, Arial, sans-serif" font-size="31.7" font-weight="bold" fill="#2e86d4" textLength="109.7" lengthAdjust="spacingAndGlyphs" stroke="#2e86d4" stroke-width="0.8">SILVER</text>
<path d="M28.4,571.6V564.4H33V571.6ZM33,571.6V558.5H37.6V571.6ZM37.6,571.6V561.2H42V571.6Z" fill="#0a6a0a"/>
<path d="M30.7,566.5V571.6M35.3,560.5V571.6M39.8,563.2V571.6" stroke="#4c9e4c" stroke-width="1.1" fill="none"/>
<text x="47.0" y="571.5" font-family="DejaVu Sans, Verdana, sans-serif" font-size="14.6" fill="#111" textLength="116.7" lengthAdjust="spacingAndGlyphs" >Volume undef</text>
<rect x="28.4" y="689.9" width="13.2" height="3" fill="#1c3d78"/>
<text x="47.6" y="697.1" font-family="DejaVu Sans, Verdana, sans-serif" font-size="14.6" fill="#111" textLength="127.2" lengthAdjust="spacingAndGlyphs" >MACD(12,26,9)</text>
<text x="180.8" y="697.1" font-family="DejaVu Sans, Verdana, sans-serif" font-size="14.6" fill="#1c3d78" textLength="45.9" lengthAdjust="spacingAndGlyphs" >1.728</text>
<text x="229.6" y="697.1" font-family="DejaVu Sans, Verdana, sans-serif" font-size="14.6" fill="#f0203c" textLength="56.4" lengthAdjust="spacingAndGlyphs" >, 1.451</text>
<text x="289.5" y="697.1" font-family="DejaVu Sans, Verdana, sans-serif" font-size="14.6" fill="#5e9cf0" textLength="56.9" lengthAdjust="spacingAndGlyphs" >, 0.277</text>
<rect x="28.4" y="815.9" width="13.2" height="3" fill="#1c3d78"/>
<text x="47.6" y="823.1" font-family="DejaVu Sans, Verdana, sans-serif" font-size="14.6" fill="#111" textLength="213.5" lengthAdjust="spacingAndGlyphs" >Full STO %K(14,3) %D(3)</text>
<text x="268.6" y="823.1" font-family="DejaVu Sans, Verdana, sans-serif" font-size="14.6" fill="#1c3d78" textLength="52.4" lengthAdjust="spacingAndGlyphs" >78.67,</text>
<text x="328.5" y="823.1" font-family="DejaVu Sans, Verdana, sans-serif" font-size="14.6" fill="#f0203c" textLength="45.8" lengthAdjust="spacingAndGlyphs" >82.57</text>
<rect x="23.6" y="933.6" width="116" height="18" fill="#c9c9c9"/>
<text x="28.7" y="951.4" font-family="Liberation Sans, Arial, sans-serif" font-size="15.4" fill="#333" textLength="105.6" lengthAdjust="spacingAndGlyphs" >31 Mar Y:-13.81</text>
<circle cx="1270.5" cy="8" r="17.2" fill="#333" stroke="#444" stroke-width="1.2"/>
<circle cx="1270.5" cy="8" r="14.6" fill="#333" stroke="#fff" stroke-width="1.3"/>
<text x="1263.4" y="17" font-family="Liberation Sans, Arial, sans-serif" font-weight="bold" font-size="26" fill="#fff">X</text>
</svg>
</body></html>
